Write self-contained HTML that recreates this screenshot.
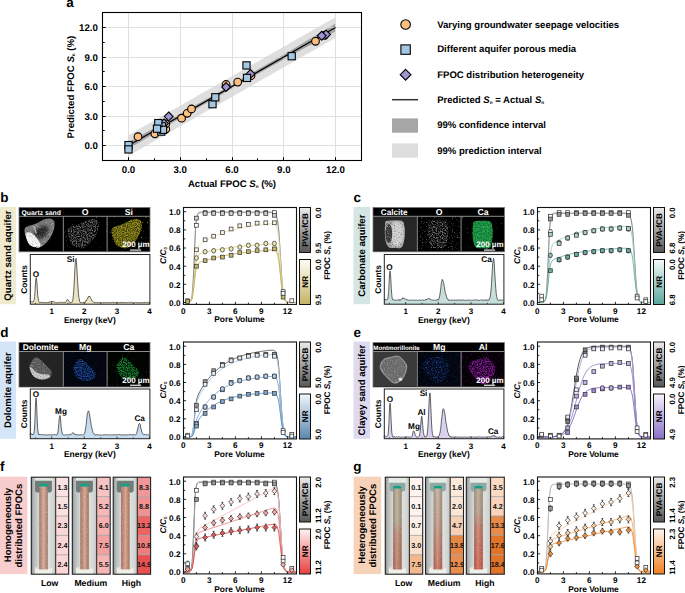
<!DOCTYPE html>
<html><head><meta charset="utf-8"><style>
html,body{margin:0;padding:0;background:#fff;width:685px;height:593px;overflow:hidden}
svg{display:block;font-family:"Liberation Sans",sans-serif;text-rendering:geometricPrecision}
</style></head><body>
<svg width="685" height="593" viewBox="0 0 685 593" font-family="Liberation Sans, sans-serif"><defs><linearGradient id="g1b" x1="0" y1="0" x2="0" y2="1"><stop offset="0" stop-color="#ececec"/><stop offset="1" stop-color="#555"/></linearGradient><linearGradient id="g2b" x1="0" y1="0" x2="0" y2="1"><stop offset="0" stop-color="#fffff6"/><stop offset="1" stop-color="#c4b264"/></linearGradient><filter id="bl" x="-50%" y="-50%" width="200%" height="200%"><feGaussianBlur stdDeviation="1.6"/></filter><filter id="bl2" x="-50%" y="-50%" width="200%" height="200%"><feGaussianBlur stdDeviation="0.6"/></filter><clipPath id="cb1"><path d="M49.8,218.6 C51.3,218.8 52.9,219.6 53.7,220.5 C54.5,221.4 54.6,222.7 54.6,224.3 C54.6,225.9 54.4,228 53.7,230.1 C53,232.3 51.8,235.1 50.5,237.2 C49.2,239.4 47.8,241.3 46,243 C44.2,244.7 41.8,246.9 39.6,247.5 C37.5,248.1 34.9,247.5 33.1,246.8 C31.3,246.2 29.9,245.5 28.6,243.6 C27.3,241.7 26.1,237.6 25.4,235.3 C24.7,233.1 24.4,231.5 24.5,230.1 C24.6,228.7 24.9,227.8 26.1,226.9 C27.3,226.1 29.8,225.8 31.8,225 C33.8,224.2 36.1,223.4 38.3,222.4 C40.4,221.4 42.8,219.8 44.7,219.2 C46.6,218.6 48.3,218.4 49.8,218.6 Z"/></clipPath><filter id="sp0" x="0" y="0" width="1" height="1" color-interpolation-filters="sRGB"><feTurbulence type="fractalNoise" baseFrequency="0.9" numOctaves="2" seed="7"/><feColorMatrix type="matrix" values="0 0 0 0 1.000 0 0 0 0 1.000 0 0 0 0 1.000 3.5 0 0 0 -2.0"/></filter><filter id="sp1" x="0" y="0" width="1" height="1" color-interpolation-filters="sRGB"><feTurbulence type="fractalNoise" baseFrequency="0.9" numOctaves="2" seed="57"/><feColorMatrix type="matrix" values="0 0 0 0 0.000 0 0 0 0 0.000 0 0 0 0 0.000 3.5 0 0 0 -2.0"/></filter><filter id="sp2" x="0" y="0" width="1" height="1" color-interpolation-filters="sRGB"><feTurbulence type="fractalNoise" baseFrequency="0.8" numOctaves="1" seed="14"/><feColorMatrix type="matrix" values="0 0 0 0 0.463 0 0 0 0 0.463 0 0 0 0 0.463 8 0 0 0 -5.5"/></filter><clipPath id="cb2"><path d="M93.6,219.1 C95.2,219.3 96.8,220.1 97.6,221 C98.5,221.9 98.6,223.2 98.6,224.8 C98.6,226.4 98.3,228.5 97.6,230.6 C96.9,232.8 95.7,235.6 94.3,237.7 C93,239.9 91.6,241.8 89.7,243.5 C87.8,245.2 85.3,247.4 83.1,248 C80.9,248.6 78.3,248 76.4,247.3 C74.5,246.7 73.1,246 71.8,244.1 C70.5,242.2 69.2,238.1 68.5,235.8 C67.8,233.6 67.4,232 67.6,230.6 C67.7,229.2 68,228.2 69.2,227.4 C70.5,226.6 73,226.2 75.1,225.5 C77.2,224.8 79.6,223.9 81.8,222.9 C84,221.9 86.4,220.3 88.4,219.7 C90.3,219.1 92.1,218.9 93.6,219.1 Z"/></clipPath><filter id="sp3" x="0" y="0" width="1" height="1" color-interpolation-filters="sRGB"><feTurbulence type="fractalNoise" baseFrequency="0.8" numOctaves="1" seed="4"/><feColorMatrix type="matrix" values="0 0 0 0 0.463 0 0 0 0 0.463 0 0 0 0 0.463 3 0 0 0 -1.15"/></filter><filter id="sp4" x="0" y="0" width="1" height="1" color-interpolation-filters="sRGB"><feTurbulence type="fractalNoise" baseFrequency="0.8" numOctaves="1" seed="15"/><feColorMatrix type="matrix" values="0 0 0 0 0.604 0 0 0 0 0.573 0 0 0 0 0.110 8 0 0 0 -5.5"/></filter><clipPath id="cb3"><path d="M136.9,219.1 C138.4,219.3 140,220.1 140.8,221 C141.6,221.9 141.7,223.2 141.7,224.8 C141.7,226.4 141.5,228.5 140.8,230.6 C140.1,232.8 138.9,235.6 137.6,237.7 C136.3,239.9 134.9,241.8 133.1,243.5 C131.3,245.2 128.8,247.4 126.7,248 C124.5,248.6 122,248 120.2,247.3 C118.4,246.7 117,246 115.7,244.1 C114.4,242.2 113.2,238.1 112.5,235.8 C111.8,233.6 111.5,232 111.6,230.6 C111.7,229.2 112,228.2 113.2,227.4 C114.4,226.6 116.9,226.2 118.9,225.5 C120.9,224.8 123.2,223.9 125.4,222.9 C127.5,221.9 129.9,220.3 131.8,219.7 C133.7,219.1 135.4,218.9 136.9,219.1 Z"/></clipPath><filter id="sp5" x="0" y="0" width="1" height="1" color-interpolation-filters="sRGB"><feTurbulence type="fractalNoise" baseFrequency="0.8" numOctaves="1" seed="5"/><feColorMatrix type="matrix" values="0 0 0 0 0.604 0 0 0 0 0.573 0 0 0 0 0.110 3 0 0 0 -1.0"/></filter><clipPath id="cb4"><path d="M386,221.3 C387.5,220.4 391.2,220.6 394,220.6 C396.8,220.6 400.8,220.3 402.5,221.2 C404.2,222.1 403.9,223.9 404.3,225.8 C404.7,227.7 404.9,230.3 404.8,232.8 C404.8,235.3 404.6,238.4 404,240.8 C403.4,243.2 403,246.2 401.5,247.4 C400,248.6 397.1,248 395,248 C392.9,248 390.3,248.2 388.8,247.2 C387.3,246.2 386.5,244.2 385.8,241.8 C385.1,239.4 384.9,235.5 384.8,232.8 C384.7,230.1 384.8,227.7 385,225.8 C385.2,223.9 384.5,222.2 386,221.3 Z"/></clipPath><filter id="sp6" x="0" y="0" width="1" height="1" color-interpolation-filters="sRGB"><feTurbulence type="fractalNoise" baseFrequency="0.9" numOctaves="2" seed="8"/><feColorMatrix type="matrix" values="0 0 0 0 1.000 0 0 0 0 1.000 0 0 0 0 1.000 3.0 0 0 0 -1.6"/></filter><filter id="sp7" x="0" y="0" width="1" height="1" color-interpolation-filters="sRGB"><feTurbulence type="fractalNoise" baseFrequency="0.9" numOctaves="2" seed="58"/><feColorMatrix type="matrix" values="0 0 0 0 0.000 0 0 0 0 0.000 0 0 0 0 0.000 3.0 0 0 0 -1.6"/></filter><filter id="sp8" x="0" y="0" width="1" height="1" color-interpolation-filters="sRGB"><feTurbulence type="fractalNoise" baseFrequency="0.8" numOctaves="1" seed="16"/><feColorMatrix type="matrix" values="0 0 0 0 0.549 0 0 0 0 0.549 0 0 0 0 0.549 3 0 0 0 -1.75"/></filter><clipPath id="cb5"><path d="M429.4,221.3 C430.9,220.4 434.6,220.6 437.4,220.6 C440.1,220.6 444.2,220.3 445.9,221.2 C447.6,222.1 447.3,223.9 447.7,225.8 C448.1,227.7 448.2,230.3 448.2,232.8 C448.1,235.3 447.9,238.4 447.4,240.8 C446.8,243.2 446.4,246.2 444.9,247.4 C443.4,248.6 440.5,248 438.4,248 C436.3,248 433.7,248.2 432.2,247.2 C430.7,246.2 429.9,244.2 429.2,241.8 C428.5,239.4 428.3,235.5 428.2,232.8 C428.1,230.1 428.2,227.7 428.4,225.8 C428.6,223.9 427.9,222.2 429.4,221.3 Z"/></clipPath><filter id="sp9" x="0" y="0" width="1" height="1" color-interpolation-filters="sRGB"><feTurbulence type="fractalNoise" baseFrequency="0.8" numOctaves="1" seed="6"/><feColorMatrix type="matrix" values="0 0 0 0 0.549 0 0 0 0 0.549 0 0 0 0 0.549 3 0 0 0 -1.3"/></filter><filter id="sp10" x="0" y="0" width="1" height="1" color-interpolation-filters="sRGB"><feTurbulence type="fractalNoise" baseFrequency="0.8" numOctaves="1" seed="19"/><feColorMatrix type="matrix" values="0 0 0 0 0.133 0 0 0 0 0.690 0 0 0 0 0.322 8 0 0 0 -5.6"/></filter><clipPath id="cb6"><path d="M474.1,221.8 C475.6,221 478.9,220.9 481.6,220.8 C484.3,220.7 488.3,220.4 490.1,221.4 C491.9,222.4 491.8,224.7 492.2,226.8 C492.6,228.9 492.7,231.3 492.6,233.8 C492.5,236.3 492.3,239.5 491.8,241.8 C491.3,244.1 491.1,246.7 489.6,247.8 C488.1,248.9 484.9,248.4 482.6,248.3 C480.4,248.2 477.6,248.5 476.1,247.4 C474.6,246.3 474,244.2 473.4,241.8 C472.8,239.4 472.7,235.5 472.6,232.8 C472.5,230.1 472.7,227.6 472.9,225.8 C473.2,224 472.7,222.6 474.1,221.8 Z"/></clipPath><filter id="sp11" x="0" y="0" width="1" height="1" color-interpolation-filters="sRGB"><feTurbulence type="fractalNoise" baseFrequency="0.8" numOctaves="1" seed="9"/><feColorMatrix type="matrix" values="0 0 0 0 0.133 0 0 0 0 0.690 0 0 0 0 0.322 3 0 0 0 -1.0"/></filter><clipPath id="cb7"><path d="M35.5,357.4 C37.1,356.8 38.4,358.1 40.2,359.4 C42,360.7 44.3,363.4 46.2,365.4 C48.1,367.4 51,369.5 51.6,371.5 C52.2,373.5 51.3,376.2 49.6,377.5 C47.9,378.8 44.2,379.7 41.5,379.5 C38.8,379.3 35.4,378.2 33.4,376.2 C31.4,374.2 29.8,369.7 29.4,367.5 C29,365.3 29.8,364.5 30.8,362.8 C31.8,361.1 33.9,358 35.5,357.4 Z"/></clipPath><filter id="sp12" x="0" y="0" width="1" height="1" color-interpolation-filters="sRGB"><feTurbulence type="fractalNoise" baseFrequency="0.9" numOctaves="2" seed="10"/><feColorMatrix type="matrix" values="0 0 0 0 1.000 0 0 0 0 1.000 0 0 0 0 1.000 3.5 0 0 0 -2.0"/></filter><filter id="sp13" x="0" y="0" width="1" height="1" color-interpolation-filters="sRGB"><feTurbulence type="fractalNoise" baseFrequency="0.9" numOctaves="2" seed="60"/><feColorMatrix type="matrix" values="0 0 0 0 0.000 0 0 0 0 0.000 0 0 0 0 0.000 3.5 0 0 0 -2.0"/></filter><filter id="sp14" x="0" y="0" width="1" height="1" color-interpolation-filters="sRGB"><feTurbulence type="fractalNoise" baseFrequency="0.8" numOctaves="1" seed="21"/><feColorMatrix type="matrix" values="0 0 0 0 0.102 0 0 0 0 0.267 0 0 0 0 0.580 3 0 0 0 -1.95"/></filter><clipPath id="cb8"><path d="M79.4,358.9 C81,358.3 82.3,359.6 84.1,360.9 C85.9,362.2 88.2,364.9 90.1,366.9 C92,368.9 94.9,371 95.5,373 C96.1,375 95.2,377.7 93.5,379 C91.8,380.3 88.1,381.2 85.4,381 C82.7,380.8 79.3,379.7 77.3,377.7 C75.3,375.7 73.7,371.2 73.3,369 C72.9,366.8 73.7,366 74.7,364.3 C75.7,362.6 77.8,359.5 79.4,358.9 Z"/></clipPath><filter id="sp15" x="0" y="0" width="1" height="1" color-interpolation-filters="sRGB"><feTurbulence type="fractalNoise" baseFrequency="0.8" numOctaves="1" seed="11"/><feColorMatrix type="matrix" values="0 0 0 0 0.102 0 0 0 0 0.267 0 0 0 0 0.580 3 0 0 0 -0.95"/></filter><filter id="sp16" x="0" y="0" width="1" height="1" color-interpolation-filters="sRGB"><feTurbulence type="fractalNoise" baseFrequency="0.8" numOctaves="1" seed="22"/><feColorMatrix type="matrix" values="0 0 0 0 0.094 0 0 0 0 0.541 0 0 0 0 0.204 3 0 0 0 -1.95"/></filter><clipPath id="cb9"><path d="M122.8,357.4 C124.4,356.8 125.7,358.1 127.5,359.4 C129.3,360.7 131.6,363.4 133.5,365.4 C135.4,367.4 138.3,369.5 138.9,371.5 C139.5,373.5 138.6,376.2 136.9,377.5 C135.2,378.8 131.5,379.7 128.8,379.5 C126.1,379.3 122.7,378.2 120.7,376.2 C118.7,374.2 117.1,369.7 116.7,367.5 C116.3,365.3 117.1,364.5 118.1,362.8 C119.1,361.1 121.2,358 122.8,357.4 Z"/></clipPath><filter id="sp17" x="0" y="0" width="1" height="1" color-interpolation-filters="sRGB"><feTurbulence type="fractalNoise" baseFrequency="0.8" numOctaves="1" seed="12"/><feColorMatrix type="matrix" values="0 0 0 0 0.094 0 0 0 0 0.541 0 0 0 0 0.204 3 0 0 0 -1.0"/></filter><clipPath id="cb10"><path d="M396.8,356 C398.4,356 398.6,355.9 400.2,357.4 C401.8,358.9 405.4,362.3 406.3,364.8 C407.2,367.3 406.4,369.8 405.6,372.2 C404.8,374.6 403.4,377.7 401.5,379.5 C399.6,381.3 396.6,383.3 394.2,382.9 C391.8,382.5 388.9,379 386.8,376.9 C384.7,374.8 382.5,372 381.4,370.1 C380.3,368.2 379.9,367.2 380.4,365.4 C380.8,363.6 382.4,360.7 384.1,359.4 C385.8,358.1 388.7,358 390.8,357.4 C392.9,356.8 395.2,356 396.8,356 Z"/></clipPath><filter id="sp18" x="0" y="0" width="1" height="1" color-interpolation-filters="sRGB"><feTurbulence type="fractalNoise" baseFrequency="0.9" numOctaves="2" seed="13"/><feColorMatrix type="matrix" values="0 0 0 0 1.000 0 0 0 0 1.000 0 0 0 0 1.000 3.0 0 0 0 -1.6"/></filter><filter id="sp19" x="0" y="0" width="1" height="1" color-interpolation-filters="sRGB"><feTurbulence type="fractalNoise" baseFrequency="0.9" numOctaves="2" seed="63"/><feColorMatrix type="matrix" values="0 0 0 0 0.000 0 0 0 0 0.000 0 0 0 0 0.000 3.0 0 0 0 -1.6"/></filter><filter id="sp20" x="0" y="0" width="1" height="1" color-interpolation-filters="sRGB"><feTurbulence type="fractalNoise" baseFrequency="0.8" numOctaves="1" seed="24"/><feColorMatrix type="matrix" values="0 0 0 0 0.102 0 0 0 0 0.267 0 0 0 0 0.580 3 0 0 0 -1.8"/></filter><clipPath id="cb11"><path d="M439.2,356 C440.8,356 441,355.9 442.6,357.4 C444.2,358.9 447.8,362.3 448.7,364.8 C449.6,367.3 448.8,369.8 448,372.2 C447.2,374.6 445.8,377.7 443.9,379.5 C442,381.3 439,383.3 436.6,382.9 C434.1,382.5 431.3,379 429.2,376.9 C427.1,374.8 424.9,372 423.8,370.1 C422.7,368.2 422.3,367.2 422.8,365.4 C423.2,363.6 424.8,360.7 426.5,359.4 C428.2,358.1 431.1,358 433.2,357.4 C435.3,356.8 437.6,356 439.2,356 Z"/></clipPath><filter id="sp21" x="0" y="0" width="1" height="1" color-interpolation-filters="sRGB"><feTurbulence type="fractalNoise" baseFrequency="0.8" numOctaves="1" seed="14"/><feColorMatrix type="matrix" values="0 0 0 0 0.102 0 0 0 0 0.267 0 0 0 0 0.580 3 0 0 0 -1.35"/></filter><filter id="sp22" x="0" y="0" width="1" height="1" color-interpolation-filters="sRGB"><feTurbulence type="fractalNoise" baseFrequency="0.8" numOctaves="1" seed="25"/><feColorMatrix type="matrix" values="0 0 0 0 0.565 0 0 0 0 0.094 0 0 0 0 0.659 3 0 0 0 -1.85"/></filter><clipPath id="cb12"><path d="M485.4,357.5 C487,357.5 487.2,357.4 488.8,358.9 C490.4,360.4 494,363.8 494.9,366.3 C495.8,368.8 495,371.2 494.2,373.7 C493.4,376.1 492,379.2 490.1,381 C488.2,382.8 485.2,384.8 482.8,384.4 C480.4,384 477.5,380.5 475.4,378.4 C473.3,376.3 471.1,373.5 470,371.6 C468.9,369.7 468.6,368.7 469,366.9 C469.4,365.1 471,362.2 472.7,360.9 C474.4,359.6 477.3,359.5 479.4,358.9 C481.5,358.3 483.8,357.5 485.4,357.5 Z"/></clipPath><filter id="sp23" x="0" y="0" width="1" height="1" color-interpolation-filters="sRGB"><feTurbulence type="fractalNoise" baseFrequency="0.8" numOctaves="1" seed="15"/><feColorMatrix type="matrix" values="0 0 0 0 0.565 0 0 0 0 0.094 0 0 0 0 0.659 3 0 0 0 -1.05"/></filter><linearGradient id="g1c" x1="0" y1="0" x2="0" y2="1"><stop offset="0" stop-color="#ececec"/><stop offset="1" stop-color="#555"/></linearGradient><linearGradient id="g2c" x1="0" y1="0" x2="0" y2="1"><stop offset="0" stop-color="#f4faf9"/><stop offset="1" stop-color="#5aa69c"/></linearGradient><linearGradient id="g1d" x1="0" y1="0" x2="0" y2="1"><stop offset="0" stop-color="#ececec"/><stop offset="1" stop-color="#555"/></linearGradient><linearGradient id="g2d" x1="0" y1="0" x2="0" y2="1"><stop offset="0" stop-color="#f2f7fc"/><stop offset="1" stop-color="#5a86b0"/></linearGradient><linearGradient id="g1e" x1="0" y1="0" x2="0" y2="1"><stop offset="0" stop-color="#ececec"/><stop offset="1" stop-color="#555"/></linearGradient><linearGradient id="g2e" x1="0" y1="0" x2="0" y2="1"><stop offset="0" stop-color="#f6f4fb"/><stop offset="1" stop-color="#8a6ec8"/></linearGradient><linearGradient id="cg31" x1="0" y1="0" x2="1" y2="0"><stop offset="0" stop-color="#8a8e8c"/><stop offset="0.1" stop-color="#b4b8b6"/><stop offset="0.3" stop-color="#d2d5d3"/><stop offset="0.5" stop-color="#e0e2e0"/><stop offset="0.75" stop-color="#dcdedc"/><stop offset="0.92" stop-color="#cfd2d0"/><stop offset="1" stop-color="#b4b8b6"/></linearGradient><linearGradient id="tu435" x1="0" y1="0" x2="1" y2="0"><stop offset="0" stop-color="#a07868"/><stop offset="0.35" stop-color="#c69a8a"/><stop offset="0.5" stop-color="#d2aa9a"/><stop offset="0.7" stop-color="#c69a8a"/><stop offset="1" stop-color="#987060"/></linearGradient><filter id="sp24" x="0" y="0" width="1" height="1" color-interpolation-filters="sRGB"><feTurbulence type="fractalNoise" baseFrequency="1.2" numOctaves="1" seed="21"/><feColorMatrix type="matrix" values="0 0 0 0 0.957 0 0 0 0 0.878 0 0 0 0 0.847 4.0 0 0 0 -2.3"/></filter><linearGradient id="cg72" x1="0" y1="0" x2="1" y2="0"><stop offset="0" stop-color="#8a8e8c"/><stop offset="0.1" stop-color="#b4b8b6"/><stop offset="0.3" stop-color="#d2d5d3"/><stop offset="0.5" stop-color="#e0e2e0"/><stop offset="0.75" stop-color="#dcdedc"/><stop offset="0.92" stop-color="#cfd2d0"/><stop offset="1" stop-color="#b4b8b6"/></linearGradient><linearGradient id="tu845" x1="0" y1="0" x2="1" y2="0"><stop offset="0" stop-color="#a07868"/><stop offset="0.35" stop-color="#c29080"/><stop offset="0.5" stop-color="#d2aa9a"/><stop offset="0.7" stop-color="#c29080"/><stop offset="1" stop-color="#987060"/></linearGradient><linearGradient id="cg113" x1="0" y1="0" x2="1" y2="0"><stop offset="0" stop-color="#8a8e8c"/><stop offset="0.1" stop-color="#b4b8b6"/><stop offset="0.3" stop-color="#d2d5d3"/><stop offset="0.5" stop-color="#e0e2e0"/><stop offset="0.75" stop-color="#dcdedc"/><stop offset="0.92" stop-color="#cfd2d0"/><stop offset="1" stop-color="#b4b8b6"/></linearGradient><linearGradient id="tu1252" x1="0" y1="0" x2="1" y2="0"><stop offset="0" stop-color="#a07868"/><stop offset="0.35" stop-color="#ca8e7a"/><stop offset="0.5" stop-color="#d2aa9a"/><stop offset="0.7" stop-color="#ca8e7a"/><stop offset="1" stop-color="#987060"/></linearGradient><linearGradient id="cg385" x1="0" y1="0" x2="1" y2="0"><stop offset="0" stop-color="#8a8e8c"/><stop offset="0.1" stop-color="#b4b8b6"/><stop offset="0.3" stop-color="#d2d5d3"/><stop offset="0.5" stop-color="#e0e2e0"/><stop offset="0.75" stop-color="#dcdedc"/><stop offset="0.92" stop-color="#cfd2d0"/><stop offset="1" stop-color="#b4b8b6"/></linearGradient><linearGradient id="tg3973" x1="0" y1="0" x2="0" y2="1"><stop offset="0" stop-color="#b4a68e"/><stop offset="0.42" stop-color="#b4a48c"/><stop offset="0.55" stop-color="#bc8a74"/><stop offset="1" stop-color="#bc7460"/></linearGradient><linearGradient id="th3973" x1="0" y1="0" x2="1" y2="0"><stop offset="0" stop-color="#000" stop-opacity="0.18"/><stop offset="0.45" stop-color="#fff" stop-opacity="0.15"/><stop offset="1" stop-color="#000" stop-opacity="0.2"/></linearGradient><filter id="sp25" x="0" y="0" width="1" height="1" color-interpolation-filters="sRGB"><feTurbulence type="fractalNoise" baseFrequency="1.2" numOctaves="1" seed="22"/><feColorMatrix type="matrix" values="0 0 0 0 0.910 0 0 0 0 0.878 0 0 0 0 0.831 4.0 0 0 0 -2.3"/></filter><linearGradient id="cg425" x1="0" y1="0" x2="1" y2="0"><stop offset="0" stop-color="#8a8e8c"/><stop offset="0.1" stop-color="#b4b8b6"/><stop offset="0.3" stop-color="#d2d5d3"/><stop offset="0.5" stop-color="#e0e2e0"/><stop offset="0.75" stop-color="#dcdedc"/><stop offset="0.92" stop-color="#cfd2d0"/><stop offset="1" stop-color="#b4b8b6"/></linearGradient><linearGradient id="tg4378" x1="0" y1="0" x2="0" y2="1"><stop offset="0" stop-color="#bcac98"/><stop offset="0.4" stop-color="#c09a86"/><stop offset="1" stop-color="#c46a58"/></linearGradient><linearGradient id="th4378" x1="0" y1="0" x2="1" y2="0"><stop offset="0" stop-color="#000" stop-opacity="0.18"/><stop offset="0.45" stop-color="#fff" stop-opacity="0.15"/><stop offset="1" stop-color="#000" stop-opacity="0.2"/></linearGradient><linearGradient id="cg466" x1="0" y1="0" x2="1" y2="0"><stop offset="0" stop-color="#8a8e8c"/><stop offset="0.1" stop-color="#b4b8b6"/><stop offset="0.3" stop-color="#d2d5d3"/><stop offset="0.5" stop-color="#e0e2e0"/><stop offset="0.75" stop-color="#dcdedc"/><stop offset="0.92" stop-color="#cfd2d0"/><stop offset="1" stop-color="#b4b8b6"/></linearGradient><linearGradient id="tg4784" x1="0" y1="0" x2="0" y2="1"><stop offset="0" stop-color="#b4a48c"/><stop offset="0.3" stop-color="#b89a84"/><stop offset="0.5" stop-color="#c47a66"/><stop offset="1" stop-color="#d05a48"/></linearGradient><linearGradient id="th4784" x1="0" y1="0" x2="1" y2="0"><stop offset="0" stop-color="#000" stop-opacity="0.18"/><stop offset="0.45" stop-color="#fff" stop-opacity="0.15"/><stop offset="1" stop-color="#000" stop-opacity="0.2"/></linearGradient><linearGradient id="g1f" x1="0" y1="0" x2="0" y2="1"><stop offset="0" stop-color="#ececec"/><stop offset="1" stop-color="#555"/></linearGradient><linearGradient id="g2f" x1="0" y1="0" x2="0" y2="1"><stop offset="0" stop-color="#fff2f2"/><stop offset="1" stop-color="#e84040"/></linearGradient><linearGradient id="g1g" x1="0" y1="0" x2="0" y2="1"><stop offset="0" stop-color="#ececec"/><stop offset="1" stop-color="#555"/></linearGradient><linearGradient id="g2g" x1="0" y1="0" x2="0" y2="1"><stop offset="0" stop-color="#fff6ee"/><stop offset="1" stop-color="#f08020"/></linearGradient></defs><polygon points="128.5,135.2 137.1,130.3 145.8,125.3 154.4,120.4 163,115.5 171.6,110.6 180.2,105.7 188.9,100.8 197.5,95.8 206.1,90.9 214.8,86 223.4,81.1 232,76.2 240.6,71.3 249.2,66.3 257.9,61.4 266.5,56.5 275.1,51.6 283.8,46.7 292.4,41.8 301,36.8 309.6,31.9 318.2,27 326.9,22.1 335.5,17.2 335.5,37.8 326.9,42.7 318.2,47.7 309.6,52.6 301,57.5 292.4,62.4 283.8,67.3 275.1,72.2 266.5,77.2 257.9,82.1 249.2,87 240.6,91.9 232,96.8 223.4,101.7 214.8,106.7 206.1,111.6 197.5,116.5 188.9,121.4 180.2,126.3 171.6,131.2 163,136.2 154.4,141.1 145.8,146 137.1,150.9 128.5,155.8" fill="#dfdfdf" stroke="none" stroke-width="1" />
<polygon points="128.5,142.1 137.1,137.5 145.8,132.8 154.4,128 163,123.3 171.6,118.5 180.2,113.7 188.9,108.9 197.5,104.1 206.1,99.2 214.8,94.4 223.4,89.5 232,84.5 240.6,79.6 249.2,74.6 257.9,69.6 266.5,64.6 275.1,59.5 283.8,54.5 292.4,49.4 301,44.3 309.6,39.1 318.2,34 326.9,28.8 335.5,23.6 335.5,31.4 326.9,36.1 318.2,40.7 309.6,45.4 301,50.1 292.4,54.8 283.8,59.5 275.1,64.3 266.5,69.1 257.9,73.9 249.2,78.7 240.6,83.6 232,88.5 223.4,93.4 214.8,98.3 206.1,103.3 197.5,108.2 188.9,113.2 180.2,118.3 171.6,123.3 163,128.4 154.4,133.5 145.8,138.6 137.1,143.7 128.5,148.9" fill="#a2a2a2" stroke="none" stroke-width="1" />
<line x1="128.5" y1="12.5" x2="128.5" y2="160.5" stroke="#d8d8d8" stroke-width="1.0" opacity="0.8"/>
<line x1="102.5" y1="145.5" x2="361.5" y2="145.5" stroke="#d8d8d8" stroke-width="1.0" opacity="0.8"/>
<line x1="180.5" y1="12.5" x2="180.5" y2="160.5" stroke="#d8d8d8" stroke-width="1.0" opacity="0.8"/>
<line x1="102.5" y1="116.5" x2="361.5" y2="116.5" stroke="#d8d8d8" stroke-width="1.0" opacity="0.8"/>
<line x1="232.5" y1="12.5" x2="232.5" y2="160.5" stroke="#d8d8d8" stroke-width="1.0" opacity="0.8"/>
<line x1="102.5" y1="86.5" x2="361.5" y2="86.5" stroke="#d8d8d8" stroke-width="1.0" opacity="0.8"/>
<line x1="283.5" y1="12.5" x2="283.5" y2="160.5" stroke="#d8d8d8" stroke-width="1.0" opacity="0.8"/>
<line x1="102.5" y1="57.5" x2="361.5" y2="57.5" stroke="#d8d8d8" stroke-width="1.0" opacity="0.8"/>
<line x1="335.5" y1="12.5" x2="335.5" y2="160.5" stroke="#d8d8d8" stroke-width="1.0" opacity="0.8"/>
<line x1="102.5" y1="27.5" x2="361.5" y2="27.5" stroke="#d8d8d8" stroke-width="1.0" opacity="0.8"/>
<line x1="128.5" y1="145.5" x2="335.5" y2="27.5" stroke="#000" stroke-width="1.25" />
<rect x="102.5" y="12.5" width="259" height="148" fill="none" stroke="#000" stroke-width="1.1" />
<line x1="128.5" y1="160.5" x2="128.5" y2="157.2" stroke="#000" stroke-width="1" />
<line x1="102.5" y1="145.5" x2="105.8" y2="145.5" stroke="#000" stroke-width="1" />
<line x1="154.5" y1="160.5" x2="154.5" y2="158.3" stroke="#000" stroke-width="1" />
<line x1="102.5" y1="130.5" x2="104.7" y2="130.5" stroke="#000" stroke-width="1" />
<line x1="180.5" y1="160.5" x2="180.5" y2="157.2" stroke="#000" stroke-width="1" />
<line x1="102.5" y1="116.5" x2="105.8" y2="116.5" stroke="#000" stroke-width="1" />
<line x1="206.5" y1="160.5" x2="206.5" y2="158.3" stroke="#000" stroke-width="1" />
<line x1="102.5" y1="101.5" x2="104.7" y2="101.5" stroke="#000" stroke-width="1" />
<line x1="232.5" y1="160.5" x2="232.5" y2="157.2" stroke="#000" stroke-width="1" />
<line x1="102.5" y1="86.5" x2="105.8" y2="86.5" stroke="#000" stroke-width="1" />
<line x1="257.5" y1="160.5" x2="257.5" y2="158.3" stroke="#000" stroke-width="1" />
<line x1="102.5" y1="71.5" x2="104.7" y2="71.5" stroke="#000" stroke-width="1" />
<line x1="283.5" y1="160.5" x2="283.5" y2="157.2" stroke="#000" stroke-width="1" />
<line x1="102.5" y1="57.5" x2="105.8" y2="57.5" stroke="#000" stroke-width="1" />
<line x1="309.5" y1="160.5" x2="309.5" y2="158.3" stroke="#000" stroke-width="1" />
<line x1="102.5" y1="42.5" x2="104.7" y2="42.5" stroke="#000" stroke-width="1" />
<line x1="335.5" y1="160.5" x2="335.5" y2="157.2" stroke="#000" stroke-width="1" />
<line x1="102.5" y1="27.5" x2="105.8" y2="27.5" stroke="#000" stroke-width="1" />
<text x="128.5" y="173.4" font-size="9.7" font-weight="bold" text-anchor="middle" fill="#000" >0.0</text>
<text x="97.9" y="149" font-size="9.7" font-weight="bold" text-anchor="end" fill="#000" >0.0</text>
<text x="180.2" y="173.4" font-size="9.7" font-weight="bold" text-anchor="middle" fill="#000" >3.0</text>
<text x="97.9" y="119.5" font-size="9.7" font-weight="bold" text-anchor="end" fill="#000" >3.0</text>
<text x="232" y="173.4" font-size="9.7" font-weight="bold" text-anchor="middle" fill="#000" >6.0</text>
<text x="97.9" y="90" font-size="9.7" font-weight="bold" text-anchor="end" fill="#000" >6.0</text>
<text x="283.8" y="173.4" font-size="9.7" font-weight="bold" text-anchor="middle" fill="#000" >9.0</text>
<text x="97.9" y="60.5" font-size="9.7" font-weight="bold" text-anchor="end" fill="#000" >9.0</text>
<text x="335.5" y="173.4" font-size="9.7" font-weight="bold" text-anchor="middle" fill="#000" >12.0</text>
<text x="97.9" y="31" font-size="9.7" font-weight="bold" text-anchor="end" fill="#000" >12.0</text>
<text x="232" y="186.9" font-size="9.6" font-weight="bold" text-anchor="middle" fill="#000" >Actual FPOC <tspan font-style="italic">S</tspan><tspan font-size="4.6" dy="0.6">n</tspan><tspan dy="-0.6"> (%)</tspan></text>
<text x="74.4" y="87.1" font-size="9.65" font-weight="bold" text-anchor="middle" fill="#000" transform="rotate(-90 74.4 87.1)" >Predicted FPOC <tspan font-style="italic">S</tspan><tspan font-size="4.6" dy="0.6">n</tspan><tspan dy="-0.6"> (%)</tspan></text>
<text x="66.3" y="7" font-size="13.5" font-weight="bold" text-anchor="start" fill="#000" >a</text>
<circle cx="138" cy="136.7" r="3.85" fill="#fdbf80" stroke="#000" stroke-width="1.1"/>
<circle cx="154.9" cy="133.8" r="3.85" fill="#fdbf80" stroke="#000" stroke-width="1.1"/>
<circle cx="165.8" cy="129.1" r="3.85" fill="#fdbf80" stroke="#000" stroke-width="1.1"/>
<circle cx="165.8" cy="123.8" r="3.85" fill="#fdbf80" stroke="#000" stroke-width="1.1"/>
<circle cx="163" cy="126.8" r="3.85" fill="#fdbf80" stroke="#000" stroke-width="1.1"/>
<circle cx="181.6" cy="118.2" r="3.85" fill="#fdbf80" stroke="#000" stroke-width="1.1"/>
<circle cx="187.2" cy="113.3" r="3.85" fill="#fdbf80" stroke="#000" stroke-width="1.1"/>
<circle cx="191.5" cy="109" r="3.85" fill="#fdbf80" stroke="#000" stroke-width="1.1"/>
<circle cx="226.1" cy="84.5" r="3.85" fill="#fdbf80" stroke="#000" stroke-width="1.1"/>
<circle cx="237.7" cy="82.1" r="3.85" fill="#fdbf80" stroke="#000" stroke-width="1.1"/>
<circle cx="251" cy="75.7" r="3.85" fill="#fdbf80" stroke="#000" stroke-width="1.1"/>
<circle cx="315.5" cy="41.3" r="3.85" fill="#fdbf80" stroke="#000" stroke-width="1.1"/>
<circle cx="324.3" cy="35.4" r="3.85" fill="#fdbf80" stroke="#000" stroke-width="1.1"/>
<polygon points="326,30.2 330.4,34.6 326,39 321.6,34.6" fill="#a094d2" stroke="#000" stroke-width="1.1" />
<polygon points="164,119 168.4,123.4 164,127.8 159.6,123.4" fill="#a094d2" stroke="#000" stroke-width="1.1" />
<polygon points="168.7,112 173.1,116.4 168.7,120.8 164.3,116.4" fill="#a094d2" stroke="#000" stroke-width="1.1" />
<polygon points="226.1,82.6 230.5,87 226.1,91.4 221.7,87" fill="#a094d2" stroke="#000" stroke-width="1.1" />
<polygon points="250.5,69.5 254.9,73.9 250.5,78.3 246.1,73.9" fill="#a094d2" stroke="#000" stroke-width="1.1" />
<polygon points="321.7,31.4 326.1,35.8 321.7,40.2 317.3,35.8" fill="#a094d2" stroke="#000" stroke-width="1.1" />
<rect x="124.9" y="141.5" width="7.2" height="7.2" fill="#a3c6e3" stroke="#000" stroke-width="1.1" />
<rect x="124.9" y="145.8" width="7.2" height="7.2" fill="#a3c6e3" stroke="#000" stroke-width="1.1" />
<rect x="157.7" y="128" width="7.2" height="7.2" fill="#a3c6e3" stroke="#000" stroke-width="1.1" />
<rect x="158.4" y="122.8" width="7.2" height="7.2" fill="#a3c6e3" stroke="#000" stroke-width="1.1" />
<rect x="159.4" y="126.2" width="7.2" height="7.2" fill="#a3c6e3" stroke="#000" stroke-width="1.1" />
<rect x="154.7" y="119.5" width="7.2" height="7.2" fill="#a3c6e3" stroke="#000" stroke-width="1.1" />
<rect x="153.4" y="125.1" width="7.2" height="7.2" fill="#a3c6e3" stroke="#000" stroke-width="1.1" />
<rect x="208.9" y="100.6" width="7.2" height="7.2" fill="#a3c6e3" stroke="#000" stroke-width="1.1" />
<rect x="211.7" y="93.7" width="7.2" height="7.2" fill="#a3c6e3" stroke="#000" stroke-width="1.1" />
<rect x="242.9" y="61.8" width="7.2" height="7.2" fill="#a3c6e3" stroke="#000" stroke-width="1.1" />
<rect x="243.4" y="74.3" width="7.2" height="7.2" fill="#a3c6e3" stroke="#000" stroke-width="1.1" />
<rect x="288.1" y="52.6" width="7.2" height="7.2" fill="#a3c6e3" stroke="#000" stroke-width="1.1" />
<circle cx="405.6" cy="24.5" r="4.8" fill="#fdbf80" stroke="#000" stroke-width="1.1"/>
<rect x="400.9" y="44.9" width="9.4" height="9.4" fill="#a3c6e3" stroke="#000" stroke-width="1.1" />
<polygon points="405.6,69.3 411,74.7 405.6,80.1 400.2,74.7" fill="#a094d2" stroke="#000" stroke-width="1.1" />
<line x1="392" y1="99.7" x2="418" y2="99.7" stroke="#333" stroke-width="1.5" />
<rect x="392" y="118.4" width="26" height="14.3" fill="#a6a6a6" stroke="none" stroke-width="1" />
<rect x="392" y="143.4" width="26" height="14.3" fill="#dedede" stroke="none" stroke-width="1" />
<text x="437.2" y="27.9" font-size="9.55" font-weight="bold" text-anchor="start" fill="#000" >Varying groundwater seepage velocities</text>
<text x="437.2" y="52.4" font-size="9.55" font-weight="bold" text-anchor="start" fill="#000" >Different aquifer porous media</text>
<text x="437.2" y="77.8" font-size="9.55" font-weight="bold" text-anchor="start" fill="#000" >FPOC distribution heterogeneity</text>
<text x="437.2" y="103.1" font-size="9.55" font-weight="bold" text-anchor="start" fill="#000" >Predicted <tspan font-style="italic">S</tspan><tspan font-size="4.6" dy="0.6">n</tspan><tspan dy="-0.6"> = Actual </tspan><tspan font-style="italic">S</tspan><tspan font-size="4.6" dy="0.6">n</tspan><tspan dy="-0.6"></tspan></text>
<text x="437.2" y="128.4" font-size="9.55" font-weight="bold" text-anchor="start" fill="#000" >99% confidence interval</text>
<text x="437.2" y="153.9" font-size="9.55" font-weight="bold" text-anchor="start" fill="#000" >99% prediction interval</text>
<polyline points="183.4,302.5 184.3,302.5 185.1,302.5 186,302.5 186.9,302.5 187.7,302.5 188.6,302.4 189.5,302.1 190.3,301.5 191.2,299.9 192.1,295.7 192.9,286.1 193.8,268.6 194.7,246.5 195.5,228.7 196.4,219 197.3,214.6 198.1,212.9 199,212.2 199.9,211.9 200.7,211.8 201.6,211.8 202.5,211.7 203.3,211.7 204.2,211.7 205.1,211.7 205.9,211.7 206.8,211.7 207.7,211.7 208.5,211.7 209.4,211.7 210.3,211.7 211.1,211.7 212,211.7 212.9,211.7 213.7,211.7 214.6,211.7 215.5,211.7 216.3,211.7 217.2,211.7 218.1,211.7 218.9,211.7 219.8,211.7 220.7,211.7 221.5,211.7 222.4,211.7 223.3,211.7 224.1,211.7 225,211.7 225.9,211.7 226.8,211.7 227.6,211.7 228.5,211.7 229.4,211.7 230.2,211.7 231.1,211.7 232,211.7 232.8,211.7 233.7,211.7 234.6,211.7 235.4,211.7 236.3,211.7 237.2,211.7 238,211.7 238.9,211.7 239.8,211.7 240.6,211.7 241.5,211.7 242.4,211.7 243.2,211.7 244.1,211.7 245,211.7 245.8,211.7 246.7,211.7 247.6,211.7 248.4,211.7 249.3,211.7 250.2,211.7 251,211.7 251.9,211.7 252.8,211.7 253.6,211.7 254.5,211.7 255.4,211.7 256.2,211.7 257.1,211.7 258,211.7 258.8,211.7 259.7,211.7 260.6,211.7 261.4,211.7 262.3,211.7 263.2,211.7 264,211.7 264.9,211.7 265.8,211.7 266.6,211.7 267.5,211.7 268.4,211.7 269.2,211.7 270.1,211.7 271,211.8 271.8,211.8 272.7,211.9 273.6,212.1 274.4,212.5 275.3,213.3 276.2,214.8 277,217.6 277.9,222.5 278.8,230.6 279.6,242.5 280.5,257.1 281.4,271.7 282.2,283.6 283.1,291.7 284,296.6 284.8,299.4 285.7,300.9 286.6,301.7 287.4,302.1 288.3,302.3 289.2,302.4 290,302.4 290.9,302.5 291.8,302.5 292.6,302.5 293.5,302.5 294.4,302.5 295.2,302.5 296.1,302.5" fill="none" stroke="#bdbdbd" stroke-width="0.9" stroke-linejoin="round"/>
<polyline points="183.4,302.5 184.3,302.5 185.1,302.5 186,302.5 186.9,302.5 187.7,302.5 188.6,302.4 189.5,302.1 190.3,301.5 191.2,299.9 192.1,295.7 192.9,286.3 193.8,268.9 194.7,247 195.5,229.5 196.4,219.8 197.3,215.5 198.1,213.8 199,213.1 199.9,212.8 200.7,212.7 201.6,212.7 202.5,212.7 203.3,212.6 204.2,212.6 205.1,212.6 205.9,212.6 206.8,212.6 207.7,212.6 208.5,212.6 209.4,212.6 210.3,212.6 211.1,212.6 212,212.6 212.9,212.6 213.7,212.6 214.6,212.6 215.5,212.6 216.3,212.6 217.2,212.6 218.1,212.6 218.9,212.6 219.8,212.6 220.7,212.6 221.5,212.6 222.4,212.6 223.3,212.6 224.1,212.6 225,212.6 225.9,212.6 226.8,212.6 227.6,212.6 228.5,212.6 229.4,212.6 230.2,212.6 231.1,212.6 232,212.6 232.8,212.6 233.7,212.6 234.6,212.6 235.4,212.6 236.3,212.6 237.2,212.6 238,212.6 238.9,212.6 239.8,212.6 240.6,212.6 241.5,212.6 242.4,212.6 243.2,212.6 244.1,212.6 245,212.6 245.8,212.6 246.7,212.6 247.6,212.6 248.4,212.6 249.3,212.6 250.2,212.6 251,212.6 251.9,212.6 252.8,212.6 253.6,212.6 254.5,212.6 255.4,212.6 256.2,212.6 257.1,212.6 258,212.6 258.8,212.6 259.7,212.6 260.6,212.6 261.4,212.6 262.3,212.6 263.2,212.6 264,212.6 264.9,212.6 265.8,212.6 266.6,212.6 267.5,212.6 268.4,212.6 269.2,212.6 270.1,212.6 271,212.7 271.8,212.7 272.7,212.8 273.6,213 274.4,213.4 275.3,214.2 276.2,215.7 277,218.4 277.9,223.3 278.8,231.4 279.6,243.1 280.5,257.6 281.4,272 282.2,283.7 283.1,291.8 284,296.7 284.8,299.4 285.7,300.9 286.6,301.7 287.4,302.1 288.3,302.3 289.2,302.4 290,302.4 290.9,302.5 291.8,302.5 292.6,302.5 293.5,302.5 294.4,302.5 295.2,302.5 296.1,302.5" fill="none" stroke="#8a8a8a" stroke-width="0.9" stroke-linejoin="round"/>
<polyline points="183.4,302.5 184.3,302.5 185.1,302.5 186,302.5 186.9,302.5 187.7,302.4 188.6,302.3 189.5,302.1 190.3,301.7 191.2,300.6 192.1,298.4 192.9,293.8 193.8,286 194.7,275.3 195.5,264.1 196.4,255.6 197.3,250.3 198.1,247.4 199,245.7 199.9,244.6 200.7,243.8 201.6,243.2 202.5,242.6 203.3,242 204.2,241.5 205.1,241 205.9,240.5 206.8,240 207.7,239.5 208.5,239 209.4,238.6 210.3,238.1 211.1,237.7 212,237.3 212.9,236.9 213.7,236.5 214.6,236.1 215.5,235.7 216.3,235.4 217.2,235 218.1,234.6 218.9,234.3 219.8,234 220.7,233.6 221.5,233.3 222.4,233 223.3,232.7 224.1,232.4 225,232.1 225.9,231.9 226.8,231.6 227.6,231.3 228.5,231.1 229.4,230.8 230.2,230.6 231.1,230.3 232,230.1 232.8,229.8 233.7,229.6 234.6,229.4 235.4,229.2 236.3,229 237.2,228.8 238,228.6 238.9,228.4 239.8,228.2 240.6,228 241.5,227.8 242.4,227.7 243.2,227.5 244.1,227.3 245,227.2 245.8,227 246.7,226.9 247.6,226.7 248.4,226.6 249.3,226.4 250.2,226.3 251,226.1 251.9,226 252.8,225.9 253.6,225.8 254.5,225.6 255.4,225.5 256.2,225.4 257.1,225.3 258,225.2 258.8,225.1 259.7,225 260.6,224.9 261.4,224.8 262.3,224.7 263.2,224.6 264,224.5 264.9,224.4 265.8,224.3 266.6,224.2 267.5,224.1 268.4,224 269.2,224 270.1,223.9 271,223.8 271.8,223.8 272.7,223.8 273.6,224 274.4,224.2 275.3,224.9 276.2,226.1 277,228.5 277.9,232.7 278.8,239.7 279.6,250.1 280.5,262.8 281.4,275.5 282.2,285.9 283.1,293 284,297.3 284.8,299.8 285.7,301.1 286.6,301.8 287.4,302.1 288.3,302.3 289.2,302.4 290,302.4 290.9,302.5 291.8,302.5 292.6,302.5 293.5,302.5 294.4,302.5 295.2,302.5 296.1,302.5" fill="none" stroke="#e6dfa8" stroke-width="0.9" stroke-linejoin="round"/>
<polyline points="183.4,302.5 184.3,302.5 185.1,302.5 186,302.5 186.9,302.5 187.7,302.4 188.6,302.3 189.5,302 190.3,301.4 191.2,300.1 192.1,297.3 192.9,292 193.8,283.7 194.7,274 195.5,265.5 196.4,259.9 197.3,256.8 198.1,255.2 199,254.4 199.9,253.8 200.7,253.5 201.6,253.2 202.5,252.9 203.3,252.7 204.2,252.5 205.1,252.3 205.9,252.1 206.8,251.9 207.7,251.7 208.5,251.5 209.4,251.3 210.3,251.1 211.1,250.9 212,250.7 212.9,250.5 213.7,250.3 214.6,250.2 215.5,250 216.3,249.8 217.2,249.7 218.1,249.5 218.9,249.4 219.8,249.2 220.7,249.1 221.5,248.9 222.4,248.8 223.3,248.6 224.1,248.5 225,248.4 225.9,248.2 226.8,248.1 227.6,248 228.5,247.8 229.4,247.7 230.2,247.6 231.1,247.5 232,247.4 232.8,247.3 233.7,247.1 234.6,247 235.4,246.9 236.3,246.8 237.2,246.7 238,246.6 238.9,246.5 239.8,246.4 240.6,246.3 241.5,246.2 242.4,246.2 243.2,246.1 244.1,246 245,245.9 245.8,245.8 246.7,245.7 247.6,245.6 248.4,245.6 249.3,245.5 250.2,245.4 251,245.3 251.9,245.3 252.8,245.2 253.6,245.1 254.5,245.1 255.4,245 256.2,244.9 257.1,244.9 258,244.8 258.8,244.7 259.7,244.7 260.6,244.6 261.4,244.6 262.3,244.5 263.2,244.4 264,244.4 264.9,244.3 265.8,244.3 266.6,244.2 267.5,244.2 268.4,244.1 269.2,244.1 270.1,244.1 271,244 271.8,244 272.7,244 273.6,244.1 274.4,244.4 275.3,244.8 276.2,245.7 277,247.5 277.9,250.7 278.8,255.9 279.6,263.6 280.5,273 281.4,282.5 282.2,290.2 283.1,295.5 284,298.7 284.8,300.5 285.7,301.4 286.6,301.9 287.4,302.2 288.3,302.4 289.2,302.4 290,302.5 290.9,302.5 291.8,302.5 292.6,302.5 293.5,302.5 294.4,302.5 295.2,302.5 296.1,302.5" fill="none" stroke="#d8cc80" stroke-width="0.9" stroke-linejoin="round"/>
<polyline points="183.4,302.5 184.3,302.5 185.1,302.5 186,302.5 186.9,302.5 187.7,302.4 188.6,302.3 189.5,302.1 190.3,301.6 191.2,300.5 192.1,298.3 192.9,294 193.8,287.3 194.7,279.4 195.5,272.5 196.4,267.8 197.3,265.2 198.1,263.8 199,263 199.9,262.4 200.7,262 201.6,261.7 202.5,261.4 203.3,261.1 204.2,260.8 205.1,260.5 205.9,260.3 206.8,260 207.7,259.8 208.5,259.5 209.4,259.3 210.3,259 211.1,258.8 212,258.6 212.9,258.3 213.7,258.1 214.6,257.9 215.5,257.7 216.3,257.5 217.2,257.3 218.1,257.1 218.9,256.9 219.8,256.7 220.7,256.5 221.5,256.3 222.4,256.1 223.3,255.9 224.1,255.8 225,255.6 225.9,255.4 226.8,255.3 227.6,255.1 228.5,254.9 229.4,254.8 230.2,254.6 231.1,254.5 232,254.3 232.8,254.2 233.7,254.1 234.6,253.9 235.4,253.8 236.3,253.7 237.2,253.5 238,253.4 238.9,253.3 239.8,253.1 240.6,253 241.5,252.9 242.4,252.8 243.2,252.7 244.1,252.6 245,252.5 245.8,252.4 246.7,252.3 247.6,252.2 248.4,252.1 249.3,252 250.2,251.9 251,251.8 251.9,251.7 252.8,251.6 253.6,251.5 254.5,251.4 255.4,251.3 256.2,251.2 257.1,251.2 258,251.1 258.8,251 259.7,250.9 260.6,250.8 261.4,250.8 262.3,250.7 263.2,250.6 264,250.6 264.9,250.5 265.8,250.4 266.6,250.4 267.5,250.3 268.4,250.2 269.2,250.2 270.1,250.1 271,250.1 271.8,250.1 272.7,250.1 273.6,250.1 274.4,250.3 275.3,250.7 276.2,251.5 277,253.1 277.9,255.9 278.8,260.6 279.6,267.5 280.5,276 281.4,284.5 282.2,291.4 283.1,296.2 284,299 284.8,300.7 285.7,301.5 286.6,302 287.4,302.2 288.3,302.4 289.2,302.4 290,302.5 290.9,302.5 291.8,302.5 292.6,302.5 293.5,302.5 294.4,302.5 295.2,302.5 296.1,302.5" fill="none" stroke="#c0ae5a" stroke-width="0.9" stroke-linejoin="round"/>
<rect x="194.5" y="223.4" width="3.8" height="3.8" fill="#ffffff" stroke="#333" stroke-width="0.72" />
<rect x="203.2" y="210.7" width="3.8" height="3.8" fill="#ffffff" stroke="#333" stroke-width="0.72" />
<rect x="211.8" y="210.7" width="3.8" height="3.8" fill="#ffffff" stroke="#333" stroke-width="0.72" />
<rect x="220.5" y="210.7" width="3.8" height="3.8" fill="#ffffff" stroke="#333" stroke-width="0.72" />
<rect x="229.2" y="210.7" width="3.8" height="3.8" fill="#ffffff" stroke="#333" stroke-width="0.72" />
<rect x="237.9" y="210.7" width="3.8" height="3.8" fill="#ffffff" stroke="#333" stroke-width="0.72" />
<rect x="246.5" y="210.7" width="3.8" height="3.8" fill="#ffffff" stroke="#333" stroke-width="0.72" />
<rect x="255.2" y="210.7" width="3.8" height="3.8" fill="#ffffff" stroke="#333" stroke-width="0.72" />
<rect x="263.9" y="210.7" width="3.8" height="3.8" fill="#ffffff" stroke="#333" stroke-width="0.72" />
<rect x="272.5" y="210.7" width="3.8" height="3.8" fill="#ffffff" stroke="#333" stroke-width="0.72" />
<rect x="194.5" y="216.2" width="3.8" height="3.8" fill="#d0d0d0" stroke="#333" stroke-width="0.72" />
<rect x="203.2" y="211.6" width="3.8" height="3.8" fill="#d0d0d0" stroke="#333" stroke-width="0.72" />
<rect x="211.8" y="211.6" width="3.8" height="3.8" fill="#d0d0d0" stroke="#333" stroke-width="0.72" />
<rect x="220.5" y="211.6" width="3.8" height="3.8" fill="#d0d0d0" stroke="#333" stroke-width="0.72" />
<rect x="229.2" y="211.6" width="3.8" height="3.8" fill="#d0d0d0" stroke="#333" stroke-width="0.72" />
<rect x="237.9" y="211.6" width="3.8" height="3.8" fill="#d0d0d0" stroke="#333" stroke-width="0.72" />
<rect x="246.5" y="211.6" width="3.8" height="3.8" fill="#d0d0d0" stroke="#333" stroke-width="0.72" />
<rect x="255.2" y="211.6" width="3.8" height="3.8" fill="#d0d0d0" stroke="#333" stroke-width="0.72" />
<rect x="263.9" y="211.6" width="3.8" height="3.8" fill="#d0d0d0" stroke="#333" stroke-width="0.72" />
<rect x="272.5" y="213.4" width="3.8" height="3.8" fill="#d0d0d0" stroke="#333" stroke-width="0.72" />
<rect x="194.5" y="247.9" width="3.8" height="3.8" fill="#f8f4e0" stroke="#333" stroke-width="0.72" />
<rect x="203.2" y="237.9" width="3.8" height="3.8" fill="#f8f4e0" stroke="#333" stroke-width="0.72" />
<rect x="211.8" y="234.3" width="3.8" height="3.8" fill="#f8f4e0" stroke="#333" stroke-width="0.72" />
<rect x="220.5" y="230.7" width="3.8" height="3.8" fill="#f8f4e0" stroke="#333" stroke-width="0.72" />
<rect x="229.2" y="227.1" width="3.8" height="3.8" fill="#f8f4e0" stroke="#333" stroke-width="0.72" />
<rect x="237.9" y="223.9" width="3.8" height="3.8" fill="#f8f4e0" stroke="#333" stroke-width="0.72" />
<rect x="246.5" y="222.5" width="3.8" height="3.8" fill="#f8f4e0" stroke="#333" stroke-width="0.72" />
<rect x="255.2" y="221.2" width="3.8" height="3.8" fill="#f8f4e0" stroke="#333" stroke-width="0.72" />
<rect x="263.9" y="220.9" width="3.8" height="3.8" fill="#f8f4e0" stroke="#333" stroke-width="0.72" />
<rect x="272.5" y="220.9" width="3.8" height="3.8" fill="#f8f4e0" stroke="#333" stroke-width="0.72" />
<line x1="196.4" y1="256.6" x2="196.4" y2="259.4" stroke="#222" stroke-width="0.8" />
<line x1="195.4" y1="256.6" x2="197.4" y2="256.6" stroke="#222" stroke-width="0.7" />
<line x1="195.4" y1="259.4" x2="197.4" y2="259.4" stroke="#222" stroke-width="0.7" />
<ellipse cx="196.4" cy="258" rx="2.0" ry="2.3" fill="#f0e8b0" stroke="#333" stroke-width="0.72"/>
<line x1="205.1" y1="250.3" x2="205.1" y2="253" stroke="#222" stroke-width="0.8" />
<line x1="204.1" y1="250.3" x2="206.1" y2="250.3" stroke="#222" stroke-width="0.7" />
<line x1="204.1" y1="253" x2="206.1" y2="253" stroke="#222" stroke-width="0.7" />
<ellipse cx="205.1" cy="251.7" rx="2.0" ry="2.3" fill="#f0e8b0" stroke="#333" stroke-width="0.72"/>
<line x1="213.7" y1="249.4" x2="213.7" y2="252.1" stroke="#222" stroke-width="0.8" />
<line x1="212.7" y1="249.4" x2="214.7" y2="249.4" stroke="#222" stroke-width="0.7" />
<line x1="212.7" y1="252.1" x2="214.7" y2="252.1" stroke="#222" stroke-width="0.7" />
<ellipse cx="213.7" cy="250.7" rx="2.0" ry="2.3" fill="#f0e8b0" stroke="#333" stroke-width="0.72"/>
<line x1="222.4" y1="248.5" x2="222.4" y2="251.2" stroke="#222" stroke-width="0.8" />
<line x1="221.4" y1="248.5" x2="223.4" y2="248.5" stroke="#222" stroke-width="0.7" />
<line x1="221.4" y1="251.2" x2="223.4" y2="251.2" stroke="#222" stroke-width="0.7" />
<ellipse cx="222.4" cy="249.8" rx="2.0" ry="2.3" fill="#f0e8b0" stroke="#333" stroke-width="0.72"/>
<line x1="231.1" y1="247.6" x2="231.1" y2="250.3" stroke="#222" stroke-width="0.8" />
<line x1="230.1" y1="247.6" x2="232.1" y2="247.6" stroke="#222" stroke-width="0.7" />
<line x1="230.1" y1="250.3" x2="232.1" y2="250.3" stroke="#222" stroke-width="0.7" />
<ellipse cx="231.1" cy="248.9" rx="2.0" ry="2.3" fill="#f0e8b0" stroke="#333" stroke-width="0.72"/>
<line x1="239.8" y1="245.8" x2="239.8" y2="248.5" stroke="#222" stroke-width="0.8" />
<line x1="238.8" y1="245.8" x2="240.8" y2="245.8" stroke="#222" stroke-width="0.7" />
<line x1="238.8" y1="248.5" x2="240.8" y2="248.5" stroke="#222" stroke-width="0.7" />
<ellipse cx="239.8" cy="247.1" rx="2.0" ry="2.3" fill="#f0e8b0" stroke="#333" stroke-width="0.72"/>
<line x1="248.4" y1="243.9" x2="248.4" y2="246.7" stroke="#222" stroke-width="0.8" />
<line x1="247.4" y1="243.9" x2="249.4" y2="243.9" stroke="#222" stroke-width="0.7" />
<line x1="247.4" y1="246.7" x2="249.4" y2="246.7" stroke="#222" stroke-width="0.7" />
<ellipse cx="248.4" cy="245.3" rx="2.0" ry="2.3" fill="#f0e8b0" stroke="#333" stroke-width="0.72"/>
<line x1="257.1" y1="243.9" x2="257.1" y2="246.7" stroke="#222" stroke-width="0.8" />
<line x1="256.1" y1="243.9" x2="258.1" y2="243.9" stroke="#222" stroke-width="0.7" />
<line x1="256.1" y1="246.7" x2="258.1" y2="246.7" stroke="#222" stroke-width="0.7" />
<ellipse cx="257.1" cy="245.3" rx="2.0" ry="2.3" fill="#f0e8b0" stroke="#333" stroke-width="0.72"/>
<line x1="265.8" y1="242.1" x2="265.8" y2="244.8" stroke="#222" stroke-width="0.8" />
<line x1="264.8" y1="242.1" x2="266.8" y2="242.1" stroke="#222" stroke-width="0.7" />
<line x1="264.8" y1="244.8" x2="266.8" y2="244.8" stroke="#222" stroke-width="0.7" />
<ellipse cx="265.8" cy="243.5" rx="2.0" ry="2.3" fill="#f0e8b0" stroke="#333" stroke-width="0.72"/>
<line x1="274.4" y1="242.1" x2="274.4" y2="244.8" stroke="#222" stroke-width="0.8" />
<line x1="273.4" y1="242.1" x2="275.4" y2="242.1" stroke="#222" stroke-width="0.7" />
<line x1="273.4" y1="244.8" x2="275.4" y2="244.8" stroke="#222" stroke-width="0.7" />
<ellipse cx="274.4" cy="243.5" rx="2.0" ry="2.3" fill="#f0e8b0" stroke="#333" stroke-width="0.72"/>
<rect x="194.5" y="264.3" width="3.8" height="3.8" fill="#c8b868" stroke="#333" stroke-width="0.72" />
<rect x="203.2" y="258.8" width="3.8" height="3.8" fill="#c8b868" stroke="#333" stroke-width="0.72" />
<rect x="211.8" y="256.1" width="3.8" height="3.8" fill="#c8b868" stroke="#333" stroke-width="0.72" />
<rect x="220.5" y="255.2" width="3.8" height="3.8" fill="#c8b868" stroke="#333" stroke-width="0.72" />
<rect x="229.2" y="253.4" width="3.8" height="3.8" fill="#c8b868" stroke="#333" stroke-width="0.72" />
<rect x="237.9" y="250.7" width="3.8" height="3.8" fill="#c8b868" stroke="#333" stroke-width="0.72" />
<rect x="246.5" y="249.8" width="3.8" height="3.8" fill="#c8b868" stroke="#333" stroke-width="0.72" />
<rect x="255.2" y="248.8" width="3.8" height="3.8" fill="#c8b868" stroke="#333" stroke-width="0.72" />
<rect x="263.9" y="247.9" width="3.8" height="3.8" fill="#c8b868" stroke="#333" stroke-width="0.72" />
<rect x="272.5" y="247" width="3.8" height="3.8" fill="#c8b868" stroke="#333" stroke-width="0.72" />
<rect x="185.8" y="298.8" width="3.8" height="3.8" fill="#ffffff" stroke="#333" stroke-width="0.72" />
<rect x="281.2" y="289.7" width="3.8" height="3.8" fill="#ffffff" stroke="#333" stroke-width="0.72" />
<rect x="281.2" y="291.5" width="3.8" height="3.8" fill="#ffffff" stroke="#333" stroke-width="0.72" />
<rect x="289.9" y="298.8" width="3.8" height="3.8" fill="#ffffff" stroke="#333" stroke-width="0.72" />
<rect x="185.8" y="299.7" width="3.8" height="3.8" fill="#c8b868" stroke="#333" stroke-width="0.72" />
<rect x="281.2" y="295.2" width="3.8" height="3.8" fill="#c8b868" stroke="#333" stroke-width="0.72" />
<rect x="183.5" y="207.5" width="113" height="96.9" fill="none" stroke="#111" stroke-width="1.1" />
<line x1="183.4" y1="304.4" x2="183.4" y2="301.8" stroke="#111" stroke-width="0.9" />
<line x1="196.4" y1="304.4" x2="196.4" y2="302.6" stroke="#111" stroke-width="0.9" />
<line x1="209.4" y1="304.4" x2="209.4" y2="301.8" stroke="#111" stroke-width="0.9" />
<line x1="222.4" y1="304.4" x2="222.4" y2="302.6" stroke="#111" stroke-width="0.9" />
<line x1="235.4" y1="304.4" x2="235.4" y2="301.8" stroke="#111" stroke-width="0.9" />
<line x1="248.4" y1="304.4" x2="248.4" y2="302.6" stroke="#111" stroke-width="0.9" />
<line x1="261.4" y1="304.4" x2="261.4" y2="301.8" stroke="#111" stroke-width="0.9" />
<line x1="274.4" y1="304.4" x2="274.4" y2="302.6" stroke="#111" stroke-width="0.9" />
<line x1="287.4" y1="304.4" x2="287.4" y2="301.8" stroke="#111" stroke-width="0.9" />
<line x1="183.5" y1="302.5" x2="186.1" y2="302.5" stroke="#111" stroke-width="0.9" />
<line x1="183.5" y1="293.4" x2="185.3" y2="293.4" stroke="#111" stroke-width="0.9" />
<line x1="183.5" y1="284.3" x2="186.1" y2="284.3" stroke="#111" stroke-width="0.9" />
<line x1="183.5" y1="275.3" x2="185.3" y2="275.3" stroke="#111" stroke-width="0.9" />
<line x1="183.5" y1="266.2" x2="186.1" y2="266.2" stroke="#111" stroke-width="0.9" />
<line x1="183.5" y1="257.1" x2="185.3" y2="257.1" stroke="#111" stroke-width="0.9" />
<line x1="183.5" y1="248" x2="186.1" y2="248" stroke="#111" stroke-width="0.9" />
<line x1="183.5" y1="238.9" x2="185.3" y2="238.9" stroke="#111" stroke-width="0.9" />
<line x1="183.5" y1="229.9" x2="186.1" y2="229.9" stroke="#111" stroke-width="0.9" />
<line x1="183.5" y1="220.8" x2="185.3" y2="220.8" stroke="#111" stroke-width="0.9" />
<line x1="183.5" y1="211.7" x2="186.1" y2="211.7" stroke="#111" stroke-width="0.9" />
<text x="183.4" y="313.9" font-size="8.2" font-weight="bold" text-anchor="middle" fill="#000" >0</text>
<text x="209.4" y="313.9" font-size="8.2" font-weight="bold" text-anchor="middle" fill="#000" >3</text>
<text x="235.4" y="313.9" font-size="8.2" font-weight="bold" text-anchor="middle" fill="#000" >6</text>
<text x="261.4" y="313.9" font-size="8.2" font-weight="bold" text-anchor="middle" fill="#000" >9</text>
<text x="287.4" y="313.9" font-size="8.2" font-weight="bold" text-anchor="middle" fill="#000" >12</text>
<text x="180.5" y="305.9" font-size="8.2" font-weight="bold" text-anchor="end" fill="#000" >0.0</text>
<text x="180.5" y="287.7" font-size="8.2" font-weight="bold" text-anchor="end" fill="#000" >0.2</text>
<text x="180.5" y="269.6" font-size="8.2" font-weight="bold" text-anchor="end" fill="#000" >0.4</text>
<text x="180.5" y="251.4" font-size="8.2" font-weight="bold" text-anchor="end" fill="#000" >0.6</text>
<text x="180.5" y="233.3" font-size="8.2" font-weight="bold" text-anchor="end" fill="#000" >0.8</text>
<text x="180.5" y="215.1" font-size="8.2" font-weight="bold" text-anchor="end" fill="#000" >1.0</text>
<text x="239.5" y="322.4" font-size="8.4" font-weight="bold" text-anchor="middle" fill="#000" >Pore Volume</text>
<text x="166.3" y="255.5" font-size="8.4" font-weight="bold" text-anchor="middle" fill="#000" transform="rotate(-90 166.3 255.5)" ><tspan font-style="italic">C/C</tspan><tspan font-size="4.5" dy="0.8">0</tspan></text>
<rect x="299.5" y="207.5" width="11" height="45" fill="url(#g1b)" stroke="#111" stroke-width="1" />
<rect x="299.5" y="259.5" width="11" height="45" fill="url(#g2b)" stroke="#111" stroke-width="1" />
<text x="308" y="229.9" font-size="8.2" font-weight="bold" text-anchor="middle" fill="#000" transform="rotate(-90 308 229.9)" >PVA-fCB</text>
<text x="308" y="281.8" font-size="8.2" font-weight="bold" text-anchor="middle" fill="#000" transform="rotate(-90 308 281.8)" >NR</text>
<text x="320.6" y="207.4" font-size="7.8" font-weight="bold" text-anchor="end" fill="#000" transform="rotate(-90 320.6 207.4)" >0.0</text>
<text x="320.6" y="253.4" font-size="7.8" font-weight="bold" text-anchor="start" fill="#000" transform="rotate(-90 320.6 253.4)" >9.5</text>
<text x="320.6" y="259.1" font-size="7.8" font-weight="bold" text-anchor="end" fill="#000" transform="rotate(-90 320.6 259.1)" >0.0</text>
<text x="320.6" y="305.3" font-size="7.8" font-weight="bold" text-anchor="start" fill="#000" transform="rotate(-90 320.6 305.3)" >9.5</text>
<text x="330.2" y="255.4" font-size="8.25" font-weight="bold" text-anchor="middle" fill="#000" transform="rotate(-90 330.2 255.4)" >FPOC <tspan font-style="italic">S</tspan><tspan font-size="5" dy="1">n</tspan><tspan dy="-1"> (%)</tspan></text>
<text x="0.2" y="202" font-size="13.5" font-weight="bold" text-anchor="start" fill="#000" >b</text>
<rect x="-0.5" y="207" width="16.6" height="97.2" fill="#f0ebcf" stroke="none" stroke-width="1" />
<text x="11.3" y="255.6" font-size="9.6" font-weight="bold" text-anchor="middle" fill="#000" transform="rotate(-90 11.3 255.6)" >Quartz sand aquifer</text>
<rect x="19" y="207.4" width="131" height="44.4" fill="#000" stroke="none" stroke-width="1" />
<rect x="19" y="216.8" width="43.8" height="34" fill="#000" stroke="none" stroke-width="1" />
<path d="M49.8,218.6 C51.3,218.8 52.9,219.6 53.7,220.5 C54.5,221.4 54.6,222.7 54.6,224.3 C54.6,225.9 54.4,228 53.7,230.1 C53,232.3 51.8,235.1 50.5,237.2 C49.2,239.4 47.8,241.3 46,243 C44.2,244.7 41.8,246.9 39.6,247.5 C37.5,248.1 34.9,247.5 33.1,246.8 C31.3,246.2 29.9,245.5 28.6,243.6 C27.3,241.7 26.1,237.6 25.4,235.3 C24.7,233.1 24.4,231.5 24.5,230.1 C24.6,228.7 24.9,227.8 26.1,226.9 C27.3,226.1 29.8,225.8 31.8,225 C33.8,224.2 36.1,223.4 38.3,222.4 C40.4,221.4 42.8,219.8 44.7,219.2 C46.6,218.6 48.3,218.4 49.8,218.6 Z" fill="#7a7a7a" filter="url(#bl2)"/>
<g clip-path="url(#cb1)"><ellipse cx="41.5" cy="232.1" rx="8" ry="5.5" fill="#2c2c2c" filter="url(#bl)" transform="rotate(-40 41.5 232.1)"/>
<path d="M25.4,234 C25.7,232.2 28.4,232.2 29.9,232.4 C31.4,232.6 33,234 34.4,235.3 C35.8,236.6 37.3,238.9 38.3,240.4 C39.3,241.9 40.5,243.1 40.6,244.3 C40.7,245.5 40.1,247.4 38.6,247.7 C37.1,248.1 33.6,247.2 31.8,246.4 C30,245.6 29.1,245.1 28,243 C26.9,240.9 25.1,235.8 25.4,234 Z" fill="#f2f2f2" filter="url(#bl2)"/>
<line x1="33.8" y1="226.4" x2="36.3" y2="233.5" stroke="#bbb" stroke-width="1.2" filter="url(#bl2)"/></g>
<g clip-path="url(#cb1)"><rect x="19" y="216.8" width="43.8" height="34" fill="#fff" filter="url(#sp0)" opacity="0.55"/><rect x="19" y="216.8" width="43.8" height="34" fill="#fff" filter="url(#sp1)" opacity="0.35"/></g>
<rect x="63.9" y="216.8" width="42.7" height="34" fill="#000" stroke="none" stroke-width="1" />
<rect x="63.9" y="216.8" width="42.7" height="34" fill="#fff" stroke="none" stroke-width="1" filter="url(#sp2)"/>
<g clip-path="url(#cb2)"><rect x="63.9" y="216.8" width="42.7" height="34" fill="#fff" filter="url(#sp3)"/></g>
<rect x="107.6" y="216.8" width="42.4" height="34" fill="#000" stroke="none" stroke-width="1" />
<rect x="107.6" y="216.8" width="42.4" height="34" fill="#fff" stroke="none" stroke-width="1" filter="url(#sp4)"/>
<path d="M136.9,219.1 C138.4,219.3 140,220.1 140.8,221 C141.6,221.9 141.7,223.2 141.7,224.8 C141.7,226.4 141.5,228.5 140.8,230.6 C140.1,232.8 138.9,235.6 137.6,237.7 C136.3,239.9 134.9,241.8 133.1,243.5 C131.3,245.2 128.8,247.4 126.7,248 C124.5,248.6 122,248 120.2,247.3 C118.4,246.7 117,246 115.7,244.1 C114.4,242.2 113.2,238.1 112.5,235.8 C111.8,233.6 111.5,232 111.6,230.6 C111.7,229.2 112,228.2 113.2,227.4 C114.4,226.6 116.9,226.2 118.9,225.5 C120.9,224.8 123.2,223.9 125.4,222.9 C127.5,221.9 129.9,220.3 131.8,219.7 C133.7,219.1 135.4,218.9 136.9,219.1 Z" fill="#9a921c" opacity="0.4"/>
<g clip-path="url(#cb3)"><rect x="107.6" y="216.8" width="42.4" height="34" fill="#fff" filter="url(#sp5)"/></g>
<line x1="19" y1="216.3" x2="150" y2="216.3" stroke="#8c8c8c" stroke-width="1.0" />
<line x1="63.3" y1="216.3" x2="63.3" y2="251.3" stroke="#8c8c8c" stroke-width="1.0" />
<line x1="107.1" y1="216.3" x2="107.1" y2="251.3" stroke="#8c8c8c" stroke-width="1.0" />
<rect x="19" y="207.4" width="131" height="44.4" fill="none" stroke="#777" stroke-width="0.8" />
<text x="41.2" y="214.6" font-size="6.85" font-weight="bold" text-anchor="middle" fill="#fff" >Quartz sand</text>
<text x="85.2" y="215.1" font-size="8.7" font-weight="bold" text-anchor="middle" fill="#fff" >O</text>
<text x="128.8" y="215.1" font-size="8.7" font-weight="bold" text-anchor="middle" fill="#fff" >Si</text>
<text x="149.6" y="247.4" font-size="8.0" font-weight="bold" text-anchor="end" fill="#fff" >200 µm</text>
<line x1="130" y1="250.1" x2="141.1" y2="250.1" stroke="#c8c8c8" stroke-width="1.4" />
<polygon points="29.9,304.2 29.9,301.1 30.3,301.3 30.6,301.8 31,302 31.4,301.8 31.8,302 32.2,301.6 32.6,302.2 33,302 33.4,301.7 33.8,300.6 34.2,299.5 34.6,296.7 35,291.4 35.3,285.8 35.7,281 36.1,277.5 36.5,278.4 36.9,282.9 37.3,288.6 37.7,294.7 38.1,298.2 38.5,300.3 38.9,301.6 39.3,302.4 39.7,302.7 40,302.6 40.4,302.4 40.8,302.1 41.2,302 41.6,302.6 42,302.2 42.4,302.7 42.8,302.2 43.2,302.6 43.6,302.7 44,302.4 44.3,302.7 44.7,302.3 45.1,302.4 45.5,302.7 45.9,302.7 46.3,302.2 46.7,302.7 47.1,302.7 47.5,302.2 47.9,302.7 48.3,302.5 48.7,302.7 49,301.8 49.4,301.9 49.8,302.1 50.2,302.4 50.6,301.9 51,301.6 51.4,301 51.8,302 52.2,301.5 52.6,301.4 53,301.7 53.4,301.6 53.7,302.1 54.1,301.7 54.5,302.3 54.9,302.4 55.3,302.7 55.7,302.5 56.1,302.7 56.5,302.6 56.9,302.7 57.3,302.7 57.7,302.7 58,302.6 58.4,302.5 58.8,302.7 59.2,302.7 59.6,302.4 60,302.2 60.4,302.2 60.8,302.3 61.2,302.2 61.6,302.2 62,302.6 62.4,302.7 62.7,302.5 63.1,302.7 63.5,302.3 63.9,302.3 64.3,302.2 64.7,302.6 65.1,302.1 65.5,302.4 65.9,302.2 66.3,301.5 66.7,300.4 67.1,299.8 67.4,299.5 67.8,300.2 68.2,300 68.6,300.8 69,301.3 69.4,301.6 69.8,302.7 70.2,302.3 70.6,302.7 71,302.7 71.4,302.2 71.7,302.6 72.1,301.6 72.5,301.5 72.9,299.6 73.3,295.8 73.7,291.8 74.1,284.7 74.5,276.6 74.9,269.1 75.3,262.3 75.7,259.3 76.1,258.4 76.4,261.5 76.8,267 77.2,274 77.6,281.2 78,286.9 78.4,293.3 78.8,297.3 79.2,298.7 79.6,301.3 80,302.3 80.4,302.6 80.8,302.2 81.1,302.1 81.5,302.7 81.9,302.7 82.3,302.7 82.7,302.7 83.1,302.7 83.5,302.4 83.9,302.7 84.3,302.7 84.7,302.3 85.1,302.6 85.4,302.2 85.8,300.7 86.2,301.1 86.6,300.3 87,299.2 87.4,298.3 87.8,297.5 88.2,297.7 88.6,296.6 89,296 89.4,297 89.8,296.5 90.1,296.7 90.5,297.9 90.9,298.7 91.3,299.1 91.7,300 92.1,301 92.5,301.2 92.9,301.7 93.3,301.9 93.7,302.2 94.1,302.6 94.5,302.7 94.8,302.2 95.2,302.7 95.6,302.6 96,302.7 96.4,302.4 96.8,302.7 97.2,302.7 97.6,302.7 98,302.7 98.4,302.2 98.8,302.7 99.1,302.7 99.5,302.7 99.9,302.2 100.3,302.5 100.7,302.6 101.1,302.4 101.5,302.7 101.9,302.7 102.3,302.5 102.7,302.7 103.1,302.7 103.5,302.7 103.8,302.7 104.2,302.5 104.6,302.7 105,302.2 105.4,302.6 105.8,302.7 106.2,302.7 106.6,302.5 107,302.7 107.4,302.5 107.8,302.7 108.2,302.7 108.5,302.7 108.9,302.7 109.3,302.7 109.7,302.7 110.1,302.6 110.5,302.4 110.9,302.2 111.3,302.7 111.7,302.7 112.1,302.7 112.5,302.3 112.8,302.2 113.2,302.3 113.6,302.7 114,302.1 114.4,302.5 114.8,302.7 115.2,302.4 115.6,302.1 116,302.7 116.4,302.5 116.8,302.7 117.2,302.7 117.5,302.4 117.9,302.7 118.3,302.3 118.7,302.7 119.1,302.7 119.5,302.7 119.9,302.5 120.3,302.3 120.7,302.7 121.1,302.1 121.5,302.7 121.9,302.3 122.2,302.7 122.6,302.7 123,302.7 123.4,302.7 123.8,302.3 124.2,302.3 124.6,302.7 125,302.7 125.4,302.5 125.8,302.7 126.2,302.3 126.6,302.7 126.9,302.7 127.3,302.7 127.7,302.5 128.1,302.6 128.5,302.2 128.9,302.2 129.3,302.2 129.7,302.7 130.1,302.4 130.5,302.5 130.9,302.5 131.2,302.4 131.6,302.2 132,302.5 132.4,302.7 132.8,302.7 133.2,302.7 133.6,302.6 134,302.7 134.4,302.7 134.8,302.7 135.2,302.4 135.6,302.4 135.9,302.7 136.3,302.6 136.7,302.7 137.1,302.7 137.5,302.1 137.9,302.7 138.3,302.7 138.7,302.6 139.1,302.7 139.5,302.7 139.9,302.7 140.3,302.7 140.6,302.7 141,302.7 141.4,302.7 141.8,302.7 142.2,302.7 142.6,302.7 143,302.7 143.4,302.2 143.8,302.7 144.2,302.3 144.6,302.1 144.9,302.7 145.3,302.7 145.7,302.5 146.1,302.7 146.5,302.7 146.9,302.4 147.3,302.2 147.7,302.2 148.1,302.5 148.5,302.7 148.9,302.1 149.3,302.5 149.3,304.2" fill="#ebe3c2" stroke="none" stroke-width="1" />
<polyline points="29.9,301.1 30.3,301.3 30.6,301.8 31,302 31.4,301.8 31.8,302 32.2,301.6 32.6,302.2 33,302 33.4,301.7 33.8,300.6 34.2,299.5 34.6,296.7 35,291.4 35.3,285.8 35.7,281 36.1,277.5 36.5,278.4 36.9,282.9 37.3,288.6 37.7,294.7 38.1,298.2 38.5,300.3 38.9,301.6 39.3,302.4 39.7,302.7 40,302.6 40.4,302.4 40.8,302.1 41.2,302 41.6,302.6 42,302.2 42.4,302.7 42.8,302.2 43.2,302.6 43.6,302.7 44,302.4 44.3,302.7 44.7,302.3 45.1,302.4 45.5,302.7 45.9,302.7 46.3,302.2 46.7,302.7 47.1,302.7 47.5,302.2 47.9,302.7 48.3,302.5 48.7,302.7 49,301.8 49.4,301.9 49.8,302.1 50.2,302.4 50.6,301.9 51,301.6 51.4,301 51.8,302 52.2,301.5 52.6,301.4 53,301.7 53.4,301.6 53.7,302.1 54.1,301.7 54.5,302.3 54.9,302.4 55.3,302.7 55.7,302.5 56.1,302.7 56.5,302.6 56.9,302.7 57.3,302.7 57.7,302.7 58,302.6 58.4,302.5 58.8,302.7 59.2,302.7 59.6,302.4 60,302.2 60.4,302.2 60.8,302.3 61.2,302.2 61.6,302.2 62,302.6 62.4,302.7 62.7,302.5 63.1,302.7 63.5,302.3 63.9,302.3 64.3,302.2 64.7,302.6 65.1,302.1 65.5,302.4 65.9,302.2 66.3,301.5 66.7,300.4 67.1,299.8 67.4,299.5 67.8,300.2 68.2,300 68.6,300.8 69,301.3 69.4,301.6 69.8,302.7 70.2,302.3 70.6,302.7 71,302.7 71.4,302.2 71.7,302.6 72.1,301.6 72.5,301.5 72.9,299.6 73.3,295.8 73.7,291.8 74.1,284.7 74.5,276.6 74.9,269.1 75.3,262.3 75.7,259.3 76.1,258.4 76.4,261.5 76.8,267 77.2,274 77.6,281.2 78,286.9 78.4,293.3 78.8,297.3 79.2,298.7 79.6,301.3 80,302.3 80.4,302.6 80.8,302.2 81.1,302.1 81.5,302.7 81.9,302.7 82.3,302.7 82.7,302.7 83.1,302.7 83.5,302.4 83.9,302.7 84.3,302.7 84.7,302.3 85.1,302.6 85.4,302.2 85.8,300.7 86.2,301.1 86.6,300.3 87,299.2 87.4,298.3 87.8,297.5 88.2,297.7 88.6,296.6 89,296 89.4,297 89.8,296.5 90.1,296.7 90.5,297.9 90.9,298.7 91.3,299.1 91.7,300 92.1,301 92.5,301.2 92.9,301.7 93.3,301.9 93.7,302.2 94.1,302.6 94.5,302.7 94.8,302.2 95.2,302.7 95.6,302.6 96,302.7 96.4,302.4 96.8,302.7 97.2,302.7 97.6,302.7 98,302.7 98.4,302.2 98.8,302.7 99.1,302.7 99.5,302.7 99.9,302.2 100.3,302.5 100.7,302.6 101.1,302.4 101.5,302.7 101.9,302.7 102.3,302.5 102.7,302.7 103.1,302.7 103.5,302.7 103.8,302.7 104.2,302.5 104.6,302.7 105,302.2 105.4,302.6 105.8,302.7 106.2,302.7 106.6,302.5 107,302.7 107.4,302.5 107.8,302.7 108.2,302.7 108.5,302.7 108.9,302.7 109.3,302.7 109.7,302.7 110.1,302.6 110.5,302.4 110.9,302.2 111.3,302.7 111.7,302.7 112.1,302.7 112.5,302.3 112.8,302.2 113.2,302.3 113.6,302.7 114,302.1 114.4,302.5 114.8,302.7 115.2,302.4 115.6,302.1 116,302.7 116.4,302.5 116.8,302.7 117.2,302.7 117.5,302.4 117.9,302.7 118.3,302.3 118.7,302.7 119.1,302.7 119.5,302.7 119.9,302.5 120.3,302.3 120.7,302.7 121.1,302.1 121.5,302.7 121.9,302.3 122.2,302.7 122.6,302.7 123,302.7 123.4,302.7 123.8,302.3 124.2,302.3 124.6,302.7 125,302.7 125.4,302.5 125.8,302.7 126.2,302.3 126.6,302.7 126.9,302.7 127.3,302.7 127.7,302.5 128.1,302.6 128.5,302.2 128.9,302.2 129.3,302.2 129.7,302.7 130.1,302.4 130.5,302.5 130.9,302.5 131.2,302.4 131.6,302.2 132,302.5 132.4,302.7 132.8,302.7 133.2,302.7 133.6,302.6 134,302.7 134.4,302.7 134.8,302.7 135.2,302.4 135.6,302.4 135.9,302.7 136.3,302.6 136.7,302.7 137.1,302.7 137.5,302.1 137.9,302.7 138.3,302.7 138.7,302.6 139.1,302.7 139.5,302.7 139.9,302.7 140.3,302.7 140.6,302.7 141,302.7 141.4,302.7 141.8,302.7 142.2,302.7 142.6,302.7 143,302.7 143.4,302.2 143.8,302.7 144.2,302.3 144.6,302.1 144.9,302.7 145.3,302.7 145.7,302.5 146.1,302.7 146.5,302.7 146.9,302.4 147.3,302.2 147.7,302.2 148.1,302.5 148.5,302.7 148.9,302.1 149.3,302.5" fill="none" stroke="#333" stroke-width="0.75" stroke-linejoin="round"/>
<rect x="30.3" y="254.5" width="119.6" height="49.7" fill="none" stroke="#222" stroke-width="1.0" />
<line x1="51.7" y1="304.2" x2="51.7" y2="302" stroke="#222" stroke-width="0.8" />
<text x="51.7" y="314.2" font-size="8.0" font-weight="bold" text-anchor="middle" fill="#000" >1</text>
<line x1="84.3" y1="304.2" x2="84.3" y2="302" stroke="#222" stroke-width="0.8" />
<text x="84.3" y="314.2" font-size="8.0" font-weight="bold" text-anchor="middle" fill="#000" >2</text>
<line x1="117" y1="304.2" x2="117" y2="302" stroke="#222" stroke-width="0.8" />
<text x="117" y="314.2" font-size="8.0" font-weight="bold" text-anchor="middle" fill="#000" >3</text>
<line x1="149.6" y1="304.2" x2="149.6" y2="302" stroke="#222" stroke-width="0.8" />
<text x="149.6" y="314.2" font-size="8.0" font-weight="bold" text-anchor="middle" fill="#000" >4</text>
<line x1="35.4" y1="304.2" x2="35.4" y2="302.8" stroke="#222" stroke-width="0.8" />
<line x1="68" y1="304.2" x2="68" y2="302.8" stroke="#222" stroke-width="0.8" />
<line x1="100.7" y1="304.2" x2="100.7" y2="302.8" stroke="#222" stroke-width="0.8" />
<line x1="133.3" y1="304.2" x2="133.3" y2="302.8" stroke="#222" stroke-width="0.8" />
<text x="89.9" y="322.6" font-size="8.5" font-weight="bold" text-anchor="middle" fill="#000" >Energy (keV)</text>
<text x="26.6" y="279.4" font-size="8.4" font-weight="bold" text-anchor="middle" fill="#000" transform="rotate(-90 26.6 279.4)" >Counts</text>
<text x="36" y="277.2" font-size="8.2" font-weight="bold" text-anchor="middle" fill="#000" >O</text>
<text x="70.6" y="262.2" font-size="8.2" font-weight="bold" text-anchor="middle" fill="#000" >Si</text>
<text x="353.4" y="202" font-size="13.5" font-weight="bold" text-anchor="start" fill="#000" >c</text>
<rect x="353.5" y="207" width="16.6" height="97.2" fill="#d3e6e3" stroke="none" stroke-width="1" />
<text x="365.3" y="255.6" font-size="9.6" font-weight="bold" text-anchor="middle" fill="#000" transform="rotate(-90 365.3 255.6)" >Carbonate aquifer</text>
<rect x="373" y="207.4" width="131.5" height="44.4" fill="#000" stroke="none" stroke-width="1" />
<rect x="373" y="216.8" width="43.8" height="34" fill="#262626" stroke="none" stroke-width="1" />
<path d="M386,221.3 C387.5,220.4 391.2,220.6 394,220.6 C396.8,220.6 400.8,220.3 402.5,221.2 C404.2,222.1 403.9,223.9 404.3,225.8 C404.7,227.7 404.9,230.3 404.8,232.8 C404.8,235.3 404.6,238.4 404,240.8 C403.4,243.2 403,246.2 401.5,247.4 C400,248.6 397.1,248 395,248 C392.9,248 390.3,248.2 388.8,247.2 C387.3,246.2 386.5,244.2 385.8,241.8 C385.1,239.4 384.9,235.5 384.8,232.8 C384.7,230.1 384.8,227.7 385,225.8 C385.2,223.9 384.5,222.2 386,221.3 Z" fill="#a0a0a0" filter="url(#bl2)"/>
<g clip-path="url(#cb4)"><ellipse cx="397" cy="233.8" rx="7" ry="13" fill="#d0d0d0" filter="url(#bl)"/><ellipse cx="388.8" cy="233.5" rx="3.4" ry="9.5" fill="#3c3c3c" filter="url(#bl2)"/></g>
<g clip-path="url(#cb4)"><rect x="373" y="216.8" width="43.8" height="34" fill="#fff" filter="url(#sp6)" opacity="0.55"/><rect x="373" y="216.8" width="43.8" height="34" fill="#fff" filter="url(#sp7)" opacity="0.45"/></g>
<rect x="417.9" y="216.8" width="42.7" height="34" fill="#000" stroke="none" stroke-width="1" />
<rect x="417.9" y="216.8" width="42.7" height="34" fill="#fff" stroke="none" stroke-width="1" filter="url(#sp8)"/>
<g clip-path="url(#cb5)"><rect x="417.9" y="216.8" width="42.7" height="34" fill="#fff" filter="url(#sp9)"/></g>
<rect x="461.6" y="216.8" width="42.9" height="34" fill="#000" stroke="none" stroke-width="1" />
<rect x="461.6" y="216.8" width="42.9" height="34" fill="#fff" stroke="none" stroke-width="1" filter="url(#sp10)"/>
<path d="M474.1,221.8 C475.6,221 478.9,220.9 481.6,220.8 C484.3,220.7 488.3,220.4 490.1,221.4 C491.9,222.4 491.8,224.7 492.2,226.8 C492.6,228.9 492.7,231.3 492.6,233.8 C492.5,236.3 492.3,239.5 491.8,241.8 C491.3,244.1 491.1,246.7 489.6,247.8 C488.1,248.9 484.9,248.4 482.6,248.3 C480.4,248.2 477.6,248.5 476.1,247.4 C474.6,246.3 474,244.2 473.4,241.8 C472.8,239.4 472.7,235.5 472.6,232.8 C472.5,230.1 472.7,227.6 472.9,225.8 C473.2,224 472.7,222.6 474.1,221.8 Z" fill="#22b052" opacity="0.6"/>
<g clip-path="url(#cb6)"><rect x="461.6" y="216.8" width="42.9" height="34" fill="#fff" filter="url(#sp11)"/></g>
<line x1="373" y1="216.3" x2="504.5" y2="216.3" stroke="#8c8c8c" stroke-width="1.0" />
<line x1="417.3" y1="216.3" x2="417.3" y2="251.3" stroke="#8c8c8c" stroke-width="1.0" />
<line x1="461.1" y1="216.3" x2="461.1" y2="251.3" stroke="#8c8c8c" stroke-width="1.0" />
<rect x="373" y="207.4" width="131.5" height="44.4" fill="none" stroke="#777" stroke-width="0.8" />
<text x="394.2" y="214.6" font-size="8.2" font-weight="bold" text-anchor="middle" fill="#fff" >Calcite</text>
<text x="439.2" y="215.1" font-size="8.7" font-weight="bold" text-anchor="middle" fill="#fff" >O</text>
<text x="483.1" y="215.1" font-size="8.7" font-weight="bold" text-anchor="middle" fill="#fff" >Ca</text>
<text x="503.6" y="247.4" font-size="8.0" font-weight="bold" text-anchor="end" fill="#fff" >200 µm</text>
<line x1="484" y1="250.1" x2="495.1" y2="250.1" stroke="#c8c8c8" stroke-width="1.4" />
<polygon points="383.9,304.2 383.9,299.4 384.3,299.7 384.6,299.8 385,299 385.4,299.3 385.8,300.1 386.2,299.8 386.6,299.9 387,299.4 387.4,299.4 387.8,298.9 388.2,296 388.6,292.6 389,285.5 389.3,278.6 389.7,273 390.1,270.9 390.5,274.7 390.9,280.9 391.3,288.4 391.7,293.9 392.1,297.9 392.5,299.1 392.9,299.9 393.3,299.8 393.7,299.7 394,300.3 394.4,300.1 394.8,300 395.2,300.3 395.6,300.3 396,300.3 396.4,300.2 396.8,300 397.2,300.3 397.6,299.9 398,300.1 398.3,299.8 398.7,300.3 399.1,299.5 399.5,300.3 399.9,300 400.3,300.3 400.7,299.5 401.1,299.6 401.5,299 401.9,298.5 402.3,298.3 402.7,298.9 403,297.8 403.4,298.2 403.8,297.9 404.2,298.6 404.6,299.1 405,298.8 405.4,298.9 405.8,299.1 406.2,299.6 406.6,299.9 407,300.1 407.4,299.6 407.7,300.2 408.1,300.3 408.5,300.3 408.9,300.3 409.3,300 409.7,300.3 410.1,300.3 410.5,300 410.9,300.3 411.3,300.3 411.7,300.3 412,300.3 412.4,300 412.8,300 413.2,300.3 413.6,300.3 414,300.2 414.4,300.3 414.8,300.3 415.2,300.3 415.6,300.3 416,299.9 416.4,300.3 416.7,300.1 417.1,300.3 417.5,300.3 417.9,300.3 418.3,300.2 418.7,300.3 419.1,300.1 419.5,299.9 419.9,300 420.3,300.3 420.7,300.2 421.1,300.3 421.4,299.9 421.8,300.3 422.2,300.1 422.6,299.7 423,300.3 423.4,300.3 423.8,300.3 424.2,300.3 424.6,300.2 425,299.7 425.4,299.7 425.7,299.6 426.1,300.1 426.5,299.3 426.9,299.8 427.3,299.1 427.7,298.7 428.1,298.8 428.5,298.6 428.9,299 429.3,298.5 429.7,298.7 430.1,299.4 430.4,299.1 430.8,299.7 431.2,300 431.6,299.8 432,300.1 432.4,299.8 432.8,300.3 433.2,300.1 433.6,300.3 434,300.1 434.4,300.3 434.8,299.9 435.1,300.3 435.5,300.3 435.9,300.3 436.3,300.1 436.7,299.9 437.1,300 437.5,299.7 437.9,299.5 438.3,300.2 438.7,299 439.1,298.8 439.4,296.8 439.8,295.1 440.2,292.9 440.6,289.5 441,286.4 441.4,282.8 441.8,281.3 442.2,279.4 442.6,279.9 443,281 443.4,282.3 443.8,283.2 444.1,285.9 444.5,287.6 444.9,290.3 445.3,292.5 445.7,293.9 446.1,295 446.5,296.5 446.9,298.2 447.3,298.4 447.7,299.4 448.1,299.7 448.5,300.3 448.8,299.6 449.2,300.3 449.6,299.9 450,300.3 450.4,299.9 450.8,300.3 451.2,300.3 451.6,300 452,300.3 452.4,300.3 452.8,300.3 453.1,299.8 453.5,300.3 453.9,299.8 454.3,299.8 454.7,300.3 455.1,300.3 455.5,300.3 455.9,300.3 456.3,300.2 456.7,300.3 457.1,300.3 457.5,300.3 457.8,299.8 458.2,300 458.6,300 459,300.3 459.4,300.3 459.8,299.7 460.2,299.9 460.6,300.3 461,300.3 461.4,300 461.8,300 462.2,299.8 462.5,300.3 462.9,300.3 463.3,299.8 463.7,300 464.1,300.3 464.5,300.3 464.9,300.2 465.3,300.3 465.7,300.3 466.1,300.3 466.5,300.3 466.8,300.3 467.2,300.3 467.6,300 468,300 468.4,300 468.8,300.3 469.2,300.3 469.6,300.3 470,300.3 470.4,299.9 470.8,300 471.2,300.3 471.5,300.3 471.9,299.9 472.3,300.3 472.7,300.2 473.1,300.1 473.5,300.1 473.9,300.3 474.3,300.1 474.7,300.3 475.1,299.7 475.5,299.9 475.9,299.8 476.2,299.9 476.6,299.8 477,300.3 477.4,300.2 477.8,300.3 478.2,300.3 478.6,300.3 479,300.3 479.4,300.3 479.8,300.3 480.2,300.3 480.6,299.9 480.9,299.8 481.3,299.8 481.7,300.3 482.1,300.3 482.5,300 482.9,299.9 483.3,300 483.7,300.3 484.1,300.3 484.5,300.3 484.9,299.8 485.2,300.3 485.6,300.3 486,299.7 486.4,299.8 486.8,300.3 487.2,300 487.6,300.3 488,300.3 488.4,299.7 488.8,300.3 489.2,299.6 489.6,299 489.9,297.8 490.3,296.1 490.7,292.9 491.1,289 491.5,283.6 491.9,276.7 492.3,270.2 492.7,263.6 493.1,260.4 493.5,258.3 493.9,259.6 494.3,263.9 494.6,270.2 495,276.9 495.4,283.2 495.8,288.5 496.2,293.2 496.6,296.5 497,297.9 497.4,299.4 497.8,300.2 498.2,300.3 498.6,300.3 498.9,299.8 499.3,300 499.7,300.3 500.1,300.3 500.5,300.1 500.9,300.2 501.3,300.3 501.7,300.3 502.1,299.7 502.5,300.2 502.9,300.3 503.3,300 503.3,304.2" fill="#c6dfdb" stroke="none" stroke-width="1" />
<polyline points="383.9,299.4 384.3,299.7 384.6,299.8 385,299 385.4,299.3 385.8,300.1 386.2,299.8 386.6,299.9 387,299.4 387.4,299.4 387.8,298.9 388.2,296 388.6,292.6 389,285.5 389.3,278.6 389.7,273 390.1,270.9 390.5,274.7 390.9,280.9 391.3,288.4 391.7,293.9 392.1,297.9 392.5,299.1 392.9,299.9 393.3,299.8 393.7,299.7 394,300.3 394.4,300.1 394.8,300 395.2,300.3 395.6,300.3 396,300.3 396.4,300.2 396.8,300 397.2,300.3 397.6,299.9 398,300.1 398.3,299.8 398.7,300.3 399.1,299.5 399.5,300.3 399.9,300 400.3,300.3 400.7,299.5 401.1,299.6 401.5,299 401.9,298.5 402.3,298.3 402.7,298.9 403,297.8 403.4,298.2 403.8,297.9 404.2,298.6 404.6,299.1 405,298.8 405.4,298.9 405.8,299.1 406.2,299.6 406.6,299.9 407,300.1 407.4,299.6 407.7,300.2 408.1,300.3 408.5,300.3 408.9,300.3 409.3,300 409.7,300.3 410.1,300.3 410.5,300 410.9,300.3 411.3,300.3 411.7,300.3 412,300.3 412.4,300 412.8,300 413.2,300.3 413.6,300.3 414,300.2 414.4,300.3 414.8,300.3 415.2,300.3 415.6,300.3 416,299.9 416.4,300.3 416.7,300.1 417.1,300.3 417.5,300.3 417.9,300.3 418.3,300.2 418.7,300.3 419.1,300.1 419.5,299.9 419.9,300 420.3,300.3 420.7,300.2 421.1,300.3 421.4,299.9 421.8,300.3 422.2,300.1 422.6,299.7 423,300.3 423.4,300.3 423.8,300.3 424.2,300.3 424.6,300.2 425,299.7 425.4,299.7 425.7,299.6 426.1,300.1 426.5,299.3 426.9,299.8 427.3,299.1 427.7,298.7 428.1,298.8 428.5,298.6 428.9,299 429.3,298.5 429.7,298.7 430.1,299.4 430.4,299.1 430.8,299.7 431.2,300 431.6,299.8 432,300.1 432.4,299.8 432.8,300.3 433.2,300.1 433.6,300.3 434,300.1 434.4,300.3 434.8,299.9 435.1,300.3 435.5,300.3 435.9,300.3 436.3,300.1 436.7,299.9 437.1,300 437.5,299.7 437.9,299.5 438.3,300.2 438.7,299 439.1,298.8 439.4,296.8 439.8,295.1 440.2,292.9 440.6,289.5 441,286.4 441.4,282.8 441.8,281.3 442.2,279.4 442.6,279.9 443,281 443.4,282.3 443.8,283.2 444.1,285.9 444.5,287.6 444.9,290.3 445.3,292.5 445.7,293.9 446.1,295 446.5,296.5 446.9,298.2 447.3,298.4 447.7,299.4 448.1,299.7 448.5,300.3 448.8,299.6 449.2,300.3 449.6,299.9 450,300.3 450.4,299.9 450.8,300.3 451.2,300.3 451.6,300 452,300.3 452.4,300.3 452.8,300.3 453.1,299.8 453.5,300.3 453.9,299.8 454.3,299.8 454.7,300.3 455.1,300.3 455.5,300.3 455.9,300.3 456.3,300.2 456.7,300.3 457.1,300.3 457.5,300.3 457.8,299.8 458.2,300 458.6,300 459,300.3 459.4,300.3 459.8,299.7 460.2,299.9 460.6,300.3 461,300.3 461.4,300 461.8,300 462.2,299.8 462.5,300.3 462.9,300.3 463.3,299.8 463.7,300 464.1,300.3 464.5,300.3 464.9,300.2 465.3,300.3 465.7,300.3 466.1,300.3 466.5,300.3 466.8,300.3 467.2,300.3 467.6,300 468,300 468.4,300 468.8,300.3 469.2,300.3 469.6,300.3 470,300.3 470.4,299.9 470.8,300 471.2,300.3 471.5,300.3 471.9,299.9 472.3,300.3 472.7,300.2 473.1,300.1 473.5,300.1 473.9,300.3 474.3,300.1 474.7,300.3 475.1,299.7 475.5,299.9 475.9,299.8 476.2,299.9 476.6,299.8 477,300.3 477.4,300.2 477.8,300.3 478.2,300.3 478.6,300.3 479,300.3 479.4,300.3 479.8,300.3 480.2,300.3 480.6,299.9 480.9,299.8 481.3,299.8 481.7,300.3 482.1,300.3 482.5,300 482.9,299.9 483.3,300 483.7,300.3 484.1,300.3 484.5,300.3 484.9,299.8 485.2,300.3 485.6,300.3 486,299.7 486.4,299.8 486.8,300.3 487.2,300 487.6,300.3 488,300.3 488.4,299.7 488.8,300.3 489.2,299.6 489.6,299 489.9,297.8 490.3,296.1 490.7,292.9 491.1,289 491.5,283.6 491.9,276.7 492.3,270.2 492.7,263.6 493.1,260.4 493.5,258.3 493.9,259.6 494.3,263.9 494.6,270.2 495,276.9 495.4,283.2 495.8,288.5 496.2,293.2 496.6,296.5 497,297.9 497.4,299.4 497.8,300.2 498.2,300.3 498.6,300.3 498.9,299.8 499.3,300 499.7,300.3 500.1,300.3 500.5,300.1 500.9,300.2 501.3,300.3 501.7,300.3 502.1,299.7 502.5,300.2 502.9,300.3 503.3,300" fill="none" stroke="#333" stroke-width="0.75" stroke-linejoin="round"/>
<rect x="384.3" y="254.5" width="119.6" height="49.7" fill="none" stroke="#222" stroke-width="1.0" />
<line x1="405.7" y1="304.2" x2="405.7" y2="302" stroke="#222" stroke-width="0.8" />
<text x="405.7" y="314.2" font-size="8.0" font-weight="bold" text-anchor="middle" fill="#000" >1</text>
<line x1="438.3" y1="304.2" x2="438.3" y2="302" stroke="#222" stroke-width="0.8" />
<text x="438.3" y="314.2" font-size="8.0" font-weight="bold" text-anchor="middle" fill="#000" >2</text>
<line x1="471" y1="304.2" x2="471" y2="302" stroke="#222" stroke-width="0.8" />
<text x="471" y="314.2" font-size="8.0" font-weight="bold" text-anchor="middle" fill="#000" >3</text>
<line x1="503.6" y1="304.2" x2="503.6" y2="302" stroke="#222" stroke-width="0.8" />
<text x="503.6" y="314.2" font-size="8.0" font-weight="bold" text-anchor="middle" fill="#000" >4</text>
<line x1="389.4" y1="304.2" x2="389.4" y2="302.8" stroke="#222" stroke-width="0.8" />
<line x1="422" y1="304.2" x2="422" y2="302.8" stroke="#222" stroke-width="0.8" />
<line x1="454.7" y1="304.2" x2="454.7" y2="302.8" stroke="#222" stroke-width="0.8" />
<line x1="487.3" y1="304.2" x2="487.3" y2="302.8" stroke="#222" stroke-width="0.8" />
<text x="443.9" y="322.6" font-size="8.5" font-weight="bold" text-anchor="middle" fill="#000" >Energy (keV)</text>
<text x="380.6" y="279.4" font-size="8.4" font-weight="bold" text-anchor="middle" fill="#000" transform="rotate(-90 380.6 279.4)" >Counts</text>
<text x="389.4" y="270.4" font-size="8.2" font-weight="bold" text-anchor="middle" fill="#000" >O</text>
<text x="486.5" y="262.2" font-size="8.2" font-weight="bold" text-anchor="middle" fill="#000" >Ca</text>
<text x="0.2" y="336.5" font-size="13.5" font-weight="bold" text-anchor="start" fill="#000" >d</text>
<rect x="-0.5" y="341.5" width="16.6" height="97.2" fill="#d3e5f6" stroke="none" stroke-width="1" />
<text x="11.3" y="390.1" font-size="9.6" font-weight="bold" text-anchor="middle" fill="#000" transform="rotate(-90 11.3 390.1)" >Dolomite aquifer</text>
<rect x="19" y="342.6" width="131" height="44.4" fill="#000" stroke="none" stroke-width="1" />
<rect x="19" y="352" width="43.8" height="34" fill="#232323" stroke="none" stroke-width="1" />
<path d="M35.5,357.4 C37.1,356.8 38.4,358.1 40.2,359.4 C42,360.7 44.3,363.4 46.2,365.4 C48.1,367.4 51,369.5 51.6,371.5 C52.2,373.5 51.3,376.2 49.6,377.5 C47.9,378.8 44.2,379.7 41.5,379.5 C38.8,379.3 35.4,378.2 33.4,376.2 C31.4,374.2 29.8,369.7 29.4,367.5 C29,365.3 29.8,364.5 30.8,362.8 C31.8,361.1 33.9,358 35.5,357.4 Z" fill="#5c5c5c" filter="url(#bl2)"/>
<g clip-path="url(#cb7)"><path d="M29.4,367.5 C29.2,366.2 31.4,367.8 32.5,368.5 C33.6,369.2 34.6,371.1 36,372 C37.4,372.9 39,373.6 41,374 C43,374.4 46.5,373.9 48,374.5 C49.5,375.1 51.1,376.6 50,377.5 C48.9,378.4 44.3,380 41.5,379.8 C38.7,379.6 35.4,378.4 33.4,376.4 C31.4,374.3 29.5,368.8 29.4,367.5 Z" fill="#c4c4c4" filter="url(#bl2)"/></g>
<g clip-path="url(#cb7)"><rect x="19" y="352" width="43.8" height="34" fill="#fff" filter="url(#sp12)" opacity="0.45"/><rect x="19" y="352" width="43.8" height="34" fill="#fff" filter="url(#sp13)" opacity="0.3"/></g>
<rect x="63.9" y="352" width="42.7" height="34" fill="#03050f" stroke="none" stroke-width="1" />
<rect x="63.9" y="352" width="42.7" height="34" fill="#fff" stroke="none" stroke-width="1" filter="url(#sp14)"/>
<g clip-path="url(#cb8)"><rect x="63.9" y="352" width="42.7" height="34" fill="#fff" filter="url(#sp15)"/></g>
<rect x="107.6" y="352" width="42.4" height="34" fill="#010401" stroke="none" stroke-width="1" />
<rect x="107.6" y="352" width="42.4" height="34" fill="#fff" stroke="none" stroke-width="1" filter="url(#sp16)"/>
<g clip-path="url(#cb9)"><rect x="107.6" y="352" width="42.4" height="34" fill="#fff" filter="url(#sp17)"/></g>
<line x1="19" y1="351.5" x2="150" y2="351.5" stroke="#8c8c8c" stroke-width="1.0" />
<line x1="63.3" y1="351.5" x2="63.3" y2="386.5" stroke="#8c8c8c" stroke-width="1.0" />
<line x1="107.1" y1="351.5" x2="107.1" y2="386.5" stroke="#8c8c8c" stroke-width="1.0" />
<rect x="19" y="342.6" width="131" height="44.4" fill="none" stroke="#777" stroke-width="0.8" />
<text x="40.6" y="349.8" font-size="8.4" font-weight="bold" text-anchor="middle" fill="#fff" >Dolomite</text>
<text x="85.2" y="350.3" font-size="8.7" font-weight="bold" text-anchor="middle" fill="#fff" >Mg</text>
<text x="128.8" y="350.3" font-size="8.7" font-weight="bold" text-anchor="middle" fill="#fff" >Ca</text>
<text x="149.6" y="382.6" font-size="8.0" font-weight="bold" text-anchor="end" fill="#fff" >200 µm</text>
<line x1="130" y1="385.3" x2="141.1" y2="385.3" stroke="#c8c8c8" stroke-width="1.4" />
<polygon points="29.9,438.7 29.9,433.8 30.3,434.3 30.6,433.4 31,433.6 31.4,433.8 31.8,433.8 32.2,434.8 32.6,434 33,434.8 33.4,434.3 33.8,433.5 34.2,431.7 34.6,426.8 35,418.9 35.3,409.3 35.7,400.5 36.1,397.8 36.5,402.3 36.9,412 37.3,422.3 37.7,428.4 38.1,432.3 38.5,433.9 38.9,434.9 39.3,434.3 39.7,434.3 40,435 40.4,434.6 40.8,434.4 41.2,434.4 41.6,434.7 42,434.7 42.4,435 42.8,434.5 43.2,434.7 43.6,434.9 44,434.5 44.3,434.6 44.7,434.4 45.1,434.7 45.5,434.9 45.9,434.9 46.3,435 46.7,435 47.1,435 47.5,435 47.9,435 48.3,434.6 48.7,435 49,435 49.4,434.8 49.8,435 50.2,434.8 50.6,435 51,434.8 51.4,434.8 51.8,434.6 52.2,435 52.6,435 53,435 53.4,434.6 53.7,435 54.1,434.5 54.5,434.7 54.9,434.6 55.3,435 55.7,434.7 56.1,435 56.5,435 56.9,435 57.3,433.9 57.7,433.1 58,431.5 58.4,428.2 58.8,423.6 59.2,418.8 59.6,416.1 60,415.5 60.4,417.3 60.8,422.5 61.2,427.4 61.6,430.2 62,432.4 62.4,434.3 62.7,434.5 63.1,435 63.5,435 63.9,435 64.3,435 64.7,435 65.1,435 65.5,434.8 65.9,435 66.3,435 66.7,434.7 67.1,435 67.4,434.7 67.8,435 68.2,434.9 68.6,434.6 69,434.9 69.4,434.7 69.8,435 70.2,435 70.6,434.3 71,434.3 71.4,434.2 71.7,433.9 72.1,433.5 72.5,432.8 72.9,432.6 73.3,432.8 73.7,433.6 74.1,433.5 74.5,434.3 74.9,433.9 75.3,434.7 75.7,435 76.1,434.4 76.4,434.8 76.8,435 77.2,435 77.6,435 78,434.7 78.4,434.4 78.8,434.9 79.2,435 79.6,435 80,435 80.4,434.7 80.8,435 81.1,435 81.5,434.6 81.9,434.5 82.3,435 82.7,435 83.1,435 83.5,435 83.9,434.5 84.3,433.7 84.7,433.4 85.1,431.3 85.4,429 85.8,427.1 86.2,424.6 86.6,420.4 87,416.8 87.4,413.6 87.8,412.4 88.2,410.9 88.6,411.1 89,412.2 89.4,413.7 89.8,415.8 90.1,418.5 90.5,421.1 90.9,422.9 91.3,425.9 91.7,427.8 92.1,429.3 92.5,430.2 92.9,432.5 93.3,432.8 93.7,433.2 94.1,434.2 94.5,434.2 94.8,434.7 95.2,435 95.6,435 96,435 96.4,434.7 96.8,434.4 97.2,435 97.6,434.9 98,435 98.4,434.9 98.8,434.6 99.1,434.9 99.5,435 99.9,435 100.3,435 100.7,435 101.1,435 101.5,435 101.9,435 102.3,434.8 102.7,435 103.1,434.7 103.5,435 103.8,435 104.2,434.8 104.6,434.5 105,435 105.4,435 105.8,435 106.2,434.9 106.6,434.5 107,434.8 107.4,434.8 107.8,435 108.2,434.7 108.5,435 108.9,434.9 109.3,434.9 109.7,434.9 110.1,435 110.5,434.9 110.9,435 111.3,435 111.7,434.8 112.1,435 112.5,434.8 112.8,435 113.2,434.9 113.6,434.7 114,435 114.4,434.9 114.8,435 115.2,434.5 115.6,435 116,435 116.4,435 116.8,434.6 117.2,435 117.5,434.8 117.9,435 118.3,434.5 118.7,435 119.1,434.6 119.5,434.6 119.9,435 120.3,435 120.7,435 121.1,434.7 121.5,435 121.9,434.5 122.2,435 122.6,435 123,435 123.4,434.8 123.8,435 124.2,435 124.6,434.6 125,435 125.4,435 125.8,435 126.2,435 126.6,435 126.9,435 127.3,434.7 127.7,435 128.1,435 128.5,435 128.9,434.6 129.3,434.5 129.7,434.5 130.1,435 130.5,434.5 130.9,435 131.2,434.8 131.6,435 132,435 132.4,435 132.8,434.4 133.2,435 133.6,434.8 134,435 134.4,434.6 134.8,434.9 135.2,435 135.6,434.8 135.9,434.6 136.3,434.3 136.7,433.4 137.1,431.2 137.5,430 137.9,428.1 138.3,426.7 138.7,424.6 139.1,423.7 139.5,423.4 139.9,423.8 140.3,424.7 140.6,427.1 141,429 141.4,429.8 141.8,432.1 142.2,432.5 142.6,433.5 143,434.1 143.4,434.7 143.8,435 144.2,434.5 144.6,434.5 144.9,434.4 145.3,435 145.7,434.5 146.1,434.7 146.5,435 146.9,434.7 147.3,435 147.7,434.8 148.1,434.4 148.5,434.7 148.9,435 149.3,435 149.3,438.7" fill="#c6dcf0" stroke="none" stroke-width="1" />
<polyline points="29.9,433.8 30.3,434.3 30.6,433.4 31,433.6 31.4,433.8 31.8,433.8 32.2,434.8 32.6,434 33,434.8 33.4,434.3 33.8,433.5 34.2,431.7 34.6,426.8 35,418.9 35.3,409.3 35.7,400.5 36.1,397.8 36.5,402.3 36.9,412 37.3,422.3 37.7,428.4 38.1,432.3 38.5,433.9 38.9,434.9 39.3,434.3 39.7,434.3 40,435 40.4,434.6 40.8,434.4 41.2,434.4 41.6,434.7 42,434.7 42.4,435 42.8,434.5 43.2,434.7 43.6,434.9 44,434.5 44.3,434.6 44.7,434.4 45.1,434.7 45.5,434.9 45.9,434.9 46.3,435 46.7,435 47.1,435 47.5,435 47.9,435 48.3,434.6 48.7,435 49,435 49.4,434.8 49.8,435 50.2,434.8 50.6,435 51,434.8 51.4,434.8 51.8,434.6 52.2,435 52.6,435 53,435 53.4,434.6 53.7,435 54.1,434.5 54.5,434.7 54.9,434.6 55.3,435 55.7,434.7 56.1,435 56.5,435 56.9,435 57.3,433.9 57.7,433.1 58,431.5 58.4,428.2 58.8,423.6 59.2,418.8 59.6,416.1 60,415.5 60.4,417.3 60.8,422.5 61.2,427.4 61.6,430.2 62,432.4 62.4,434.3 62.7,434.5 63.1,435 63.5,435 63.9,435 64.3,435 64.7,435 65.1,435 65.5,434.8 65.9,435 66.3,435 66.7,434.7 67.1,435 67.4,434.7 67.8,435 68.2,434.9 68.6,434.6 69,434.9 69.4,434.7 69.8,435 70.2,435 70.6,434.3 71,434.3 71.4,434.2 71.7,433.9 72.1,433.5 72.5,432.8 72.9,432.6 73.3,432.8 73.7,433.6 74.1,433.5 74.5,434.3 74.9,433.9 75.3,434.7 75.7,435 76.1,434.4 76.4,434.8 76.8,435 77.2,435 77.6,435 78,434.7 78.4,434.4 78.8,434.9 79.2,435 79.6,435 80,435 80.4,434.7 80.8,435 81.1,435 81.5,434.6 81.9,434.5 82.3,435 82.7,435 83.1,435 83.5,435 83.9,434.5 84.3,433.7 84.7,433.4 85.1,431.3 85.4,429 85.8,427.1 86.2,424.6 86.6,420.4 87,416.8 87.4,413.6 87.8,412.4 88.2,410.9 88.6,411.1 89,412.2 89.4,413.7 89.8,415.8 90.1,418.5 90.5,421.1 90.9,422.9 91.3,425.9 91.7,427.8 92.1,429.3 92.5,430.2 92.9,432.5 93.3,432.8 93.7,433.2 94.1,434.2 94.5,434.2 94.8,434.7 95.2,435 95.6,435 96,435 96.4,434.7 96.8,434.4 97.2,435 97.6,434.9 98,435 98.4,434.9 98.8,434.6 99.1,434.9 99.5,435 99.9,435 100.3,435 100.7,435 101.1,435 101.5,435 101.9,435 102.3,434.8 102.7,435 103.1,434.7 103.5,435 103.8,435 104.2,434.8 104.6,434.5 105,435 105.4,435 105.8,435 106.2,434.9 106.6,434.5 107,434.8 107.4,434.8 107.8,435 108.2,434.7 108.5,435 108.9,434.9 109.3,434.9 109.7,434.9 110.1,435 110.5,434.9 110.9,435 111.3,435 111.7,434.8 112.1,435 112.5,434.8 112.8,435 113.2,434.9 113.6,434.7 114,435 114.4,434.9 114.8,435 115.2,434.5 115.6,435 116,435 116.4,435 116.8,434.6 117.2,435 117.5,434.8 117.9,435 118.3,434.5 118.7,435 119.1,434.6 119.5,434.6 119.9,435 120.3,435 120.7,435 121.1,434.7 121.5,435 121.9,434.5 122.2,435 122.6,435 123,435 123.4,434.8 123.8,435 124.2,435 124.6,434.6 125,435 125.4,435 125.8,435 126.2,435 126.6,435 126.9,435 127.3,434.7 127.7,435 128.1,435 128.5,435 128.9,434.6 129.3,434.5 129.7,434.5 130.1,435 130.5,434.5 130.9,435 131.2,434.8 131.6,435 132,435 132.4,435 132.8,434.4 133.2,435 133.6,434.8 134,435 134.4,434.6 134.8,434.9 135.2,435 135.6,434.8 135.9,434.6 136.3,434.3 136.7,433.4 137.1,431.2 137.5,430 137.9,428.1 138.3,426.7 138.7,424.6 139.1,423.7 139.5,423.4 139.9,423.8 140.3,424.7 140.6,427.1 141,429 141.4,429.8 141.8,432.1 142.2,432.5 142.6,433.5 143,434.1 143.4,434.7 143.8,435 144.2,434.5 144.6,434.5 144.9,434.4 145.3,435 145.7,434.5 146.1,434.7 146.5,435 146.9,434.7 147.3,435 147.7,434.8 148.1,434.4 148.5,434.7 148.9,435 149.3,435" fill="none" stroke="#333" stroke-width="0.75" stroke-linejoin="round"/>
<rect x="30.3" y="389" width="119.6" height="49.7" fill="none" stroke="#222" stroke-width="1.0" />
<line x1="51.7" y1="438.7" x2="51.7" y2="436.5" stroke="#222" stroke-width="0.8" />
<text x="51.7" y="448.7" font-size="8.0" font-weight="bold" text-anchor="middle" fill="#000" >1</text>
<line x1="84.3" y1="438.7" x2="84.3" y2="436.5" stroke="#222" stroke-width="0.8" />
<text x="84.3" y="448.7" font-size="8.0" font-weight="bold" text-anchor="middle" fill="#000" >2</text>
<line x1="117" y1="438.7" x2="117" y2="436.5" stroke="#222" stroke-width="0.8" />
<text x="117" y="448.7" font-size="8.0" font-weight="bold" text-anchor="middle" fill="#000" >3</text>
<line x1="149.6" y1="438.7" x2="149.6" y2="436.5" stroke="#222" stroke-width="0.8" />
<text x="149.6" y="448.7" font-size="8.0" font-weight="bold" text-anchor="middle" fill="#000" >4</text>
<line x1="35.4" y1="438.7" x2="35.4" y2="437.3" stroke="#222" stroke-width="0.8" />
<line x1="68" y1="438.7" x2="68" y2="437.3" stroke="#222" stroke-width="0.8" />
<line x1="100.7" y1="438.7" x2="100.7" y2="437.3" stroke="#222" stroke-width="0.8" />
<line x1="133.3" y1="438.7" x2="133.3" y2="437.3" stroke="#222" stroke-width="0.8" />
<text x="89.9" y="457.1" font-size="8.5" font-weight="bold" text-anchor="middle" fill="#000" >Energy (keV)</text>
<text x="26.6" y="413.9" font-size="8.4" font-weight="bold" text-anchor="middle" fill="#000" transform="rotate(-90 26.6 413.9)" >Counts</text>
<text x="36" y="397.2" font-size="8.2" font-weight="bold" text-anchor="middle" fill="#000" >O</text>
<text x="61" y="413.5" font-size="8.2" font-weight="bold" text-anchor="middle" fill="#000" >Mg</text>
<text x="139.7" y="421.1" font-size="8.2" font-weight="bold" text-anchor="middle" fill="#000" >Ca</text>
<text x="353.4" y="336.5" font-size="13.5" font-weight="bold" text-anchor="start" fill="#000" >e</text>
<rect x="353.5" y="341.5" width="16.6" height="97.2" fill="#dfd9f0" stroke="none" stroke-width="1" />
<text x="365.3" y="390.1" font-size="9.6" font-weight="bold" text-anchor="middle" fill="#000" transform="rotate(-90 365.3 390.1)" >Clayey sand aquifer</text>
<rect x="373" y="342.6" width="131.5" height="44.4" fill="#000" stroke="none" stroke-width="1" />
<rect x="373" y="352" width="43.8" height="34" fill="#3a3a3a" stroke="none" stroke-width="1" />
<path d="M396.8,356 C398.4,356 398.6,355.9 400.2,357.4 C401.8,358.9 405.4,362.3 406.3,364.8 C407.2,367.3 406.4,369.8 405.6,372.2 C404.8,374.6 403.4,377.7 401.5,379.5 C399.6,381.3 396.6,383.3 394.2,382.9 C391.8,382.5 388.9,379 386.8,376.9 C384.7,374.8 382.5,372 381.4,370.1 C380.3,368.2 379.9,367.2 380.4,365.4 C380.8,363.6 382.4,360.7 384.1,359.4 C385.8,358.1 388.7,358 390.8,357.4 C392.9,356.8 395.2,356 396.8,356 Z" fill="#6e6e6e" filter="url(#bl2)"/>
<path d="M396.8,356 C398.4,356 398.6,355.9 400.2,357.4 C401.8,358.9 405.4,362.3 406.3,364.8 C407.2,367.3 406.4,369.8 405.6,372.2 C404.8,374.6 403.4,377.7 401.5,379.5 C399.6,381.3 396.6,383.3 394.2,382.9 C391.8,382.5 388.9,379 386.8,376.9 C384.7,374.8 382.5,372 381.4,370.1 C380.3,368.2 379.9,367.2 380.4,365.4 C380.8,363.6 382.4,360.7 384.1,359.4 C385.8,358.1 388.7,358 390.8,357.4 C392.9,356.8 395.2,356 396.8,356 Z" fill="none" stroke="#959595" stroke-width="1.2" filter="url(#bl2)"/>
<circle cx="400.5" cy="379.3" r="1.8" fill="#e0e0e0" filter="url(#bl2)"/>
<g clip-path="url(#cb10)"><rect x="373" y="352" width="43.8" height="34" fill="#fff" filter="url(#sp18)" opacity="0.3"/><rect x="373" y="352" width="43.8" height="34" fill="#fff" filter="url(#sp19)" opacity="0.25"/></g>
<rect x="417.9" y="352" width="42.7" height="34" fill="#03050f" stroke="none" stroke-width="1" />
<rect x="417.9" y="352" width="42.7" height="34" fill="#fff" stroke="none" stroke-width="1" filter="url(#sp20)"/>
<g clip-path="url(#cb11)"><rect x="417.9" y="352" width="42.7" height="34" fill="#fff" filter="url(#sp21)"/></g>
<rect x="461.6" y="352" width="42.9" height="34" fill="#060106" stroke="none" stroke-width="1" />
<rect x="461.6" y="352" width="42.9" height="34" fill="#fff" stroke="none" stroke-width="1" filter="url(#sp22)"/>
<g clip-path="url(#cb12)"><rect x="461.6" y="352" width="42.9" height="34" fill="#fff" filter="url(#sp23)"/></g>
<line x1="373" y1="351.5" x2="504.5" y2="351.5" stroke="#8c8c8c" stroke-width="1.0" />
<line x1="417.3" y1="351.5" x2="417.3" y2="386.5" stroke="#8c8c8c" stroke-width="1.0" />
<line x1="461.1" y1="351.5" x2="461.1" y2="386.5" stroke="#8c8c8c" stroke-width="1.0" />
<rect x="373" y="342.6" width="131.5" height="44.4" fill="none" stroke="#777" stroke-width="0.8" />
<text x="396.5" y="349.8" font-size="6.2" font-weight="bold" text-anchor="middle" fill="#fff" >Montmorillonite</text>
<text x="439.2" y="350.3" font-size="8.7" font-weight="bold" text-anchor="middle" fill="#fff" >Mg</text>
<text x="483.1" y="350.3" font-size="8.7" font-weight="bold" text-anchor="middle" fill="#fff" >Al</text>
<text x="503.6" y="382.6" font-size="8.0" font-weight="bold" text-anchor="end" fill="#fff" >200 µm</text>
<line x1="484" y1="385.3" x2="495.1" y2="385.3" stroke="#c8c8c8" stroke-width="1.4" />
<polygon points="383.9,438.7 383.9,436.5 384.3,435.8 384.6,435.7 385,436.2 385.4,436.3 385.8,436.7 386.2,436.6 386.6,436.7 387,436.5 387.4,435.9 387.8,435.3 388.2,433.3 388.6,429 389,421.1 389.3,412.3 389.7,404.7 390.1,403.2 390.5,406.8 390.9,415.6 391.3,423.9 391.7,431.2 392.1,434.5 392.5,435.8 392.9,437.1 393.3,437.2 393.7,437.2 394,436.5 394.4,436.8 394.8,436.8 395.2,437.2 395.6,437.2 396,436.7 396.4,437.1 396.8,436.8 397.2,437.2 397.6,437.2 398,436.7 398.3,436.6 398.7,436.8 399.1,436.8 399.5,436.9 399.9,437.2 400.3,437.2 400.7,437.2 401.1,436.8 401.5,437.2 401.9,437.2 402.3,437.2 402.7,436.8 403,437 403.4,437.2 403.8,437.2 404.2,437.2 404.6,437.2 405,437.2 405.4,436.8 405.8,437.2 406.2,437.2 406.6,437.1 407,437.2 407.4,436.7 407.7,437.2 408.1,437.2 408.5,436.9 408.9,437.2 409.3,437.2 409.7,437.2 410.1,437.1 410.5,436.9 410.9,437.2 411.3,437.2 411.7,436.7 412,436.1 412.4,435.5 412.8,433.2 413.2,431.4 413.6,430.8 414,431 414.4,431.7 414.8,433.2 415.2,434.6 415.6,435.6 416,436 416.4,436.7 416.7,437.2 417.1,436.8 417.5,437.2 417.9,437.2 418.3,436.9 418.7,436.7 419.1,436.5 419.5,436 419.9,433.2 420.3,430.5 420.7,424.8 421.1,420.9 421.4,416.9 421.8,416.2 422.2,419.1 422.6,424.2 423,428.3 423.4,432.3 423.8,434.5 424.2,435.8 424.6,437 425,437.2 425.4,436.9 425.7,436.8 426.1,437.2 426.5,436.5 426.9,436 427.3,433.7 427.7,430 428.1,423.4 428.5,415.9 428.9,406.1 429.3,397.9 429.7,393.1 430.1,392.9 430.4,397.8 430.8,406.5 431.2,415.7 431.6,424.1 432,430.2 432.4,433.6 432.8,435.4 433.2,437 433.6,436.8 434,436.8 434.4,436.7 434.8,436.7 435.1,437.2 435.5,437.2 435.9,436.7 436.3,437.2 436.7,437.2 437.1,437 437.5,437.2 437.9,437.2 438.3,437.2 438.7,436.1 439.1,435.7 439.4,435 439.8,433.4 440.2,431.7 440.6,429.4 441,425.7 441.4,421.2 441.8,417.7 442.2,414.2 442.6,410.3 443,409.1 443.4,408.7 443.8,409.2 444.1,410.8 444.5,411.9 444.9,413.9 445.3,416.7 445.7,420.4 446.1,423.1 446.5,424.8 446.9,427.7 447.3,429.4 447.7,432 448.1,432.9 448.5,433.6 448.8,435.7 449.2,435.9 449.6,435.7 450,436.2 450.4,437.2 450.8,436.5 451.2,437.2 451.6,437.2 452,437.2 452.4,437 452.8,437.2 453.1,437 453.5,437.2 453.9,437.2 454.3,436.8 454.7,437.2 455.1,437.2 455.5,436.6 455.9,437.2 456.3,437.2 456.7,437.1 457.1,437.2 457.5,437 457.8,436.9 458.2,437.2 458.6,436.8 459,437.2 459.4,437.2 459.8,437.2 460.2,437.2 460.6,437.2 461,437.2 461.4,437.2 461.8,437.2 462.2,436.8 462.5,437.2 462.9,437.2 463.3,437.2 463.7,437.2 464.1,436.9 464.5,436.8 464.9,436.8 465.3,437.2 465.7,437.2 466.1,437.2 466.5,437.2 466.8,437 467.2,437.2 467.6,437.2 468,437.2 468.4,437.2 468.8,437.2 469.2,436.9 469.6,436.9 470,437 470.4,436.9 470.8,437.2 471.2,437.2 471.5,437 471.9,437.2 472.3,436.8 472.7,437.2 473.1,436.9 473.5,437 473.9,437.1 474.3,437.2 474.7,437.2 475.1,437.2 475.5,437.2 475.9,436.7 476.2,437.2 476.6,437.2 477,437.2 477.4,437.1 477.8,437.2 478.2,436.9 478.6,436.8 479,436.8 479.4,436.7 479.8,437 480.2,436.8 480.6,437.2 480.9,437.2 481.3,437.2 481.7,436.9 482.1,437 482.5,437.2 482.9,437.2 483.3,437.2 483.7,436.8 484.1,437 484.5,437.2 484.9,437.2 485.2,437.2 485.6,436.7 486,437.2 486.4,437.1 486.8,437.2 487.2,437.2 487.6,436.7 488,436.7 488.4,436.7 488.8,436.9 489.2,437.2 489.6,437.2 489.9,436.7 490.3,437.2 490.7,437.2 491.1,436.5 491.5,436.2 491.9,436.4 492.3,435.9 492.7,435.9 493.1,436.2 493.5,435.4 493.9,435.8 494.3,435.4 494.6,435.6 495,437 495.4,436.8 495.8,436.7 496.2,437.1 496.6,437.1 497,437.2 497.4,437.2 497.8,437 498.2,437.2 498.6,437.1 498.9,437.1 499.3,437.2 499.7,436.9 500.1,437.2 500.5,436.8 500.9,437.2 501.3,437.2 501.7,437.2 502.1,437.2 502.5,436.6 502.9,436.6 503.3,437.2 503.3,438.7" fill="#dad1ef" stroke="none" stroke-width="1" />
<polyline points="383.9,436.5 384.3,435.8 384.6,435.7 385,436.2 385.4,436.3 385.8,436.7 386.2,436.6 386.6,436.7 387,436.5 387.4,435.9 387.8,435.3 388.2,433.3 388.6,429 389,421.1 389.3,412.3 389.7,404.7 390.1,403.2 390.5,406.8 390.9,415.6 391.3,423.9 391.7,431.2 392.1,434.5 392.5,435.8 392.9,437.1 393.3,437.2 393.7,437.2 394,436.5 394.4,436.8 394.8,436.8 395.2,437.2 395.6,437.2 396,436.7 396.4,437.1 396.8,436.8 397.2,437.2 397.6,437.2 398,436.7 398.3,436.6 398.7,436.8 399.1,436.8 399.5,436.9 399.9,437.2 400.3,437.2 400.7,437.2 401.1,436.8 401.5,437.2 401.9,437.2 402.3,437.2 402.7,436.8 403,437 403.4,437.2 403.8,437.2 404.2,437.2 404.6,437.2 405,437.2 405.4,436.8 405.8,437.2 406.2,437.2 406.6,437.1 407,437.2 407.4,436.7 407.7,437.2 408.1,437.2 408.5,436.9 408.9,437.2 409.3,437.2 409.7,437.2 410.1,437.1 410.5,436.9 410.9,437.2 411.3,437.2 411.7,436.7 412,436.1 412.4,435.5 412.8,433.2 413.2,431.4 413.6,430.8 414,431 414.4,431.7 414.8,433.2 415.2,434.6 415.6,435.6 416,436 416.4,436.7 416.7,437.2 417.1,436.8 417.5,437.2 417.9,437.2 418.3,436.9 418.7,436.7 419.1,436.5 419.5,436 419.9,433.2 420.3,430.5 420.7,424.8 421.1,420.9 421.4,416.9 421.8,416.2 422.2,419.1 422.6,424.2 423,428.3 423.4,432.3 423.8,434.5 424.2,435.8 424.6,437 425,437.2 425.4,436.9 425.7,436.8 426.1,437.2 426.5,436.5 426.9,436 427.3,433.7 427.7,430 428.1,423.4 428.5,415.9 428.9,406.1 429.3,397.9 429.7,393.1 430.1,392.9 430.4,397.8 430.8,406.5 431.2,415.7 431.6,424.1 432,430.2 432.4,433.6 432.8,435.4 433.2,437 433.6,436.8 434,436.8 434.4,436.7 434.8,436.7 435.1,437.2 435.5,437.2 435.9,436.7 436.3,437.2 436.7,437.2 437.1,437 437.5,437.2 437.9,437.2 438.3,437.2 438.7,436.1 439.1,435.7 439.4,435 439.8,433.4 440.2,431.7 440.6,429.4 441,425.7 441.4,421.2 441.8,417.7 442.2,414.2 442.6,410.3 443,409.1 443.4,408.7 443.8,409.2 444.1,410.8 444.5,411.9 444.9,413.9 445.3,416.7 445.7,420.4 446.1,423.1 446.5,424.8 446.9,427.7 447.3,429.4 447.7,432 448.1,432.9 448.5,433.6 448.8,435.7 449.2,435.9 449.6,435.7 450,436.2 450.4,437.2 450.8,436.5 451.2,437.2 451.6,437.2 452,437.2 452.4,437 452.8,437.2 453.1,437 453.5,437.2 453.9,437.2 454.3,436.8 454.7,437.2 455.1,437.2 455.5,436.6 455.9,437.2 456.3,437.2 456.7,437.1 457.1,437.2 457.5,437 457.8,436.9 458.2,437.2 458.6,436.8 459,437.2 459.4,437.2 459.8,437.2 460.2,437.2 460.6,437.2 461,437.2 461.4,437.2 461.8,437.2 462.2,436.8 462.5,437.2 462.9,437.2 463.3,437.2 463.7,437.2 464.1,436.9 464.5,436.8 464.9,436.8 465.3,437.2 465.7,437.2 466.1,437.2 466.5,437.2 466.8,437 467.2,437.2 467.6,437.2 468,437.2 468.4,437.2 468.8,437.2 469.2,436.9 469.6,436.9 470,437 470.4,436.9 470.8,437.2 471.2,437.2 471.5,437 471.9,437.2 472.3,436.8 472.7,437.2 473.1,436.9 473.5,437 473.9,437.1 474.3,437.2 474.7,437.2 475.1,437.2 475.5,437.2 475.9,436.7 476.2,437.2 476.6,437.2 477,437.2 477.4,437.1 477.8,437.2 478.2,436.9 478.6,436.8 479,436.8 479.4,436.7 479.8,437 480.2,436.8 480.6,437.2 480.9,437.2 481.3,437.2 481.7,436.9 482.1,437 482.5,437.2 482.9,437.2 483.3,437.2 483.7,436.8 484.1,437 484.5,437.2 484.9,437.2 485.2,437.2 485.6,436.7 486,437.2 486.4,437.1 486.8,437.2 487.2,437.2 487.6,436.7 488,436.7 488.4,436.7 488.8,436.9 489.2,437.2 489.6,437.2 489.9,436.7 490.3,437.2 490.7,437.2 491.1,436.5 491.5,436.2 491.9,436.4 492.3,435.9 492.7,435.9 493.1,436.2 493.5,435.4 493.9,435.8 494.3,435.4 494.6,435.6 495,437 495.4,436.8 495.8,436.7 496.2,437.1 496.6,437.1 497,437.2 497.4,437.2 497.8,437 498.2,437.2 498.6,437.1 498.9,437.1 499.3,437.2 499.7,436.9 500.1,437.2 500.5,436.8 500.9,437.2 501.3,437.2 501.7,437.2 502.1,437.2 502.5,436.6 502.9,436.6 503.3,437.2" fill="none" stroke="#333" stroke-width="0.75" stroke-linejoin="round"/>
<rect x="384.3" y="389" width="119.6" height="49.7" fill="none" stroke="#222" stroke-width="1.0" />
<line x1="405.7" y1="438.7" x2="405.7" y2="436.5" stroke="#222" stroke-width="0.8" />
<text x="405.7" y="448.7" font-size="8.0" font-weight="bold" text-anchor="middle" fill="#000" >1</text>
<line x1="438.3" y1="438.7" x2="438.3" y2="436.5" stroke="#222" stroke-width="0.8" />
<text x="438.3" y="448.7" font-size="8.0" font-weight="bold" text-anchor="middle" fill="#000" >2</text>
<line x1="471" y1="438.7" x2="471" y2="436.5" stroke="#222" stroke-width="0.8" />
<text x="471" y="448.7" font-size="8.0" font-weight="bold" text-anchor="middle" fill="#000" >3</text>
<line x1="503.6" y1="438.7" x2="503.6" y2="436.5" stroke="#222" stroke-width="0.8" />
<text x="503.6" y="448.7" font-size="8.0" font-weight="bold" text-anchor="middle" fill="#000" >4</text>
<line x1="389.4" y1="438.7" x2="389.4" y2="437.3" stroke="#222" stroke-width="0.8" />
<line x1="422" y1="438.7" x2="422" y2="437.3" stroke="#222" stroke-width="0.8" />
<line x1="454.7" y1="438.7" x2="454.7" y2="437.3" stroke="#222" stroke-width="0.8" />
<line x1="487.3" y1="438.7" x2="487.3" y2="437.3" stroke="#222" stroke-width="0.8" />
<text x="443.9" y="457.1" font-size="8.5" font-weight="bold" text-anchor="middle" fill="#000" >Energy (keV)</text>
<text x="380.6" y="413.9" font-size="8.4" font-weight="bold" text-anchor="middle" fill="#000" transform="rotate(-90 380.6 413.9)" >Counts</text>
<text x="390" y="402" font-size="8.2" font-weight="bold" text-anchor="middle" fill="#000" >O</text>
<text x="414" y="428.9" font-size="8.2" font-weight="bold" text-anchor="middle" fill="#000" >Mg</text>
<text x="421.5" y="414.7" font-size="8.2" font-weight="bold" text-anchor="middle" fill="#000" >Al</text>
<text x="423.5" y="396.3" font-size="8.2" font-weight="bold" text-anchor="middle" fill="#000" >Si</text>
<text x="493.2" y="433.6" font-size="8.2" font-weight="bold" text-anchor="middle" fill="#000" >Ca</text>
<polyline points="537.4,302.5 538.3,302.5 539.1,302.5 540,302.5 540.9,302.5 541.7,302.5 542.6,302.4 543.5,302.1 544.3,301.5 545.2,299.9 546.1,295.7 546.9,286.3 547.8,268.9 548.7,247 549.5,229.5 550.4,219.8 551.3,215.5 552.1,213.8 553,213.1 553.9,212.8 554.7,212.7 555.6,212.7 556.5,212.7 557.3,212.6 558.2,212.6 559.1,212.6 559.9,212.6 560.8,212.6 561.7,212.6 562.5,212.6 563.4,212.6 564.3,212.6 565.1,212.6 566,212.6 566.9,212.6 567.7,212.6 568.6,212.6 569.5,212.6 570.3,212.6 571.2,212.6 572.1,212.6 572.9,212.6 573.8,212.6 574.7,212.6 575.5,212.6 576.4,212.6 577.3,212.6 578.1,212.6 579,212.6 579.9,212.6 580.8,212.6 581.6,212.6 582.5,212.6 583.4,212.6 584.2,212.6 585.1,212.6 586,212.6 586.8,212.6 587.7,212.6 588.6,212.6 589.4,212.6 590.3,212.6 591.2,212.6 592,212.6 592.9,212.6 593.8,212.6 594.6,212.6 595.5,212.6 596.4,212.6 597.2,212.6 598.1,212.6 599,212.6 599.8,212.6 600.7,212.6 601.6,212.6 602.4,212.6 603.3,212.6 604.2,212.6 605,212.6 605.9,212.6 606.8,212.6 607.6,212.6 608.5,212.6 609.4,212.6 610.2,212.6 611.1,212.6 612,212.6 612.8,212.6 613.7,212.6 614.6,212.6 615.4,212.6 616.3,212.6 617.2,212.6 618,212.6 618.9,212.6 619.8,212.6 620.6,212.6 621.5,212.6 622.4,212.6 623.2,212.6 624.1,212.6 625,212.7 625.8,212.7 626.7,212.8 627.6,213 628.4,213.4 629.3,214.2 630.2,215.7 631,218.4 631.9,223.3 632.8,231.4 633.6,243.1 634.5,257.6 635.4,272 636.2,283.7 637.1,291.8 638,296.7 638.8,299.4 639.7,300.9 640.6,301.7 641.4,302.1 642.3,302.3 643.2,302.4 644,302.4 644.9,302.5 645.8,302.5 646.6,302.5 647.5,302.5 648.4,302.5 649.2,302.5 650.1,302.5" fill="none" stroke="#c8c8c8" stroke-width="0.9" stroke-linejoin="round"/>
<polyline points="537.4,302.5 538.3,302.5 539.1,302.5 540,302.5 540.9,302.5 541.7,302.5 542.6,302.4 543.5,302.1 544.3,301.5 545.2,299.9 546.1,295.8 546.9,286.4 547.8,269.2 548.7,247.6 549.5,230.2 550.4,220.6 551.3,216.4 552.1,214.7 553,214 553.9,213.8 554.7,213.6 555.6,213.6 556.5,213.6 557.3,213.5 558.2,213.5 559.1,213.5 559.9,213.5 560.8,213.5 561.7,213.5 562.5,213.5 563.4,213.5 564.3,213.5 565.1,213.5 566,213.5 566.9,213.5 567.7,213.5 568.6,213.5 569.5,213.5 570.3,213.5 571.2,213.5 572.1,213.5 572.9,213.5 573.8,213.5 574.7,213.5 575.5,213.5 576.4,213.5 577.3,213.5 578.1,213.5 579,213.5 579.9,213.5 580.8,213.5 581.6,213.5 582.5,213.5 583.4,213.5 584.2,213.5 585.1,213.5 586,213.5 586.8,213.5 587.7,213.5 588.6,213.5 589.4,213.5 590.3,213.5 591.2,213.5 592,213.5 592.9,213.5 593.8,213.5 594.6,213.5 595.5,213.5 596.4,213.5 597.2,213.5 598.1,213.5 599,213.5 599.8,213.5 600.7,213.5 601.6,213.5 602.4,213.5 603.3,213.5 604.2,213.5 605,213.5 605.9,213.5 606.8,213.5 607.6,213.5 608.5,213.5 609.4,213.5 610.2,213.5 611.1,213.5 612,213.5 612.8,213.5 613.7,213.5 614.6,213.5 615.4,213.5 616.3,213.5 617.2,213.5 618,213.5 618.9,213.5 619.8,213.5 620.6,213.5 621.5,213.5 622.4,213.5 623.2,213.5 624.1,213.5 625,213.6 625.8,213.6 626.7,213.7 627.6,213.9 628.4,214.3 629.3,215.1 630.2,216.6 631,219.3 631.9,224.1 632.8,232.1 633.6,243.7 634.5,258 635.4,272.3 636.2,283.9 637.1,291.9 638,296.7 638.8,299.4 639.7,300.9 640.6,301.7 641.4,302.1 642.3,302.3 643.2,302.4 644,302.4 644.9,302.5 645.8,302.5 646.6,302.5 647.5,302.5 648.4,302.5 649.2,302.5 650.1,302.5" fill="none" stroke="#888" stroke-width="0.9" stroke-linejoin="round"/>
<polyline points="537.4,302.5 538.3,302.5 539.1,302.5 540,302.5 540.9,302.5 541.7,302.4 542.6,302.3 543.5,302.1 544.3,301.6 545.2,300.6 546.1,298.2 546.9,293.6 547.8,285.4 548.7,274.4 549.5,262.8 550.4,254.1 551.3,248.8 552.1,245.9 553,244.2 553.9,243.2 554.7,242.4 555.6,241.8 556.5,241.3 557.3,240.8 558.2,240.3 559.1,239.9 559.9,239.4 560.8,239 561.7,238.6 562.5,238.2 563.4,237.8 564.3,237.4 565.1,237.1 566,236.7 566.9,236.4 567.7,236 568.6,235.7 569.5,235.4 570.3,235.1 571.2,234.8 572.1,234.5 572.9,234.2 573.8,233.9 574.7,233.7 575.5,233.4 576.4,233.1 577.3,232.9 578.1,232.7 579,232.4 579.9,232.2 580.8,232 581.6,231.8 582.5,231.6 583.4,231.4 584.2,231.2 585.1,231 586,230.8 586.8,230.6 587.7,230.4 588.6,230.3 589.4,230.1 590.3,229.9 591.2,229.8 592,229.6 592.9,229.5 593.8,229.3 594.6,229.2 595.5,229.1 596.4,228.9 597.2,228.8 598.1,228.7 599,228.6 599.8,228.5 600.7,228.3 601.6,228.2 602.4,228.1 603.3,228 604.2,227.9 605,227.8 605.9,227.7 606.8,227.6 607.6,227.5 608.5,227.4 609.4,227.4 610.2,227.3 611.1,227.2 612,227.1 612.8,227 613.7,227 614.6,226.9 615.4,226.8 616.3,226.8 617.2,226.7 618,226.6 618.9,226.6 619.8,226.5 620.6,226.4 621.5,226.4 622.4,226.3 623.2,226.3 624.1,226.3 625,226.2 625.8,226.2 626.7,226.3 627.6,226.4 628.4,226.7 629.3,227.3 630.2,228.5 631,230.8 631.9,235 632.8,241.8 633.6,251.8 634.5,264.1 635.4,276.4 636.2,286.5 637.1,293.3 638,297.5 638.8,299.8 639.7,301.1 640.6,301.8 641.4,302.1 642.3,302.3 643.2,302.4 644,302.4 644.9,302.5 645.8,302.5 646.6,302.5 647.5,302.5 648.4,302.5 649.2,302.5 650.1,302.5" fill="none" stroke="#9cccc4" stroke-width="0.9" stroke-linejoin="round"/>
<polyline points="537.4,302.5 538.3,302.5 539.1,302.5 540,302.5 540.9,302.5 541.7,302.4 542.6,302.3 543.5,302.1 544.3,301.6 545.2,300.4 546.1,298 546.9,293.4 547.8,286.3 548.7,277.8 549.5,270.3 550.4,265.3 551.3,262.4 552.1,260.9 553,260 553.9,259.4 554.7,258.9 555.6,258.5 556.5,258.2 557.3,257.9 558.2,257.6 559.1,257.3 559.9,257 560.8,256.7 561.7,256.4 562.5,256.2 563.4,255.9 564.3,255.7 565.1,255.4 566,255.2 566.9,255 567.7,254.8 568.6,254.5 569.5,254.3 570.3,254.1 571.2,253.9 572.1,253.7 572.9,253.5 573.8,253.4 574.7,253.2 575.5,253 576.4,252.9 577.3,252.7 578.1,252.5 579,252.4 579.9,252.2 580.8,252.1 581.6,251.9 582.5,251.8 583.4,251.7 584.2,251.6 585.1,251.4 586,251.3 586.8,251.2 587.7,251.1 588.6,251 589.4,250.9 590.3,250.7 591.2,250.6 592,250.5 592.9,250.4 593.8,250.4 594.6,250.3 595.5,250.2 596.4,250.1 597.2,250 598.1,249.9 599,249.8 599.8,249.8 600.7,249.7 601.6,249.6 602.4,249.5 603.3,249.5 604.2,249.4 605,249.3 605.9,249.3 606.8,249.2 607.6,249.2 608.5,249.1 609.4,249.1 610.2,249 611.1,248.9 612,248.9 612.8,248.8 613.7,248.8 614.6,248.7 615.4,248.7 616.3,248.7 617.2,248.6 618,248.6 618.9,248.5 619.8,248.5 620.6,248.5 621.5,248.4 622.4,248.4 623.2,248.3 624.1,248.3 625,248.3 625.8,248.3 626.7,248.3 627.6,248.4 628.4,248.7 629.3,249.1 630.2,250 631,251.6 631.9,254.5 632.8,259.4 633.6,266.5 634.5,275.2 635.4,284 636.2,291.1 637.1,296 638,299 638.8,300.6 639.7,301.5 640.6,302 641.4,302.2 642.3,302.4 643.2,302.4 644,302.5 644.9,302.5 645.8,302.5 646.6,302.5 647.5,302.5 648.4,302.5 649.2,302.5 650.1,302.5" fill="none" stroke="#6aaea4" stroke-width="0.9" stroke-linejoin="round"/>
<rect x="548.5" y="214.3" width="3.8" height="3.8" fill="#ffffff" stroke="#333" stroke-width="0.72" />
<rect x="557.2" y="210.7" width="3.8" height="3.8" fill="#ffffff" stroke="#333" stroke-width="0.72" />
<rect x="565.8" y="210.7" width="3.8" height="3.8" fill="#ffffff" stroke="#333" stroke-width="0.72" />
<rect x="574.5" y="210.7" width="3.8" height="3.8" fill="#ffffff" stroke="#333" stroke-width="0.72" />
<rect x="583.2" y="210.7" width="3.8" height="3.8" fill="#ffffff" stroke="#333" stroke-width="0.72" />
<rect x="591.9" y="210.7" width="3.8" height="3.8" fill="#ffffff" stroke="#333" stroke-width="0.72" />
<rect x="600.5" y="210.7" width="3.8" height="3.8" fill="#ffffff" stroke="#333" stroke-width="0.72" />
<rect x="609.2" y="210.7" width="3.8" height="3.8" fill="#ffffff" stroke="#333" stroke-width="0.72" />
<rect x="617.9" y="210.7" width="3.8" height="3.8" fill="#ffffff" stroke="#333" stroke-width="0.72" />
<rect x="626.5" y="210.7" width="3.8" height="3.8" fill="#ffffff" stroke="#333" stroke-width="0.72" />
<rect x="548.5" y="217.1" width="3.8" height="3.8" fill="#9a9a9a" stroke="#333" stroke-width="0.72" />
<rect x="557.2" y="212.5" width="3.8" height="3.8" fill="#9a9a9a" stroke="#333" stroke-width="0.72" />
<rect x="565.8" y="212.5" width="3.8" height="3.8" fill="#9a9a9a" stroke="#333" stroke-width="0.72" />
<rect x="574.5" y="211.6" width="3.8" height="3.8" fill="#9a9a9a" stroke="#333" stroke-width="0.72" />
<rect x="583.2" y="211.6" width="3.8" height="3.8" fill="#9a9a9a" stroke="#333" stroke-width="0.72" />
<rect x="591.9" y="211.6" width="3.8" height="3.8" fill="#9a9a9a" stroke="#333" stroke-width="0.72" />
<rect x="600.5" y="211.6" width="3.8" height="3.8" fill="#9a9a9a" stroke="#333" stroke-width="0.72" />
<rect x="609.2" y="211.6" width="3.8" height="3.8" fill="#9a9a9a" stroke="#333" stroke-width="0.72" />
<rect x="617.9" y="211.6" width="3.8" height="3.8" fill="#9a9a9a" stroke="#333" stroke-width="0.72" />
<rect x="626.5" y="213.4" width="3.8" height="3.8" fill="#9a9a9a" stroke="#333" stroke-width="0.72" />
<line x1="550.4" y1="229.9" x2="550.4" y2="233.5" stroke="#222" stroke-width="0.8" />
<line x1="549.4" y1="229.9" x2="551.4" y2="229.9" stroke="#222" stroke-width="0.7" />
<line x1="549.4" y1="233.5" x2="551.4" y2="233.5" stroke="#222" stroke-width="0.7" />
<ellipse cx="550.4" cy="231.7" rx="2.0" ry="2.3" fill="#e6f2f0" stroke="#333" stroke-width="0.72"/>
<line x1="559.1" y1="240.8" x2="559.1" y2="244.4" stroke="#222" stroke-width="0.8" />
<line x1="558.1" y1="240.8" x2="560.1" y2="240.8" stroke="#222" stroke-width="0.7" />
<line x1="558.1" y1="244.4" x2="560.1" y2="244.4" stroke="#222" stroke-width="0.7" />
<ellipse cx="559.1" cy="242.6" rx="2.0" ry="2.3" fill="#e6f2f0" stroke="#333" stroke-width="0.72"/>
<line x1="567.7" y1="236.2" x2="567.7" y2="239.8" stroke="#222" stroke-width="0.8" />
<line x1="566.7" y1="236.2" x2="568.7" y2="236.2" stroke="#222" stroke-width="0.7" />
<line x1="566.7" y1="239.8" x2="568.7" y2="239.8" stroke="#222" stroke-width="0.7" />
<ellipse cx="567.7" cy="238" rx="2.0" ry="2.3" fill="#e6f2f0" stroke="#333" stroke-width="0.72"/>
<line x1="576.4" y1="232.6" x2="576.4" y2="236.2" stroke="#222" stroke-width="0.8" />
<line x1="575.4" y1="232.6" x2="577.4" y2="232.6" stroke="#222" stroke-width="0.7" />
<line x1="575.4" y1="236.2" x2="577.4" y2="236.2" stroke="#222" stroke-width="0.7" />
<ellipse cx="576.4" cy="234.4" rx="2.0" ry="2.3" fill="#e6f2f0" stroke="#333" stroke-width="0.72"/>
<line x1="585.1" y1="230.8" x2="585.1" y2="234.4" stroke="#222" stroke-width="0.8" />
<line x1="584.1" y1="230.8" x2="586.1" y2="230.8" stroke="#222" stroke-width="0.7" />
<line x1="584.1" y1="234.4" x2="586.1" y2="234.4" stroke="#222" stroke-width="0.7" />
<ellipse cx="585.1" cy="232.6" rx="2.0" ry="2.3" fill="#e6f2f0" stroke="#333" stroke-width="0.72"/>
<line x1="593.8" y1="229" x2="593.8" y2="232.6" stroke="#222" stroke-width="0.8" />
<line x1="592.8" y1="229" x2="594.8" y2="229" stroke="#222" stroke-width="0.7" />
<line x1="592.8" y1="232.6" x2="594.8" y2="232.6" stroke="#222" stroke-width="0.7" />
<ellipse cx="593.8" cy="230.8" rx="2.0" ry="2.3" fill="#e6f2f0" stroke="#333" stroke-width="0.72"/>
<line x1="602.4" y1="227.1" x2="602.4" y2="230.8" stroke="#222" stroke-width="0.8" />
<line x1="601.4" y1="227.1" x2="603.4" y2="227.1" stroke="#222" stroke-width="0.7" />
<line x1="601.4" y1="230.8" x2="603.4" y2="230.8" stroke="#222" stroke-width="0.7" />
<ellipse cx="602.4" cy="229" rx="2.0" ry="2.3" fill="#e6f2f0" stroke="#333" stroke-width="0.72"/>
<line x1="611.1" y1="227.1" x2="611.1" y2="230.8" stroke="#222" stroke-width="0.8" />
<line x1="610.1" y1="227.1" x2="612.1" y2="227.1" stroke="#222" stroke-width="0.7" />
<line x1="610.1" y1="230.8" x2="612.1" y2="230.8" stroke="#222" stroke-width="0.7" />
<ellipse cx="611.1" cy="229" rx="2.0" ry="2.3" fill="#e6f2f0" stroke="#333" stroke-width="0.72"/>
<line x1="619.8" y1="226.2" x2="619.8" y2="229.9" stroke="#222" stroke-width="0.8" />
<line x1="618.8" y1="226.2" x2="620.8" y2="226.2" stroke="#222" stroke-width="0.7" />
<line x1="618.8" y1="229.9" x2="620.8" y2="229.9" stroke="#222" stroke-width="0.7" />
<ellipse cx="619.8" cy="228" rx="2.0" ry="2.3" fill="#e6f2f0" stroke="#333" stroke-width="0.72"/>
<line x1="628.4" y1="227.1" x2="628.4" y2="230.8" stroke="#222" stroke-width="0.8" />
<line x1="627.4" y1="227.1" x2="629.4" y2="227.1" stroke="#222" stroke-width="0.7" />
<line x1="627.4" y1="230.8" x2="629.4" y2="230.8" stroke="#222" stroke-width="0.7" />
<ellipse cx="628.4" cy="229" rx="2.0" ry="2.3" fill="#e6f2f0" stroke="#333" stroke-width="0.72"/>
<rect x="548.5" y="232.5" width="3.8" height="3.8" fill="#a8d0ca" stroke="#333" stroke-width="0.72" />
<rect x="557.2" y="241.6" width="3.8" height="3.8" fill="#a8d0ca" stroke="#333" stroke-width="0.72" />
<rect x="565.8" y="236.1" width="3.8" height="3.8" fill="#a8d0ca" stroke="#333" stroke-width="0.72" />
<rect x="574.5" y="233.4" width="3.8" height="3.8" fill="#a8d0ca" stroke="#333" stroke-width="0.72" />
<rect x="583.2" y="230.7" width="3.8" height="3.8" fill="#a8d0ca" stroke="#333" stroke-width="0.72" />
<rect x="591.9" y="228.9" width="3.8" height="3.8" fill="#a8d0ca" stroke="#333" stroke-width="0.72" />
<rect x="600.5" y="227.1" width="3.8" height="3.8" fill="#a8d0ca" stroke="#333" stroke-width="0.72" />
<rect x="609.2" y="227.1" width="3.8" height="3.8" fill="#a8d0ca" stroke="#333" stroke-width="0.72" />
<rect x="617.9" y="226.1" width="3.8" height="3.8" fill="#a8d0ca" stroke="#333" stroke-width="0.72" />
<rect x="626.5" y="226.6" width="3.8" height="3.8" fill="#a8d0ca" stroke="#333" stroke-width="0.72" />
<line x1="550.4" y1="253.5" x2="550.4" y2="257.1" stroke="#222" stroke-width="0.8" />
<line x1="549.4" y1="253.5" x2="551.4" y2="253.5" stroke="#222" stroke-width="0.7" />
<line x1="549.4" y1="257.1" x2="551.4" y2="257.1" stroke="#222" stroke-width="0.7" />
<ellipse cx="550.4" cy="255.3" rx="2.0" ry="2.3" fill="#8cc0b8" stroke="#333" stroke-width="0.72"/>
<line x1="559.1" y1="258" x2="559.1" y2="261.6" stroke="#222" stroke-width="0.8" />
<line x1="558.1" y1="258" x2="560.1" y2="258" stroke="#222" stroke-width="0.7" />
<line x1="558.1" y1="261.6" x2="560.1" y2="261.6" stroke="#222" stroke-width="0.7" />
<ellipse cx="559.1" cy="259.8" rx="2.0" ry="2.3" fill="#8cc0b8" stroke="#333" stroke-width="0.72"/>
<line x1="567.7" y1="255.3" x2="567.7" y2="258.9" stroke="#222" stroke-width="0.8" />
<line x1="566.7" y1="255.3" x2="568.7" y2="255.3" stroke="#222" stroke-width="0.7" />
<line x1="566.7" y1="258.9" x2="568.7" y2="258.9" stroke="#222" stroke-width="0.7" />
<ellipse cx="567.7" cy="257.1" rx="2.0" ry="2.3" fill="#8cc0b8" stroke="#333" stroke-width="0.72"/>
<line x1="576.4" y1="252.6" x2="576.4" y2="256.2" stroke="#222" stroke-width="0.8" />
<line x1="575.4" y1="252.6" x2="577.4" y2="252.6" stroke="#222" stroke-width="0.7" />
<line x1="575.4" y1="256.2" x2="577.4" y2="256.2" stroke="#222" stroke-width="0.7" />
<ellipse cx="576.4" cy="254.4" rx="2.0" ry="2.3" fill="#8cc0b8" stroke="#333" stroke-width="0.72"/>
<line x1="585.1" y1="250.7" x2="585.1" y2="254.4" stroke="#222" stroke-width="0.8" />
<line x1="584.1" y1="250.7" x2="586.1" y2="250.7" stroke="#222" stroke-width="0.7" />
<line x1="584.1" y1="254.4" x2="586.1" y2="254.4" stroke="#222" stroke-width="0.7" />
<ellipse cx="585.1" cy="252.6" rx="2.0" ry="2.3" fill="#8cc0b8" stroke="#333" stroke-width="0.72"/>
<line x1="593.8" y1="249.8" x2="593.8" y2="253.5" stroke="#222" stroke-width="0.8" />
<line x1="592.8" y1="249.8" x2="594.8" y2="249.8" stroke="#222" stroke-width="0.7" />
<line x1="592.8" y1="253.5" x2="594.8" y2="253.5" stroke="#222" stroke-width="0.7" />
<ellipse cx="593.8" cy="251.7" rx="2.0" ry="2.3" fill="#8cc0b8" stroke="#333" stroke-width="0.72"/>
<line x1="602.4" y1="248.9" x2="602.4" y2="252.6" stroke="#222" stroke-width="0.8" />
<line x1="601.4" y1="248.9" x2="603.4" y2="248.9" stroke="#222" stroke-width="0.7" />
<line x1="601.4" y1="252.6" x2="603.4" y2="252.6" stroke="#222" stroke-width="0.7" />
<ellipse cx="602.4" cy="250.7" rx="2.0" ry="2.3" fill="#8cc0b8" stroke="#333" stroke-width="0.72"/>
<line x1="611.1" y1="248.9" x2="611.1" y2="252.6" stroke="#222" stroke-width="0.8" />
<line x1="610.1" y1="248.9" x2="612.1" y2="248.9" stroke="#222" stroke-width="0.7" />
<line x1="610.1" y1="252.6" x2="612.1" y2="252.6" stroke="#222" stroke-width="0.7" />
<ellipse cx="611.1" cy="250.7" rx="2.0" ry="2.3" fill="#8cc0b8" stroke="#333" stroke-width="0.72"/>
<line x1="619.8" y1="248" x2="619.8" y2="251.7" stroke="#222" stroke-width="0.8" />
<line x1="618.8" y1="248" x2="620.8" y2="248" stroke="#222" stroke-width="0.7" />
<line x1="618.8" y1="251.7" x2="620.8" y2="251.7" stroke="#222" stroke-width="0.7" />
<ellipse cx="619.8" cy="249.8" rx="2.0" ry="2.3" fill="#8cc0b8" stroke="#333" stroke-width="0.72"/>
<line x1="628.4" y1="248.9" x2="628.4" y2="252.6" stroke="#222" stroke-width="0.8" />
<line x1="627.4" y1="248.9" x2="629.4" y2="248.9" stroke="#222" stroke-width="0.7" />
<line x1="627.4" y1="252.6" x2="629.4" y2="252.6" stroke="#222" stroke-width="0.7" />
<ellipse cx="628.4" cy="250.7" rx="2.0" ry="2.3" fill="#8cc0b8" stroke="#333" stroke-width="0.72"/>
<rect x="548.5" y="268.8" width="3.8" height="3.8" fill="#6aaea4" stroke="#333" stroke-width="0.72" />
<rect x="557.2" y="257.9" width="3.8" height="3.8" fill="#6aaea4" stroke="#333" stroke-width="0.72" />
<rect x="565.8" y="255.2" width="3.8" height="3.8" fill="#6aaea4" stroke="#333" stroke-width="0.72" />
<rect x="574.5" y="252.5" width="3.8" height="3.8" fill="#6aaea4" stroke="#333" stroke-width="0.72" />
<rect x="583.2" y="250.7" width="3.8" height="3.8" fill="#6aaea4" stroke="#333" stroke-width="0.72" />
<rect x="591.9" y="249.8" width="3.8" height="3.8" fill="#6aaea4" stroke="#333" stroke-width="0.72" />
<rect x="600.5" y="248.8" width="3.8" height="3.8" fill="#6aaea4" stroke="#333" stroke-width="0.72" />
<rect x="609.2" y="248.8" width="3.8" height="3.8" fill="#6aaea4" stroke="#333" stroke-width="0.72" />
<rect x="617.9" y="247.9" width="3.8" height="3.8" fill="#6aaea4" stroke="#333" stroke-width="0.72" />
<rect x="626.5" y="248.8" width="3.8" height="3.8" fill="#6aaea4" stroke="#333" stroke-width="0.72" />
<rect x="539.8" y="294.2" width="3.8" height="3.8" fill="#ffffff" stroke="#333" stroke-width="0.72" />
<rect x="539.8" y="297.9" width="3.8" height="3.8" fill="#ffffff" stroke="#333" stroke-width="0.72" />
<rect x="635.2" y="294.2" width="3.8" height="3.8" fill="#ffffff" stroke="#333" stroke-width="0.72" />
<rect x="635.2" y="296.1" width="3.8" height="3.8" fill="#ffffff" stroke="#333" stroke-width="0.72" />
<rect x="643.9" y="297.9" width="3.8" height="3.8" fill="#ffffff" stroke="#333" stroke-width="0.72" />
<rect x="643.9" y="299.7" width="3.8" height="3.8" fill="#ffffff" stroke="#333" stroke-width="0.72" />
<rect x="537.5" y="207.5" width="113" height="96.9" fill="none" stroke="#111" stroke-width="1.1" />
<line x1="537.4" y1="304.4" x2="537.4" y2="301.8" stroke="#111" stroke-width="0.9" />
<line x1="550.4" y1="304.4" x2="550.4" y2="302.6" stroke="#111" stroke-width="0.9" />
<line x1="563.4" y1="304.4" x2="563.4" y2="301.8" stroke="#111" stroke-width="0.9" />
<line x1="576.4" y1="304.4" x2="576.4" y2="302.6" stroke="#111" stroke-width="0.9" />
<line x1="589.4" y1="304.4" x2="589.4" y2="301.8" stroke="#111" stroke-width="0.9" />
<line x1="602.4" y1="304.4" x2="602.4" y2="302.6" stroke="#111" stroke-width="0.9" />
<line x1="615.4" y1="304.4" x2="615.4" y2="301.8" stroke="#111" stroke-width="0.9" />
<line x1="628.4" y1="304.4" x2="628.4" y2="302.6" stroke="#111" stroke-width="0.9" />
<line x1="641.4" y1="304.4" x2="641.4" y2="301.8" stroke="#111" stroke-width="0.9" />
<line x1="537.5" y1="302.5" x2="540.1" y2="302.5" stroke="#111" stroke-width="0.9" />
<line x1="537.5" y1="293.4" x2="539.3" y2="293.4" stroke="#111" stroke-width="0.9" />
<line x1="537.5" y1="284.3" x2="540.1" y2="284.3" stroke="#111" stroke-width="0.9" />
<line x1="537.5" y1="275.3" x2="539.3" y2="275.3" stroke="#111" stroke-width="0.9" />
<line x1="537.5" y1="266.2" x2="540.1" y2="266.2" stroke="#111" stroke-width="0.9" />
<line x1="537.5" y1="257.1" x2="539.3" y2="257.1" stroke="#111" stroke-width="0.9" />
<line x1="537.5" y1="248" x2="540.1" y2="248" stroke="#111" stroke-width="0.9" />
<line x1="537.5" y1="238.9" x2="539.3" y2="238.9" stroke="#111" stroke-width="0.9" />
<line x1="537.5" y1="229.9" x2="540.1" y2="229.9" stroke="#111" stroke-width="0.9" />
<line x1="537.5" y1="220.8" x2="539.3" y2="220.8" stroke="#111" stroke-width="0.9" />
<line x1="537.5" y1="211.7" x2="540.1" y2="211.7" stroke="#111" stroke-width="0.9" />
<text x="537.4" y="313.9" font-size="8.2" font-weight="bold" text-anchor="middle" fill="#000" >0</text>
<text x="563.4" y="313.9" font-size="8.2" font-weight="bold" text-anchor="middle" fill="#000" >3</text>
<text x="589.4" y="313.9" font-size="8.2" font-weight="bold" text-anchor="middle" fill="#000" >6</text>
<text x="615.4" y="313.9" font-size="8.2" font-weight="bold" text-anchor="middle" fill="#000" >9</text>
<text x="641.4" y="313.9" font-size="8.2" font-weight="bold" text-anchor="middle" fill="#000" >12</text>
<text x="534.5" y="305.9" font-size="8.2" font-weight="bold" text-anchor="end" fill="#000" >0.0</text>
<text x="534.5" y="287.7" font-size="8.2" font-weight="bold" text-anchor="end" fill="#000" >0.2</text>
<text x="534.5" y="269.6" font-size="8.2" font-weight="bold" text-anchor="end" fill="#000" >0.4</text>
<text x="534.5" y="251.4" font-size="8.2" font-weight="bold" text-anchor="end" fill="#000" >0.6</text>
<text x="534.5" y="233.3" font-size="8.2" font-weight="bold" text-anchor="end" fill="#000" >0.8</text>
<text x="534.5" y="215.1" font-size="8.2" font-weight="bold" text-anchor="end" fill="#000" >1.0</text>
<text x="593.5" y="322.4" font-size="8.4" font-weight="bold" text-anchor="middle" fill="#000" >Pore Volume</text>
<text x="520.3" y="255.5" font-size="8.4" font-weight="bold" text-anchor="middle" fill="#000" transform="rotate(-90 520.3 255.5)" ><tspan font-style="italic">C/C</tspan><tspan font-size="4.5" dy="0.8">0</tspan></text>
<rect x="653.5" y="207.5" width="11" height="45" fill="url(#g1c)" stroke="#111" stroke-width="1" />
<rect x="653.5" y="259.5" width="11" height="45" fill="url(#g2c)" stroke="#111" stroke-width="1" />
<text x="662" y="229.9" font-size="8.2" font-weight="bold" text-anchor="middle" fill="#000" transform="rotate(-90 662 229.9)" >PVA-fCB</text>
<text x="662" y="281.8" font-size="8.2" font-weight="bold" text-anchor="middle" fill="#000" transform="rotate(-90 662 281.8)" >NR</text>
<text x="674.6" y="207.4" font-size="7.8" font-weight="bold" text-anchor="end" fill="#000" transform="rotate(-90 674.6 207.4)" >0.0</text>
<text x="674.6" y="253.4" font-size="7.8" font-weight="bold" text-anchor="start" fill="#000" transform="rotate(-90 674.6 253.4)" >6.8</text>
<text x="674.6" y="259.1" font-size="7.8" font-weight="bold" text-anchor="end" fill="#000" transform="rotate(-90 674.6 259.1)" >0.0</text>
<text x="674.6" y="305.3" font-size="7.8" font-weight="bold" text-anchor="start" fill="#000" transform="rotate(-90 674.6 305.3)" >6.8</text>
<text x="684.2" y="255.4" font-size="8.25" font-weight="bold" text-anchor="middle" fill="#000" transform="rotate(-90 684.2 255.4)" >FPOC <tspan font-style="italic">S</tspan><tspan font-size="5" dy="1">n</tspan><tspan dy="-1"> (%)</tspan></text>
<polyline points="183.4,437 184.3,437 185.1,437 186,437 186.9,437 187.7,437 188.6,436.9 189.5,436.9 190.3,436.6 191.2,436 192.1,434.4 192.9,430.7 193.8,424 194.7,414.9 195.5,406.5 196.4,400.9 197.3,397.4 198.1,395.1 199,393.2 199.9,391.5 200.7,390 201.6,388.5 202.5,387.2 203.3,385.8 204.2,384.5 205.1,383.3 205.9,382.1 206.8,380.9 207.7,379.8 208.5,378.7 209.4,377.6 210.3,376.6 211.1,375.6 212,374.7 212.9,373.7 213.7,372.8 214.6,372 215.5,371.2 216.3,370.4 217.2,369.6 218.1,368.8 218.9,368.1 219.8,367.4 220.7,366.8 221.5,366.1 222.4,365.5 223.3,364.9 224.1,364.3 225,363.7 225.9,363.2 226.8,362.6 227.6,362.1 228.5,361.6 229.4,361.2 230.2,360.7 231.1,360.2 232,359.8 232.8,359.4 233.7,359 234.6,358.6 235.4,358.2 236.3,357.9 237.2,357.5 238,357.2 238.9,356.9 239.8,356.5 240.6,356.2 241.5,356 242.4,355.7 243.2,355.4 244.1,355.1 245,354.9 245.8,354.6 246.7,354.4 247.6,354.2 248.4,353.9 249.3,353.7 250.2,353.5 251,353.3 251.9,353.1 252.8,352.9 253.6,352.7 254.5,352.6 255.4,352.4 256.2,352.2 257.1,352.1 258,351.9 258.8,351.8 259.7,351.6 260.6,351.5 261.4,351.4 262.3,351.2 263.2,351.1 264,351 264.9,350.9 265.8,350.8 266.6,350.6 267.5,350.5 268.4,350.4 269.2,350.4 270.1,350.3 271,350.2 271.8,350.2 272.7,350.2 273.6,350.3 274.4,350.6 275.3,351.3 276.2,352.7 277,355.3 277.9,360 278.8,367.7 279.6,379.1 280.5,393.2 281.4,407.2 282.2,418.7 283.1,426.5 284,431.3 284.8,434 285.7,435.4 286.6,436.2 287.4,436.6 288.3,436.8 289.2,436.9 290,436.9 290.9,437 291.8,437 292.6,437 293.5,437 294.4,437 295.2,437 296.1,437" fill="none" stroke="#555" stroke-width="0.9" stroke-linejoin="round"/>
<polyline points="183.4,437 184.3,437 185.1,437 186,437 186.9,437 187.7,437 188.6,437 189.5,436.9 190.3,436.7 191.2,436.1 192.1,434.7 192.9,431.4 193.8,425.3 194.7,417.2 195.5,409.4 196.4,404.1 197.3,400.7 198.1,398.3 199,396.4 199.9,394.7 200.7,393.2 201.6,391.7 202.5,390.2 203.3,388.9 204.2,387.5 205.1,386.3 205.9,385 206.8,383.9 207.7,382.7 208.5,381.6 209.4,380.6 210.3,379.6 211.1,378.6 212,377.6 212.9,376.7 213.7,375.8 214.6,375 215.5,374.2 216.3,373.4 217.2,372.6 218.1,371.9 218.9,371.2 219.8,370.5 220.7,369.9 221.5,369.2 222.4,368.6 223.3,368 224.1,367.5 225,366.9 225.9,366.4 226.8,365.9 227.6,365.4 228.5,365 229.4,364.5 230.2,364.1 231.1,363.7 232,363.3 232.8,362.9 233.7,362.5 234.6,362.1 235.4,361.8 236.3,361.4 237.2,361.1 238,360.8 238.9,360.5 239.8,360.2 240.6,359.9 241.5,359.7 242.4,359.4 243.2,359.2 244.1,358.9 245,358.7 245.8,358.5 246.7,358.3 247.6,358 248.4,357.8 249.3,357.7 250.2,357.5 251,357.3 251.9,357.1 252.8,357 253.6,356.8 254.5,356.6 255.4,356.5 256.2,356.3 257.1,356.2 258,356.1 258.8,355.9 259.7,355.8 260.6,355.7 261.4,355.6 262.3,355.5 263.2,355.4 264,355.3 264.9,355.2 265.8,355.1 266.6,355 267.5,354.9 268.4,354.8 269.2,354.7 270.1,354.7 271,354.6 271.8,354.6 272.7,354.6 273.6,354.8 274.4,355.1 275.3,355.7 276.2,357 277,359.5 277.9,363.9 278.8,371.3 279.6,382.1 280.5,395.5 281.4,408.8 282.2,419.6 283.1,427.1 284,431.6 284.8,434.1 285.7,435.5 286.6,436.2 287.4,436.6 288.3,436.8 289.2,436.9 290,436.9 290.9,437 291.8,437 292.6,437 293.5,437 294.4,437 295.2,437 296.1,437" fill="none" stroke="#a8c8e8" stroke-width="0.9" stroke-linejoin="round"/>
<polyline points="183.4,437 184.3,437 185.1,437 186,437 186.9,437 187.7,437 188.6,437 189.5,436.9 190.3,436.9 191.2,436.6 192.1,436 192.9,434.5 193.8,431.9 194.7,427.9 195.5,423.6 196.4,420.3 197.3,417.8 198.1,415.9 199,414.2 199.9,412.7 200.7,411.2 201.6,409.8 202.5,408.5 203.3,407.2 204.2,406 205.1,404.8 205.9,403.7 206.8,402.6 207.7,401.6 208.5,400.6 209.4,399.6 210.3,398.6 211.1,397.7 212,396.9 212.9,396 213.7,395.2 214.6,394.5 215.5,393.7 216.3,393 217.2,392.3 218.1,391.7 218.9,391 219.8,390.4 220.7,389.8 221.5,389.3 222.4,388.7 223.3,388.2 224.1,387.7 225,387.2 225.9,386.7 226.8,386.3 227.6,385.9 228.5,385.4 229.4,385 230.2,384.6 231.1,384.3 232,383.9 232.8,383.6 233.7,383.2 234.6,382.9 235.4,382.6 236.3,382.3 237.2,382 238,381.8 238.9,381.5 239.8,381.3 240.6,381 241.5,380.8 242.4,380.5 243.2,380.3 244.1,380.1 245,379.9 245.8,379.7 246.7,379.5 247.6,379.4 248.4,379.2 249.3,379 250.2,378.9 251,378.7 251.9,378.6 252.8,378.4 253.6,378.3 254.5,378.2 255.4,378 256.2,377.9 257.1,377.8 258,377.7 258.8,377.6 259.7,377.5 260.6,377.4 261.4,377.3 262.3,377.2 263.2,377.1 264,377 264.9,376.9 265.8,376.8 266.6,376.8 267.5,376.7 268.4,376.6 269.2,376.6 270.1,376.5 271,376.5 271.8,376.4 272.7,376.4 273.6,376.5 274.4,376.8 275.3,377.2 276.2,378.2 277,380 277.9,383.3 278.8,388.7 279.6,396.6 280.5,406.4 281.4,416.2 282.2,424.2 283.1,429.7 284,433 284.8,434.9 285.7,435.9 286.6,436.4 287.4,436.7 288.3,436.8 289.2,436.9 290,437 290.9,437 291.8,437 292.6,437 293.5,437 294.4,437 295.2,437 296.1,437" fill="none" stroke="#7aa8d4" stroke-width="0.9" stroke-linejoin="round"/>
<polyline points="183.4,437 184.3,437 185.1,437 186,437 186.9,437 187.7,437 188.6,437 189.5,437 190.3,436.9 191.2,436.7 192.1,436.2 192.9,435 193.8,432.9 194.7,429.8 195.5,426.4 196.4,423.8 197.3,421.9 198.1,420.5 199,419.2 199.9,418.1 200.7,417 201.6,416 202.5,415 203.3,414 204.2,413.1 205.1,412.3 205.9,411.5 206.8,410.7 207.7,409.9 208.5,409.2 209.4,408.5 210.3,407.8 211.1,407.2 212,406.5 212.9,406 213.7,405.4 214.6,404.8 215.5,404.3 216.3,403.8 217.2,403.3 218.1,402.9 218.9,402.4 219.8,402 220.7,401.6 221.5,401.2 222.4,400.8 223.3,400.5 224.1,400.1 225,399.8 225.9,399.5 226.8,399.2 227.6,398.9 228.5,398.6 229.4,398.4 230.2,398.1 231.1,397.8 232,397.6 232.8,397.4 233.7,397.2 234.6,397 235.4,396.8 236.3,396.6 237.2,396.4 238,396.2 238.9,396 239.8,395.9 240.6,395.7 241.5,395.6 242.4,395.4 243.2,395.3 244.1,395.2 245,395 245.8,394.9 246.7,394.8 247.6,394.7 248.4,394.6 249.3,394.5 250.2,394.4 251,394.3 251.9,394.2 252.8,394.1 253.6,394 254.5,393.9 255.4,393.9 256.2,393.8 257.1,393.7 258,393.6 258.8,393.6 259.7,393.5 260.6,393.5 261.4,393.4 262.3,393.3 263.2,393.3 264,393.2 264.9,393.2 265.8,393.1 266.6,393.1 267.5,393.1 268.4,393 269.2,393 270.1,393 271,392.9 271.8,392.9 272.7,392.9 273.6,393 274.4,393.2 275.3,393.5 276.2,394.2 277,395.6 277.9,397.9 278.8,401.9 279.6,407.7 280.5,414.8 281.4,421.9 282.2,427.7 283.1,431.7 284,434.1 284.8,435.5 285.7,436.2 286.6,436.6 287.4,436.8 288.3,436.9 289.2,436.9 290,437 290.9,437 291.8,437 292.6,437 293.5,437 294.4,437 295.2,437 296.1,437" fill="none" stroke="#5a8cc0" stroke-width="0.9" stroke-linejoin="round"/>
<rect x="194.5" y="403.3" width="3.8" height="3.8" fill="#9a9a9a" stroke="#333" stroke-width="0.72" />
<rect x="203.2" y="379.7" width="3.8" height="3.8" fill="#9a9a9a" stroke="#333" stroke-width="0.72" />
<rect x="211.8" y="368.8" width="3.8" height="3.8" fill="#9a9a9a" stroke="#333" stroke-width="0.72" />
<rect x="220.5" y="362.5" width="3.8" height="3.8" fill="#9a9a9a" stroke="#333" stroke-width="0.72" />
<rect x="229.2" y="357.9" width="3.8" height="3.8" fill="#9a9a9a" stroke="#333" stroke-width="0.72" />
<rect x="237.9" y="356.1" width="3.8" height="3.8" fill="#9a9a9a" stroke="#333" stroke-width="0.72" />
<rect x="246.5" y="353.4" width="3.8" height="3.8" fill="#9a9a9a" stroke="#333" stroke-width="0.72" />
<rect x="255.2" y="352.5" width="3.8" height="3.8" fill="#9a9a9a" stroke="#333" stroke-width="0.72" />
<rect x="263.9" y="352.5" width="3.8" height="3.8" fill="#9a9a9a" stroke="#333" stroke-width="0.72" />
<rect x="272.5" y="352.5" width="3.8" height="3.8" fill="#9a9a9a" stroke="#333" stroke-width="0.72" />
<rect x="194.5" y="407.9" width="3.8" height="3.8" fill="#e0eefa" stroke="#333" stroke-width="0.72" />
<rect x="203.2" y="382.4" width="3.8" height="3.8" fill="#e0eefa" stroke="#333" stroke-width="0.72" />
<rect x="211.8" y="371.5" width="3.8" height="3.8" fill="#e0eefa" stroke="#333" stroke-width="0.72" />
<rect x="220.5" y="363.4" width="3.8" height="3.8" fill="#e0eefa" stroke="#333" stroke-width="0.72" />
<rect x="229.2" y="358.8" width="3.8" height="3.8" fill="#e0eefa" stroke="#333" stroke-width="0.72" />
<rect x="237.9" y="356.1" width="3.8" height="3.8" fill="#e0eefa" stroke="#333" stroke-width="0.72" />
<rect x="246.5" y="354.3" width="3.8" height="3.8" fill="#e0eefa" stroke="#333" stroke-width="0.72" />
<rect x="255.2" y="353.4" width="3.8" height="3.8" fill="#e0eefa" stroke="#333" stroke-width="0.72" />
<rect x="263.9" y="353.4" width="3.8" height="3.8" fill="#e0eefa" stroke="#333" stroke-width="0.72" />
<rect x="272.5" y="354.3" width="3.8" height="3.8" fill="#e0eefa" stroke="#333" stroke-width="0.72" />
<rect x="194.5" y="421.5" width="3.8" height="3.8" fill="#b0d0ee" stroke="#333" stroke-width="0.72" />
<rect x="203.2" y="405.1" width="3.8" height="3.8" fill="#b0d0ee" stroke="#333" stroke-width="0.72" />
<rect x="211.8" y="395.1" width="3.8" height="3.8" fill="#b0d0ee" stroke="#333" stroke-width="0.72" />
<rect x="220.5" y="387.9" width="3.8" height="3.8" fill="#b0d0ee" stroke="#333" stroke-width="0.72" />
<rect x="229.2" y="380.6" width="3.8" height="3.8" fill="#b0d0ee" stroke="#333" stroke-width="0.72" />
<rect x="237.9" y="378.8" width="3.8" height="3.8" fill="#b0d0ee" stroke="#333" stroke-width="0.72" />
<rect x="246.5" y="376.1" width="3.8" height="3.8" fill="#b0d0ee" stroke="#333" stroke-width="0.72" />
<rect x="255.2" y="375.2" width="3.8" height="3.8" fill="#b0d0ee" stroke="#333" stroke-width="0.72" />
<rect x="263.9" y="374.3" width="3.8" height="3.8" fill="#b0d0ee" stroke="#333" stroke-width="0.72" />
<rect x="272.5" y="374.3" width="3.8" height="3.8" fill="#b0d0ee" stroke="#333" stroke-width="0.72" />
<line x1="196.4" y1="422.5" x2="196.4" y2="426.1" stroke="#222" stroke-width="0.8" />
<line x1="195.4" y1="422.5" x2="197.4" y2="422.5" stroke="#222" stroke-width="0.7" />
<line x1="195.4" y1="426.1" x2="197.4" y2="426.1" stroke="#222" stroke-width="0.7" />
<ellipse cx="196.4" cy="424.3" rx="2.0" ry="2.3" fill="#b0d0ee" stroke="#333" stroke-width="0.72"/>
<line x1="205.1" y1="405.2" x2="205.1" y2="408.9" stroke="#222" stroke-width="0.8" />
<line x1="204.1" y1="405.2" x2="206.1" y2="405.2" stroke="#222" stroke-width="0.7" />
<line x1="204.1" y1="408.9" x2="206.1" y2="408.9" stroke="#222" stroke-width="0.7" />
<ellipse cx="205.1" cy="407" rx="2.0" ry="2.3" fill="#b0d0ee" stroke="#333" stroke-width="0.72"/>
<line x1="213.7" y1="395.2" x2="213.7" y2="398.9" stroke="#222" stroke-width="0.8" />
<line x1="212.7" y1="395.2" x2="214.7" y2="395.2" stroke="#222" stroke-width="0.7" />
<line x1="212.7" y1="398.9" x2="214.7" y2="398.9" stroke="#222" stroke-width="0.7" />
<ellipse cx="213.7" cy="397" rx="2.0" ry="2.3" fill="#b0d0ee" stroke="#333" stroke-width="0.72"/>
<line x1="222.4" y1="387.1" x2="222.4" y2="390.7" stroke="#222" stroke-width="0.8" />
<line x1="221.4" y1="387.1" x2="223.4" y2="387.1" stroke="#222" stroke-width="0.7" />
<line x1="221.4" y1="390.7" x2="223.4" y2="390.7" stroke="#222" stroke-width="0.7" />
<ellipse cx="222.4" cy="388.9" rx="2.0" ry="2.3" fill="#b0d0ee" stroke="#333" stroke-width="0.72"/>
<line x1="231.1" y1="381.6" x2="231.1" y2="385.2" stroke="#222" stroke-width="0.8" />
<line x1="230.1" y1="381.6" x2="232.1" y2="381.6" stroke="#222" stroke-width="0.7" />
<line x1="230.1" y1="385.2" x2="232.1" y2="385.2" stroke="#222" stroke-width="0.7" />
<ellipse cx="231.1" cy="383.4" rx="2.0" ry="2.3" fill="#b0d0ee" stroke="#333" stroke-width="0.72"/>
<line x1="239.8" y1="378.9" x2="239.8" y2="382.5" stroke="#222" stroke-width="0.8" />
<line x1="238.8" y1="378.9" x2="240.8" y2="378.9" stroke="#222" stroke-width="0.7" />
<line x1="238.8" y1="382.5" x2="240.8" y2="382.5" stroke="#222" stroke-width="0.7" />
<ellipse cx="239.8" cy="380.7" rx="2.0" ry="2.3" fill="#b0d0ee" stroke="#333" stroke-width="0.72"/>
<line x1="248.4" y1="376.2" x2="248.4" y2="379.8" stroke="#222" stroke-width="0.8" />
<line x1="247.4" y1="376.2" x2="249.4" y2="376.2" stroke="#222" stroke-width="0.7" />
<line x1="247.4" y1="379.8" x2="249.4" y2="379.8" stroke="#222" stroke-width="0.7" />
<ellipse cx="248.4" cy="378" rx="2.0" ry="2.3" fill="#b0d0ee" stroke="#333" stroke-width="0.72"/>
<line x1="257.1" y1="375.3" x2="257.1" y2="378.9" stroke="#222" stroke-width="0.8" />
<line x1="256.1" y1="375.3" x2="258.1" y2="375.3" stroke="#222" stroke-width="0.7" />
<line x1="256.1" y1="378.9" x2="258.1" y2="378.9" stroke="#222" stroke-width="0.7" />
<ellipse cx="257.1" cy="377.1" rx="2.0" ry="2.3" fill="#b0d0ee" stroke="#333" stroke-width="0.72"/>
<line x1="265.8" y1="374.3" x2="265.8" y2="378" stroke="#222" stroke-width="0.8" />
<line x1="264.8" y1="374.3" x2="266.8" y2="374.3" stroke="#222" stroke-width="0.7" />
<line x1="264.8" y1="378" x2="266.8" y2="378" stroke="#222" stroke-width="0.7" />
<ellipse cx="265.8" cy="376.2" rx="2.0" ry="2.3" fill="#b0d0ee" stroke="#333" stroke-width="0.72"/>
<line x1="274.4" y1="374.3" x2="274.4" y2="378" stroke="#222" stroke-width="0.8" />
<line x1="273.4" y1="374.3" x2="275.4" y2="374.3" stroke="#222" stroke-width="0.7" />
<line x1="273.4" y1="378" x2="275.4" y2="378" stroke="#222" stroke-width="0.7" />
<ellipse cx="274.4" cy="376.2" rx="2.0" ry="2.3" fill="#b0d0ee" stroke="#333" stroke-width="0.72"/>
<rect x="194.5" y="424.2" width="3.8" height="3.8" fill="#7aa4cc" stroke="#333" stroke-width="0.72" />
<rect x="203.2" y="411.5" width="3.8" height="3.8" fill="#7aa4cc" stroke="#333" stroke-width="0.72" />
<rect x="211.8" y="405.1" width="3.8" height="3.8" fill="#7aa4cc" stroke="#333" stroke-width="0.72" />
<rect x="220.5" y="399.7" width="3.8" height="3.8" fill="#7aa4cc" stroke="#333" stroke-width="0.72" />
<rect x="229.2" y="397" width="3.8" height="3.8" fill="#7aa4cc" stroke="#333" stroke-width="0.72" />
<rect x="237.9" y="394.2" width="3.8" height="3.8" fill="#7aa4cc" stroke="#333" stroke-width="0.72" />
<rect x="246.5" y="392.4" width="3.8" height="3.8" fill="#7aa4cc" stroke="#333" stroke-width="0.72" />
<rect x="255.2" y="391.5" width="3.8" height="3.8" fill="#7aa4cc" stroke="#333" stroke-width="0.72" />
<rect x="263.9" y="390.6" width="3.8" height="3.8" fill="#7aa4cc" stroke="#333" stroke-width="0.72" />
<rect x="272.5" y="391.5" width="3.8" height="3.8" fill="#7aa4cc" stroke="#333" stroke-width="0.72" />
<rect x="185.8" y="433.3" width="3.8" height="3.8" fill="#ffffff" stroke="#333" stroke-width="0.72" />
<rect x="185.8" y="434.2" width="3.8" height="3.8" fill="#ffffff" stroke="#333" stroke-width="0.72" />
<rect x="281.2" y="428.7" width="3.8" height="3.8" fill="#ffffff" stroke="#333" stroke-width="0.72" />
<rect x="281.2" y="430.6" width="3.8" height="3.8" fill="#ffffff" stroke="#333" stroke-width="0.72" />
<rect x="289.9" y="432.4" width="3.8" height="3.8" fill="#ffffff" stroke="#333" stroke-width="0.72" />
<rect x="289.9" y="434.2" width="3.8" height="3.8" fill="#ffffff" stroke="#333" stroke-width="0.72" />
<rect x="183.5" y="342" width="113" height="96.9" fill="none" stroke="#111" stroke-width="1.1" />
<line x1="183.4" y1="438.9" x2="183.4" y2="436.3" stroke="#111" stroke-width="0.9" />
<line x1="196.4" y1="438.9" x2="196.4" y2="437.1" stroke="#111" stroke-width="0.9" />
<line x1="209.4" y1="438.9" x2="209.4" y2="436.3" stroke="#111" stroke-width="0.9" />
<line x1="222.4" y1="438.9" x2="222.4" y2="437.1" stroke="#111" stroke-width="0.9" />
<line x1="235.4" y1="438.9" x2="235.4" y2="436.3" stroke="#111" stroke-width="0.9" />
<line x1="248.4" y1="438.9" x2="248.4" y2="437.1" stroke="#111" stroke-width="0.9" />
<line x1="261.4" y1="438.9" x2="261.4" y2="436.3" stroke="#111" stroke-width="0.9" />
<line x1="274.4" y1="438.9" x2="274.4" y2="437.1" stroke="#111" stroke-width="0.9" />
<line x1="287.4" y1="438.9" x2="287.4" y2="436.3" stroke="#111" stroke-width="0.9" />
<line x1="183.5" y1="437" x2="186.1" y2="437" stroke="#111" stroke-width="0.9" />
<line x1="183.5" y1="427.9" x2="185.3" y2="427.9" stroke="#111" stroke-width="0.9" />
<line x1="183.5" y1="418.8" x2="186.1" y2="418.8" stroke="#111" stroke-width="0.9" />
<line x1="183.5" y1="409.8" x2="185.3" y2="409.8" stroke="#111" stroke-width="0.9" />
<line x1="183.5" y1="400.7" x2="186.1" y2="400.7" stroke="#111" stroke-width="0.9" />
<line x1="183.5" y1="391.6" x2="185.3" y2="391.6" stroke="#111" stroke-width="0.9" />
<line x1="183.5" y1="382.5" x2="186.1" y2="382.5" stroke="#111" stroke-width="0.9" />
<line x1="183.5" y1="373.4" x2="185.3" y2="373.4" stroke="#111" stroke-width="0.9" />
<line x1="183.5" y1="364.4" x2="186.1" y2="364.4" stroke="#111" stroke-width="0.9" />
<line x1="183.5" y1="355.3" x2="185.3" y2="355.3" stroke="#111" stroke-width="0.9" />
<line x1="183.5" y1="346.2" x2="186.1" y2="346.2" stroke="#111" stroke-width="0.9" />
<text x="183.4" y="448.4" font-size="8.2" font-weight="bold" text-anchor="middle" fill="#000" >0</text>
<text x="209.4" y="448.4" font-size="8.2" font-weight="bold" text-anchor="middle" fill="#000" >3</text>
<text x="235.4" y="448.4" font-size="8.2" font-weight="bold" text-anchor="middle" fill="#000" >6</text>
<text x="261.4" y="448.4" font-size="8.2" font-weight="bold" text-anchor="middle" fill="#000" >9</text>
<text x="287.4" y="448.4" font-size="8.2" font-weight="bold" text-anchor="middle" fill="#000" >12</text>
<text x="180.5" y="440.4" font-size="8.2" font-weight="bold" text-anchor="end" fill="#000" >0.0</text>
<text x="180.5" y="422.2" font-size="8.2" font-weight="bold" text-anchor="end" fill="#000" >0.2</text>
<text x="180.5" y="404.1" font-size="8.2" font-weight="bold" text-anchor="end" fill="#000" >0.4</text>
<text x="180.5" y="385.9" font-size="8.2" font-weight="bold" text-anchor="end" fill="#000" >0.6</text>
<text x="180.5" y="367.8" font-size="8.2" font-weight="bold" text-anchor="end" fill="#000" >0.8</text>
<text x="180.5" y="349.6" font-size="8.2" font-weight="bold" text-anchor="end" fill="#000" >1.0</text>
<text x="239.5" y="456.9" font-size="8.4" font-weight="bold" text-anchor="middle" fill="#000" >Pore Volume</text>
<text x="166.3" y="390" font-size="8.4" font-weight="bold" text-anchor="middle" fill="#000" transform="rotate(-90 166.3 390)" ><tspan font-style="italic">C/C</tspan><tspan font-size="4.5" dy="0.8">0</tspan></text>
<rect x="299.5" y="342" width="11" height="45" fill="url(#g1d)" stroke="#111" stroke-width="1" />
<rect x="299.5" y="394" width="11" height="45" fill="url(#g2d)" stroke="#111" stroke-width="1" />
<text x="308" y="364.4" font-size="8.2" font-weight="bold" text-anchor="middle" fill="#000" transform="rotate(-90 308 364.4)" >PVA-fCB</text>
<text x="308" y="416.3" font-size="8.2" font-weight="bold" text-anchor="middle" fill="#000" transform="rotate(-90 308 416.3)" >NR</text>
<text x="320.6" y="341.9" font-size="7.8" font-weight="bold" text-anchor="end" fill="#000" transform="rotate(-90 320.6 341.9)" >0.0</text>
<text x="320.6" y="387.9" font-size="7.8" font-weight="bold" text-anchor="start" fill="#000" transform="rotate(-90 320.6 387.9)" >5.0</text>
<text x="320.6" y="393.6" font-size="7.8" font-weight="bold" text-anchor="end" fill="#000" transform="rotate(-90 320.6 393.6)" >0.0</text>
<text x="320.6" y="439.8" font-size="7.8" font-weight="bold" text-anchor="start" fill="#000" transform="rotate(-90 320.6 439.8)" >5.0</text>
<text x="330.2" y="389.9" font-size="8.25" font-weight="bold" text-anchor="middle" fill="#000" transform="rotate(-90 330.2 389.9)" >FPOC <tspan font-style="italic">S</tspan><tspan font-size="5" dy="1">n</tspan><tspan dy="-1"> (%)</tspan></text>
<polyline points="537.4,437 538.3,437 539.1,437 540,437 540.9,437 541.7,437 542.6,437 543.5,437 544.3,437 545.2,437 546.1,437 546.9,437 547.8,436.9 548.7,436.9 549.5,436.9 550.4,436.9 551.3,436.9 552.1,436.8 553,436.8 553.9,436.7 554.7,436.6 555.6,436.5 556.5,436.4 557.3,436.2 558.2,436 559.1,435.7 559.9,435.4 560.8,434.9 561.7,434.3 562.5,433.6 563.4,432.7 564.3,431.5 565.1,430.1 566,428.3 566.9,426.2 567.7,423.6 568.6,420.4 569.5,416.8 570.3,412.6 571.2,407.9 572.1,402.7 572.9,397.2 573.8,391.6 574.7,386 575.5,380.5 576.4,375.3 577.3,370.6 578.1,366.4 579,362.8 579.9,359.6 580.8,357 581.6,354.9 582.5,353.1 583.4,351.7 584.2,350.5 585.1,349.6 586,348.9 586.8,348.3 587.7,347.8 588.6,347.5 589.4,347.2 590.3,347 591.2,346.8 592,346.7 592.9,346.6 593.8,346.5 594.6,346.4 595.5,346.4 596.4,346.3 597.2,346.3 598.1,346.3 599,346.3 599.8,346.3 600.7,346.2 601.6,346.2 602.4,346.2 603.3,346.2 604.2,346.2 605,346.2 605.9,346.2 606.8,346.2 607.6,346.2 608.5,346.2 609.4,346.2 610.2,346.2 611.1,346.2 612,346.2 612.8,346.2 613.7,346.2 614.6,346.2 615.4,346.2 616.3,346.2 617.2,346.2 618,346.2 618.9,346.2 619.8,346.2 620.6,346.2 621.5,346.2 622.4,346.2 623.2,346.2 624.1,346.2 625,346.3 625.8,346.3 626.7,346.4 627.6,346.6 628.4,347 629.3,347.8 630.2,349.3 631,352.1 631.9,357 632.8,365.1 633.6,377 634.5,391.6 635.4,406.2 636.2,418.1 637.1,426.2 638,431.1 638.8,433.9 639.7,435.4 640.6,436.2 641.4,436.6 642.3,436.8 643.2,436.9 644,436.9 644.9,437 645.8,437 646.6,437 647.5,437 648.4,437 649.2,437 650.1,437" fill="none" stroke="#444" stroke-width="0.9" stroke-linejoin="round"/>
<polyline points="537.4,437 538.3,437 539.1,437 540,437 540.9,437 541.7,437 542.6,437 543.5,437 544.3,437 545.2,437 546.1,436.9 546.9,436.9 547.8,436.9 548.7,436.9 549.5,436.9 550.4,436.8 551.3,436.8 552.1,436.7 553,436.7 553.9,436.6 554.7,436.5 555.6,436.3 556.5,436.2 557.3,436 558.2,435.7 559.1,435.4 559.9,435 560.8,434.5 561.7,433.9 562.5,433.2 563.4,432.3 564.3,431.2 565.1,429.8 566,428.2 566.9,426.3 567.7,424 568.6,421.3 569.5,418.2 570.3,414.7 571.2,410.8 572.1,406.5 572.9,401.9 573.8,397 574.7,392.1 575.5,387.1 576.4,382.2 577.3,377.6 578.1,373.3 579,369.4 579.9,365.9 580.8,362.8 581.6,360.1 582.5,357.8 583.4,355.9 584.2,354.3 585.1,352.9 586,351.8 586.8,350.9 587.7,350.2 588.6,349.6 589.4,349.1 590.3,348.7 591.2,348.4 592,348.2 592.9,347.9 593.8,347.8 594.6,347.6 595.5,347.5 596.4,347.5 597.2,347.4 598.1,347.3 599,347.3 599.8,347.3 600.7,347.2 601.6,347.2 602.4,347.2 603.3,347.2 604.2,347.2 605,347.1 605.9,347.1 606.8,347.1 607.6,347.1 608.5,347.1 609.4,347.1 610.2,347.1 611.1,347.1 612,347.1 612.8,347.1 613.7,347.1 614.6,347.1 615.4,347.1 616.3,347.1 617.2,347.1 618,347.1 618.9,347.1 619.8,347.1 620.6,347.1 621.5,347.1 622.4,347.1 623.2,347.1 624.1,347.1 625,347.2 625.8,347.2 626.7,347.3 627.6,347.5 628.4,347.9 629.3,348.7 630.2,350.2 631,352.9 631.9,357.8 632.8,365.9 633.6,377.6 634.5,392.1 635.4,406.5 636.2,418.2 637.1,426.3 638,431.2 638.8,433.9 639.7,435.4 640.6,436.2 641.4,436.6 642.3,436.8 643.2,436.9 644,436.9 644.9,437 645.8,437 646.6,437 647.5,437 648.4,437 649.2,437 650.1,437" fill="none" stroke="#b0a0dc" stroke-width="0.9" stroke-linejoin="round"/>
<polyline points="537.4,437 538.3,437 539.1,437 540,437 540.9,437 541.7,436.9 542.6,436.9 543.5,436.9 544.3,436.9 545.2,436.9 546.1,436.9 546.9,436.8 547.8,436.8 548.7,436.8 549.5,436.7 550.4,436.7 551.3,436.6 552.1,436.6 553,436.5 553.9,436.4 554.7,436.2 555.6,436.1 556.5,435.9 557.3,435.7 558.2,435.4 559.1,435.1 559.9,434.7 560.8,434.3 561.7,433.8 562.5,433.2 563.4,432.5 564.3,431.7 565.1,430.7 566,429.5 566.9,428.2 567.7,426.7 568.6,425 569.5,423.1 570.3,420.9 571.2,418.5 572.1,415.9 572.9,413 573.8,410 574.7,406.8 575.5,403.6 576.4,400.2 577.3,396.9 578.1,393.6 579,390.4 579.9,387.4 580.8,384.6 581.6,381.9 582.5,379.5 583.4,377.4 584.2,375.4 585.1,373.7 586,372.2 586.8,370.9 587.7,369.8 588.6,368.8 589.4,368 590.3,367.3 591.2,366.7 592,366.1 592.9,365.7 593.8,365.3 594.6,365 595.5,364.8 596.4,364.6 597.2,364.4 598.1,364.2 599,364.1 599.8,364 600.7,363.9 601.6,363.8 602.4,363.8 603.3,363.7 604.2,363.7 605,363.6 605.9,363.6 606.8,363.6 607.6,363.6 608.5,363.5 609.4,363.5 610.2,363.5 611.1,363.5 612,363.5 612.8,363.5 613.7,363.5 614.6,363.5 615.4,363.5 616.3,363.5 617.2,363.5 618,363.5 618.9,363.5 619.8,363.5 620.6,363.5 621.5,363.5 622.4,363.5 623.2,363.5 624.1,363.5 625,363.5 625.8,363.5 626.7,363.6 627.6,363.8 628.4,364.1 629.3,364.8 630.2,366 631,368.2 631.9,372.2 632.8,378.8 633.6,388.4 634.5,400.2 635.4,412 636.2,421.7 637.1,428.2 638,432.2 638.8,434.5 639.7,435.7 640.6,436.3 641.4,436.6 642.3,436.8 643.2,436.9 644,437 644.9,437 645.8,437 646.6,437 647.5,437 648.4,437 649.2,437 650.1,437" fill="none" stroke="#9a84d0" stroke-width="0.9" stroke-linejoin="round"/>
<polyline points="537.4,437 538.3,437 539.1,437 540,437 540.9,437 541.7,437 542.6,437 543.5,437 544.3,437 545.2,437 546.1,436.9 546.9,436.9 547.8,436.9 548.7,436.9 549.5,436.9 550.4,436.9 551.3,436.8 552.1,436.8 553,436.7 553.9,436.7 554.7,436.6 555.6,436.5 556.5,436.4 557.3,436.3 558.2,436.1 559.1,435.9 559.9,435.7 560.8,435.4 561.7,435.1 562.5,434.7 563.4,434.2 564.3,433.6 565.1,432.9 566,432.1 566.9,431.1 567.7,430 568.6,428.7 569.5,427.2 570.3,425.5 571.2,423.7 572.1,421.7 572.9,419.5 573.8,417.1 574.7,414.7 575.5,412.3 576.4,409.8 577.3,407.4 578.1,405 579,402.9 579.9,400.8 580.8,399 581.6,397.3 582.5,395.8 583.4,394.5 584.2,393.4 585.1,392.5 586,391.6 586.8,390.9 587.7,390.4 588.6,389.9 589.4,389.5 590.3,389.1 591.2,388.8 592,388.6 592.9,388.4 593.8,388.2 594.6,388.1 595.5,388 596.4,387.9 597.2,387.8 598.1,387.8 599,387.7 599.8,387.7 600.7,387.7 601.6,387.6 602.4,387.6 603.3,387.6 604.2,387.6 605,387.6 605.9,387.6 606.8,387.6 607.6,387.5 608.5,387.5 609.4,387.5 610.2,387.5 611.1,387.5 612,387.5 612.8,387.5 613.7,387.5 614.6,387.5 615.4,387.5 616.3,387.5 617.2,387.5 618,387.5 618.9,387.5 619.8,387.5 620.6,387.5 621.5,387.5 622.4,387.5 623.2,387.5 624.1,387.5 625,387.5 625.8,387.6 626.7,387.6 627.6,387.8 628.4,388 629.3,388.4 630.2,389.2 631,390.7 631.9,393.4 632.8,397.8 633.6,404.3 634.5,412.3 635.4,420.2 636.2,426.7 637.1,431.1 638,433.8 638.8,435.3 639.7,436.1 640.6,436.5 641.4,436.8 642.3,436.9 643.2,436.9 644,437 644.9,437 645.8,437 646.6,437 647.5,437 648.4,437 649.2,437 650.1,437" fill="none" stroke="#7e66c0" stroke-width="0.9" stroke-linejoin="round"/>
<rect x="539.8" y="433.3" width="3.8" height="3.8" fill="#7c7c7c" stroke="#333" stroke-width="0.72" />
<rect x="548.5" y="433.3" width="3.8" height="3.8" fill="#7c7c7c" stroke="#333" stroke-width="0.72" />
<rect x="557.2" y="433.3" width="3.8" height="3.8" fill="#7c7c7c" stroke="#333" stroke-width="0.72" />
<rect x="565.8" y="416.9" width="3.8" height="3.8" fill="#7c7c7c" stroke="#333" stroke-width="0.72" />
<rect x="565.8" y="419.7" width="3.8" height="3.8" fill="#7c7c7c" stroke="#333" stroke-width="0.72" />
<rect x="574.5" y="377.9" width="3.8" height="3.8" fill="#7c7c7c" stroke="#333" stroke-width="0.72" />
<rect x="574.5" y="376.1" width="3.8" height="3.8" fill="#7c7c7c" stroke="#333" stroke-width="0.72" />
<rect x="583.2" y="351.6" width="3.8" height="3.8" fill="#7c7c7c" stroke="#333" stroke-width="0.72" />
<rect x="583.2" y="347.9" width="3.8" height="3.8" fill="#7c7c7c" stroke="#333" stroke-width="0.72" />
<rect x="591.9" y="346.1" width="3.8" height="3.8" fill="#7c7c7c" stroke="#333" stroke-width="0.72" />
<rect x="600.5" y="345.2" width="3.8" height="3.8" fill="#7c7c7c" stroke="#333" stroke-width="0.72" />
<rect x="609.2" y="345.2" width="3.8" height="3.8" fill="#7c7c7c" stroke="#333" stroke-width="0.72" />
<rect x="617.9" y="345.2" width="3.8" height="3.8" fill="#7c7c7c" stroke="#333" stroke-width="0.72" />
<rect x="626.5" y="345.2" width="3.8" height="3.8" fill="#7c7c7c" stroke="#333" stroke-width="0.72" />
<rect x="565.8" y="415.1" width="3.8" height="3.8" fill="#ece6f8" stroke="#333" stroke-width="0.72" />
<rect x="574.5" y="387.9" width="3.8" height="3.8" fill="#ece6f8" stroke="#333" stroke-width="0.72" />
<rect x="583.2" y="353.4" width="3.8" height="3.8" fill="#ece6f8" stroke="#333" stroke-width="0.72" />
<rect x="591.9" y="347" width="3.8" height="3.8" fill="#ece6f8" stroke="#333" stroke-width="0.72" />
<rect x="600.5" y="347" width="3.8" height="3.8" fill="#ece6f8" stroke="#333" stroke-width="0.72" />
<rect x="609.2" y="346.1" width="3.8" height="3.8" fill="#ece6f8" stroke="#333" stroke-width="0.72" />
<rect x="617.9" y="346.1" width="3.8" height="3.8" fill="#ece6f8" stroke="#333" stroke-width="0.72" />
<rect x="626.5" y="347" width="3.8" height="3.8" fill="#ece6f8" stroke="#333" stroke-width="0.72" />
<rect x="565.8" y="426" width="3.8" height="3.8" fill="#c0b0e8" stroke="#333" stroke-width="0.72" />
<rect x="574.5" y="394.2" width="3.8" height="3.8" fill="#c0b0e8" stroke="#333" stroke-width="0.72" />
<rect x="583.2" y="380.6" width="3.8" height="3.8" fill="#c0b0e8" stroke="#333" stroke-width="0.72" />
<rect x="591.9" y="369.7" width="3.8" height="3.8" fill="#c0b0e8" stroke="#333" stroke-width="0.72" />
<rect x="600.5" y="364.3" width="3.8" height="3.8" fill="#c0b0e8" stroke="#333" stroke-width="0.72" />
<rect x="609.2" y="361.6" width="3.8" height="3.8" fill="#c0b0e8" stroke="#333" stroke-width="0.72" />
<rect x="617.9" y="360.6" width="3.8" height="3.8" fill="#c0b0e8" stroke="#333" stroke-width="0.72" />
<rect x="626.5" y="361.6" width="3.8" height="3.8" fill="#c0b0e8" stroke="#333" stroke-width="0.72" />
<rect x="565.8" y="430.6" width="3.8" height="3.8" fill="#a08ad8" stroke="#333" stroke-width="0.72" />
<rect x="574.5" y="405.1" width="3.8" height="3.8" fill="#a08ad8" stroke="#333" stroke-width="0.72" />
<rect x="583.2" y="392.4" width="3.8" height="3.8" fill="#a08ad8" stroke="#333" stroke-width="0.72" />
<rect x="591.9" y="388.8" width="3.8" height="3.8" fill="#a08ad8" stroke="#333" stroke-width="0.72" />
<rect x="600.5" y="387" width="3.8" height="3.8" fill="#a08ad8" stroke="#333" stroke-width="0.72" />
<rect x="609.2" y="386.1" width="3.8" height="3.8" fill="#a08ad8" stroke="#333" stroke-width="0.72" />
<rect x="617.9" y="385.2" width="3.8" height="3.8" fill="#a08ad8" stroke="#333" stroke-width="0.72" />
<rect x="626.5" y="385.2" width="3.8" height="3.8" fill="#a08ad8" stroke="#333" stroke-width="0.72" />
<line x1="602.4" y1="386.2" x2="602.4" y2="389.8" stroke="#222" stroke-width="0.8" />
<line x1="601.4" y1="386.2" x2="603.4" y2="386.2" stroke="#222" stroke-width="0.7" />
<line x1="601.4" y1="389.8" x2="603.4" y2="389.8" stroke="#222" stroke-width="0.7" />
<ellipse cx="602.4" cy="388" rx="2.0" ry="2.3" fill="#c0b0e8" stroke="#333" stroke-width="0.72"/>
<line x1="611.1" y1="386.2" x2="611.1" y2="389.8" stroke="#222" stroke-width="0.8" />
<line x1="610.1" y1="386.2" x2="612.1" y2="386.2" stroke="#222" stroke-width="0.7" />
<line x1="610.1" y1="389.8" x2="612.1" y2="389.8" stroke="#222" stroke-width="0.7" />
<ellipse cx="611.1" cy="388" rx="2.0" ry="2.3" fill="#c0b0e8" stroke="#333" stroke-width="0.72"/>
<rect x="539.8" y="432.4" width="3.8" height="3.8" fill="#ffffff" stroke="#333" stroke-width="0.72" />
<rect x="548.5" y="434.2" width="3.8" height="3.8" fill="#ffffff" stroke="#333" stroke-width="0.72" />
<rect x="557.2" y="434.2" width="3.8" height="3.8" fill="#ffffff" stroke="#333" stroke-width="0.72" />
<rect x="635.2" y="426" width="3.8" height="3.8" fill="#ffffff" stroke="#333" stroke-width="0.72" />
<rect x="635.2" y="429.7" width="3.8" height="3.8" fill="#ffffff" stroke="#333" stroke-width="0.72" />
<rect x="643.9" y="432.4" width="3.8" height="3.8" fill="#ffffff" stroke="#333" stroke-width="0.72" />
<rect x="643.9" y="433.3" width="3.8" height="3.8" fill="#ffffff" stroke="#333" stroke-width="0.72" />
<rect x="537.5" y="342" width="113" height="96.9" fill="none" stroke="#111" stroke-width="1.1" />
<line x1="537.4" y1="438.9" x2="537.4" y2="436.3" stroke="#111" stroke-width="0.9" />
<line x1="550.4" y1="438.9" x2="550.4" y2="437.1" stroke="#111" stroke-width="0.9" />
<line x1="563.4" y1="438.9" x2="563.4" y2="436.3" stroke="#111" stroke-width="0.9" />
<line x1="576.4" y1="438.9" x2="576.4" y2="437.1" stroke="#111" stroke-width="0.9" />
<line x1="589.4" y1="438.9" x2="589.4" y2="436.3" stroke="#111" stroke-width="0.9" />
<line x1="602.4" y1="438.9" x2="602.4" y2="437.1" stroke="#111" stroke-width="0.9" />
<line x1="615.4" y1="438.9" x2="615.4" y2="436.3" stroke="#111" stroke-width="0.9" />
<line x1="628.4" y1="438.9" x2="628.4" y2="437.1" stroke="#111" stroke-width="0.9" />
<line x1="641.4" y1="438.9" x2="641.4" y2="436.3" stroke="#111" stroke-width="0.9" />
<line x1="537.5" y1="437" x2="540.1" y2="437" stroke="#111" stroke-width="0.9" />
<line x1="537.5" y1="427.9" x2="539.3" y2="427.9" stroke="#111" stroke-width="0.9" />
<line x1="537.5" y1="418.8" x2="540.1" y2="418.8" stroke="#111" stroke-width="0.9" />
<line x1="537.5" y1="409.8" x2="539.3" y2="409.8" stroke="#111" stroke-width="0.9" />
<line x1="537.5" y1="400.7" x2="540.1" y2="400.7" stroke="#111" stroke-width="0.9" />
<line x1="537.5" y1="391.6" x2="539.3" y2="391.6" stroke="#111" stroke-width="0.9" />
<line x1="537.5" y1="382.5" x2="540.1" y2="382.5" stroke="#111" stroke-width="0.9" />
<line x1="537.5" y1="373.4" x2="539.3" y2="373.4" stroke="#111" stroke-width="0.9" />
<line x1="537.5" y1="364.4" x2="540.1" y2="364.4" stroke="#111" stroke-width="0.9" />
<line x1="537.5" y1="355.3" x2="539.3" y2="355.3" stroke="#111" stroke-width="0.9" />
<line x1="537.5" y1="346.2" x2="540.1" y2="346.2" stroke="#111" stroke-width="0.9" />
<text x="537.4" y="448.4" font-size="8.2" font-weight="bold" text-anchor="middle" fill="#000" >0</text>
<text x="563.4" y="448.4" font-size="8.2" font-weight="bold" text-anchor="middle" fill="#000" >3</text>
<text x="589.4" y="448.4" font-size="8.2" font-weight="bold" text-anchor="middle" fill="#000" >6</text>
<text x="615.4" y="448.4" font-size="8.2" font-weight="bold" text-anchor="middle" fill="#000" >9</text>
<text x="641.4" y="448.4" font-size="8.2" font-weight="bold" text-anchor="middle" fill="#000" >12</text>
<text x="534.5" y="440.4" font-size="8.2" font-weight="bold" text-anchor="end" fill="#000" >0.0</text>
<text x="534.5" y="422.2" font-size="8.2" font-weight="bold" text-anchor="end" fill="#000" >0.2</text>
<text x="534.5" y="404.1" font-size="8.2" font-weight="bold" text-anchor="end" fill="#000" >0.4</text>
<text x="534.5" y="385.9" font-size="8.2" font-weight="bold" text-anchor="end" fill="#000" >0.6</text>
<text x="534.5" y="367.8" font-size="8.2" font-weight="bold" text-anchor="end" fill="#000" >0.8</text>
<text x="534.5" y="349.6" font-size="8.2" font-weight="bold" text-anchor="end" fill="#000" >1.0</text>
<text x="593.5" y="456.9" font-size="8.4" font-weight="bold" text-anchor="middle" fill="#000" >Pore Volume</text>
<text x="520.3" y="390" font-size="8.4" font-weight="bold" text-anchor="middle" fill="#000" transform="rotate(-90 520.3 390)" ><tspan font-style="italic">C/C</tspan><tspan font-size="4.5" dy="0.8">0</tspan></text>
<rect x="653.5" y="342" width="11" height="45" fill="url(#g1e)" stroke="#111" stroke-width="1" />
<rect x="653.5" y="394" width="11" height="45" fill="url(#g2e)" stroke="#111" stroke-width="1" />
<text x="662" y="364.4" font-size="8.2" font-weight="bold" text-anchor="middle" fill="#000" transform="rotate(-90 662 364.4)" >PVA-fCB</text>
<text x="662" y="416.3" font-size="8.2" font-weight="bold" text-anchor="middle" fill="#000" transform="rotate(-90 662 416.3)" >NR</text>
<text x="674.6" y="341.9" font-size="7.8" font-weight="bold" text-anchor="end" fill="#000" transform="rotate(-90 674.6 341.9)" >0.0</text>
<text x="674.6" y="387.9" font-size="7.8" font-weight="bold" text-anchor="start" fill="#000" transform="rotate(-90 674.6 387.9)" >4.9</text>
<text x="674.6" y="393.6" font-size="7.8" font-weight="bold" text-anchor="end" fill="#000" transform="rotate(-90 674.6 393.6)" >0.0</text>
<text x="674.6" y="439.8" font-size="7.8" font-weight="bold" text-anchor="start" fill="#000" transform="rotate(-90 674.6 439.8)" >4.9</text>
<text x="684.2" y="389.9" font-size="8.25" font-weight="bold" text-anchor="middle" fill="#000" transform="rotate(-90 684.2 389.9)" >FPOC <tspan font-style="italic">S</tspan><tspan font-size="5" dy="1">n</tspan><tspan dy="-1"> (%)</tspan></text>
<text x="0" y="470.8" font-size="13.5" font-weight="bold" text-anchor="start" fill="#000" >f</text>
<rect x="-0.5" y="476.7" width="27.9" height="97.4" fill="#f8cdcd" stroke="none" stroke-width="1" />
<text x="11" y="525" font-size="9.55" font-weight="bold" text-anchor="middle" fill="#000" transform="rotate(-90 11 525)" >Homogeneously</text>
<text x="22.1" y="525.6" font-size="9.55" font-weight="bold" text-anchor="middle" fill="#000" transform="rotate(-90 22.1 525.6)" >distributed FPOCs</text>
<rect x="31.3" y="477.2" width="24.4" height="97" fill="url(#cg31)" stroke="none" stroke-width="1" />
<rect x="34.9" y="567.7" width="17.2" height="6.5" fill="#efefe9" stroke="none" stroke-width="1" />
<ellipse cx="43.5" cy="567.7" rx="8.6" ry="1.6" fill="#dcdcd4"/>
<rect x="34.9" y="478" width="17.2" height="3.2" fill="#e2e6df" stroke="none" stroke-width="1" />
<path d="M35,480.8 h16.9 v8.6 q0,3.2 -3.2,3.2 h-10.5 q-3.2,0 -3.2,-3.2 z" fill="#6e7d7a"/>
<path d="M39.3,484.5 q4.2,-1.6 8.4,0 v2.2 h-8.4 z" fill="#12a486"/>
<rect x="39.2" y="486.7" width="8.6" height="82.7" fill="url(#tu435)" stroke="none" stroke-width="1" />
<rect x="39.2" y="486.7" width="8.6" height="82.7" fill="#fff" filter="url(#sp24)" opacity="0.45"/>
<rect x="55.7" y="477.2" width="13" height="19.4" fill="#fbe2e2" stroke="none" stroke-width="1" />
<text x="62.4" y="489.5" font-size="7.2" font-weight="bold" text-anchor="middle" fill="#111" >1.3</text>
<rect x="55.7" y="496.6" width="13" height="19.4" fill="#fbe0e0" stroke="none" stroke-width="1" />
<line x1="55.7" y1="496.6" x2="68.7" y2="496.6" stroke="#a0a0a0" stroke-width="0.8" />
<text x="62.4" y="508.9" font-size="7.2" font-weight="bold" text-anchor="middle" fill="#111" >1.5</text>
<rect x="55.7" y="516" width="13" height="19.4" fill="#fad7d7" stroke="none" stroke-width="1" />
<line x1="55.7" y1="516" x2="68.7" y2="516" stroke="#a0a0a0" stroke-width="0.8" />
<text x="62.4" y="528.3" font-size="7.2" font-weight="bold" text-anchor="middle" fill="#111" >2.3</text>
<rect x="55.7" y="535.4" width="13" height="19.4" fill="#fad6d6" stroke="none" stroke-width="1" />
<line x1="55.7" y1="535.4" x2="68.7" y2="535.4" stroke="#a0a0a0" stroke-width="0.8" />
<text x="62.4" y="547.7" font-size="7.2" font-weight="bold" text-anchor="middle" fill="#111" >2.4</text>
<rect x="55.7" y="554.8" width="13" height="19.4" fill="#fad6d6" stroke="none" stroke-width="1" />
<line x1="55.7" y1="554.8" x2="68.7" y2="554.8" stroke="#a0a0a0" stroke-width="0.8" />
<text x="62.4" y="567.1" font-size="7.2" font-weight="bold" text-anchor="middle" fill="#111" >2.4</text>
<line x1="55.7" y1="477.2" x2="55.7" y2="574.2" stroke="#222" stroke-width="1.0" />
<rect x="31.3" y="477.2" width="37.4" height="97" fill="none" stroke="#222" stroke-width="1.1" />
<text x="49.6" y="586.4" font-size="8.7" font-weight="bold" text-anchor="middle" fill="#000" >Low</text>
<rect x="72.3" y="477.2" width="24.4" height="97" fill="url(#cg72)" stroke="none" stroke-width="1" />
<rect x="75.9" y="567.7" width="17.2" height="6.5" fill="#efefe9" stroke="none" stroke-width="1" />
<ellipse cx="84.5" cy="567.7" rx="8.6" ry="1.6" fill="#dcdcd4"/>
<rect x="75.9" y="478" width="17.2" height="3.2" fill="#e2e6df" stroke="none" stroke-width="1" />
<path d="M76,480.8 h16.9 v8.6 q0,3.2 -3.2,3.2 h-10.5 q-3.2,0 -3.2,-3.2 z" fill="#6e7d7a"/>
<path d="M80.3,484.5 q4.2,-1.6 8.4,0 v2.2 h-8.4 z" fill="#12a486"/>
<rect x="80.2" y="486.7" width="8.6" height="82.7" fill="url(#tu845)" stroke="none" stroke-width="1" />
<rect x="80.2" y="486.7" width="8.6" height="82.7" fill="#fff" filter="url(#sp24)" opacity="0.45"/>
<rect x="96.7" y="477.2" width="13.5" height="19.4" fill="#f7c4c4" stroke="none" stroke-width="1" />
<text x="103.7" y="489.5" font-size="7.2" font-weight="bold" text-anchor="middle" fill="#111" >4.1</text>
<rect x="96.7" y="496.6" width="13.5" height="19.4" fill="#f6b9b9" stroke="none" stroke-width="1" />
<line x1="96.7" y1="496.6" x2="110.2" y2="496.6" stroke="#a0a0a0" stroke-width="0.8" />
<text x="103.7" y="508.9" font-size="7.2" font-weight="bold" text-anchor="middle" fill="#111" >5.2</text>
<rect x="96.7" y="516" width="13.5" height="19.4" fill="#f5b0b0" stroke="none" stroke-width="1" />
<line x1="96.7" y1="516" x2="110.2" y2="516" stroke="#a0a0a0" stroke-width="0.8" />
<text x="103.7" y="528.3" font-size="7.2" font-weight="bold" text-anchor="middle" fill="#111" >6.0</text>
<rect x="96.7" y="535.4" width="13.5" height="19.4" fill="#f2a0a0" stroke="none" stroke-width="1" />
<line x1="96.7" y1="535.4" x2="110.2" y2="535.4" stroke="#a0a0a0" stroke-width="0.8" />
<text x="103.7" y="547.7" font-size="7.2" font-weight="bold" text-anchor="middle" fill="#111" >7.5</text>
<rect x="96.7" y="554.8" width="13.5" height="19.4" fill="#f5b5b5" stroke="none" stroke-width="1" />
<line x1="96.7" y1="554.8" x2="110.2" y2="554.8" stroke="#a0a0a0" stroke-width="0.8" />
<text x="103.7" y="567.1" font-size="7.2" font-weight="bold" text-anchor="middle" fill="#111" >5.5</text>
<line x1="96.7" y1="477.2" x2="96.7" y2="574.2" stroke="#222" stroke-width="1.0" />
<rect x="72.3" y="477.2" width="37.9" height="97" fill="none" stroke="#222" stroke-width="1.1" />
<text x="90.8" y="586.4" font-size="8.7" font-weight="bold" text-anchor="middle" fill="#000" >Medium</text>
<rect x="113.2" y="477.2" width="24.1" height="97" fill="url(#cg113)" stroke="none" stroke-width="1" />
<rect x="116.7" y="567.7" width="17.2" height="6.5" fill="#efefe9" stroke="none" stroke-width="1" />
<ellipse cx="125.2" cy="567.7" rx="8.6" ry="1.6" fill="#dcdcd4"/>
<rect x="116.7" y="478" width="17.2" height="3.2" fill="#e2e6df" stroke="none" stroke-width="1" />
<path d="M116.8,480.8 h16.9 v8.6 q0,3.2 -3.2,3.2 h-10.5 q-3.2,0 -3.2,-3.2 z" fill="#6e7d7a"/>
<path d="M121,484.5 q4.2,-1.6 8.4,0 v2.2 h-8.4 z" fill="#12a486"/>
<rect x="121" y="486.7" width="8.6" height="82.7" fill="url(#tu1252)" stroke="none" stroke-width="1" />
<rect x="121" y="486.7" width="8.6" height="82.7" fill="#fff" filter="url(#sp24)" opacity="0.45"/>
<rect x="137.3" y="477.2" width="13.3" height="19.4" fill="#f19797" stroke="none" stroke-width="1" />
<text x="144.1" y="489.5" font-size="7.2" font-weight="bold" text-anchor="middle" fill="#111" >8.3</text>
<rect x="137.3" y="496.6" width="13.3" height="19.4" fill="#f19292" stroke="none" stroke-width="1" />
<line x1="137.3" y1="496.6" x2="150.6" y2="496.6" stroke="#a0a0a0" stroke-width="0.8" />
<text x="144.1" y="508.9" font-size="7.2" font-weight="bold" text-anchor="middle" fill="#111" >8.8</text>
<rect x="137.3" y="516" width="13.3" height="19.4" fill="#eb6363" stroke="none" stroke-width="1" />
<line x1="137.3" y1="516" x2="150.6" y2="516" stroke="#a0a0a0" stroke-width="0.8" />
<text x="144.1" y="528.3" font-size="7.2" font-weight="bold" text-anchor="middle" fill="#111" >13.2</text>
<rect x="137.3" y="535.4" width="13.3" height="19.4" fill="#ee7d7d" stroke="none" stroke-width="1" />
<line x1="137.3" y1="535.4" x2="150.6" y2="535.4" stroke="#a0a0a0" stroke-width="0.8" />
<text x="144.1" y="547.7" font-size="7.2" font-weight="bold" text-anchor="middle" fill="#111" >10.8</text>
<rect x="137.3" y="554.8" width="13.3" height="19.4" fill="#e85151" stroke="none" stroke-width="1" />
<line x1="137.3" y1="554.8" x2="150.6" y2="554.8" stroke="#a0a0a0" stroke-width="0.8" />
<text x="144.1" y="567.1" font-size="7.2" font-weight="bold" text-anchor="middle" fill="#111" >14.9</text>
<line x1="137.3" y1="477.2" x2="137.3" y2="574.2" stroke="#222" stroke-width="1.0" />
<rect x="113.2" y="477.2" width="37.4" height="97" fill="none" stroke="#222" stroke-width="1.1" />
<text x="131.5" y="586.4" font-size="8.7" font-weight="bold" text-anchor="middle" fill="#000" >High</text>
<text x="353.2" y="470.8" font-size="13.5" font-weight="bold" text-anchor="start" fill="#000" >g</text>
<rect x="353.7" y="476.7" width="27.5" height="97.4" fill="#f6d2b8" stroke="none" stroke-width="1" />
<text x="364.7" y="525" font-size="9.55" font-weight="bold" text-anchor="middle" fill="#000" transform="rotate(-90 364.7 525)" >Heterogeneously</text>
<text x="375.8" y="525.6" font-size="9.55" font-weight="bold" text-anchor="middle" fill="#000" transform="rotate(-90 375.8 525.6)" >distributed FPOCs</text>
<rect x="385.3" y="477.2" width="24.1" height="97" fill="url(#cg385)" stroke="none" stroke-width="1" />
<rect x="388.8" y="567.7" width="17.2" height="6.5" fill="#efefe9" stroke="none" stroke-width="1" />
<ellipse cx="397.4" cy="567.7" rx="8.6" ry="1.6" fill="#dcdcd4"/>
<rect x="388.8" y="478" width="17.2" height="5" fill="#e6eae3" stroke="none" stroke-width="1" />
<path d="M389.5,482.8 h15.8 v6.0 q0,2.7 -2.7,2.7 h-10.4 q-2.7,0 -2.7,-2.7 z" fill="#8ea9a5"/>
<path d="M393.2,486.6 q4.1,-1.6 8.2,0 v2.1 h-8.2 z" fill="#12a080"/>
<rect x="393.1" y="488.7" width="8.6" height="80.7" fill="url(#tg3973)" stroke="none" stroke-width="1" />
<rect x="393.1" y="488.7" width="8.6" height="80.7" fill="url(#th3973)" stroke="none" stroke-width="1" />
<rect x="393.1" y="488.7" width="8.6" height="80.7" fill="#fff" filter="url(#sp25)" opacity="0.4"/>
<rect x="409.4" y="477.2" width="13.3" height="19.4" fill="#fff5ee" stroke="none" stroke-width="1" />
<text x="416.2" y="489.5" font-size="7.2" font-weight="bold" text-anchor="middle" fill="#111" >0.1</text>
<rect x="409.4" y="496.6" width="13.3" height="19.4" fill="#fff5ee" stroke="none" stroke-width="1" />
<line x1="409.4" y1="496.6" x2="422.7" y2="496.6" stroke="#a0a0a0" stroke-width="0.8" />
<text x="416.2" y="508.9" font-size="7.2" font-weight="bold" text-anchor="middle" fill="#111" >0.1</text>
<rect x="409.4" y="516" width="13.3" height="19.4" fill="#fef0e6" stroke="none" stroke-width="1" />
<line x1="409.4" y1="516" x2="422.7" y2="516" stroke="#a0a0a0" stroke-width="0.8" />
<text x="416.2" y="528.3" font-size="7.2" font-weight="bold" text-anchor="middle" fill="#111" >0.7</text>
<rect x="409.4" y="535.4" width="13.3" height="19.4" fill="#fadeca" stroke="none" stroke-width="1" />
<line x1="409.4" y1="535.4" x2="422.7" y2="535.4" stroke="#a0a0a0" stroke-width="0.8" />
<text x="416.2" y="547.7" font-size="7.2" font-weight="bold" text-anchor="middle" fill="#111" >3.0</text>
<rect x="409.4" y="554.8" width="13.3" height="19.4" fill="#f1b992" stroke="none" stroke-width="1" />
<line x1="409.4" y1="554.8" x2="422.7" y2="554.8" stroke="#a0a0a0" stroke-width="0.8" />
<text x="416.2" y="567.1" font-size="7.2" font-weight="bold" text-anchor="middle" fill="#111" >7.5</text>
<line x1="409.4" y1="477.2" x2="409.4" y2="574.2" stroke="#222" stroke-width="1.0" />
<rect x="385.3" y="477.2" width="37.4" height="97" fill="none" stroke="#222" stroke-width="1.1" />
<text x="403.6" y="586.4" font-size="8.7" font-weight="bold" text-anchor="middle" fill="#000" >Low</text>
<rect x="425.5" y="477.2" width="24.7" height="97" fill="url(#cg425)" stroke="none" stroke-width="1" />
<rect x="429.2" y="567.7" width="17.2" height="6.5" fill="#efefe9" stroke="none" stroke-width="1" />
<ellipse cx="437.9" cy="567.7" rx="8.6" ry="1.6" fill="#dcdcd4"/>
<rect x="429.2" y="478" width="17.2" height="5" fill="#e6eae3" stroke="none" stroke-width="1" />
<path d="M430,482.8 h15.8 v6.0 q0,2.7 -2.7,2.7 h-10.4 q-2.7,0 -2.7,-2.7 z" fill="#8ea9a5"/>
<path d="M433.8,486.6 q4.1,-1.6 8.2,0 v2.1 h-8.2 z" fill="#12a080"/>
<rect x="433.6" y="488.7" width="8.6" height="80.7" fill="url(#tg4378)" stroke="none" stroke-width="1" />
<rect x="433.6" y="488.7" width="8.6" height="80.7" fill="url(#th4378)" stroke="none" stroke-width="1" />
<rect x="433.6" y="488.7" width="8.6" height="80.7" fill="#fff" filter="url(#sp25)" opacity="0.4"/>
<rect x="450.2" y="477.2" width="13.3" height="19.4" fill="#fce9db" stroke="none" stroke-width="1" />
<text x="457.1" y="489.5" font-size="7.2" font-weight="bold" text-anchor="middle" fill="#111" >1.6</text>
<rect x="450.2" y="496.6" width="13.3" height="19.4" fill="#fbe6d6" stroke="none" stroke-width="1" />
<line x1="450.2" y1="496.6" x2="463.5" y2="496.6" stroke="#a0a0a0" stroke-width="0.8" />
<text x="457.1" y="508.9" font-size="7.2" font-weight="bold" text-anchor="middle" fill="#111" >2.0</text>
<rect x="450.2" y="516" width="13.3" height="19.4" fill="#f6d0b5" stroke="none" stroke-width="1" />
<line x1="450.2" y1="516" x2="463.5" y2="516" stroke="#a0a0a0" stroke-width="0.8" />
<text x="457.1" y="528.3" font-size="7.2" font-weight="bold" text-anchor="middle" fill="#111" >4.7</text>
<rect x="450.2" y="535.4" width="13.3" height="19.4" fill="#e68643" stroke="none" stroke-width="1" />
<line x1="450.2" y1="535.4" x2="463.5" y2="535.4" stroke="#a0a0a0" stroke-width="0.8" />
<text x="457.1" y="547.7" font-size="7.2" font-weight="bold" text-anchor="middle" fill="#111" >13.8</text>
<rect x="450.2" y="554.8" width="13.3" height="19.4" fill="#e88d4f" stroke="none" stroke-width="1" />
<line x1="450.2" y1="554.8" x2="463.5" y2="554.8" stroke="#a0a0a0" stroke-width="0.8" />
<text x="457.1" y="567.1" font-size="7.2" font-weight="bold" text-anchor="middle" fill="#111" >12.9</text>
<line x1="450.2" y1="477.2" x2="450.2" y2="574.2" stroke="#222" stroke-width="1.0" />
<rect x="425.5" y="477.2" width="38" height="97" fill="none" stroke="#222" stroke-width="1.1" />
<text x="444.1" y="586.4" font-size="8.7" font-weight="bold" text-anchor="middle" fill="#000" >Medium</text>
<rect x="466.3" y="477.2" width="24.3" height="97" fill="url(#cg466)" stroke="none" stroke-width="1" />
<rect x="469.9" y="567.7" width="17.2" height="6.5" fill="#efefe9" stroke="none" stroke-width="1" />
<ellipse cx="478.5" cy="567.7" rx="8.6" ry="1.6" fill="#dcdcd4"/>
<rect x="469.9" y="478" width="17.2" height="5" fill="#e6eae3" stroke="none" stroke-width="1" />
<path d="M470.6,482.8 h15.8 v6.0 q0,2.7 -2.7,2.7 h-10.4 q-2.7,0 -2.7,-2.7 z" fill="#8ea9a5"/>
<path d="M474.4,486.6 q4.1,-1.6 8.2,0 v2.1 h-8.2 z" fill="#12a080"/>
<rect x="474.2" y="488.7" width="8.6" height="80.7" fill="url(#tg4784)" stroke="none" stroke-width="1" />
<rect x="474.2" y="488.7" width="8.6" height="80.7" fill="url(#th4784)" stroke="none" stroke-width="1" />
<rect x="474.2" y="488.7" width="8.6" height="80.7" fill="#fff" filter="url(#sp25)" opacity="0.4"/>
<rect x="490.6" y="477.2" width="13.7" height="19.4" fill="#f9dac3" stroke="none" stroke-width="1" />
<text x="497.7" y="489.5" font-size="7.2" font-weight="bold" text-anchor="middle" fill="#111" >3.5</text>
<rect x="490.6" y="496.6" width="13.7" height="19.4" fill="#f7d4bb" stroke="none" stroke-width="1" />
<line x1="490.6" y1="496.6" x2="504.3" y2="496.6" stroke="#a0a0a0" stroke-width="0.8" />
<text x="497.7" y="508.9" font-size="7.2" font-weight="bold" text-anchor="middle" fill="#111" >4.2</text>
<rect x="490.6" y="516" width="13.7" height="19.4" fill="#e78a4a" stroke="none" stroke-width="1" />
<line x1="490.6" y1="516" x2="504.3" y2="516" stroke="#a0a0a0" stroke-width="0.8" />
<text x="497.7" y="528.3" font-size="7.2" font-weight="bold" text-anchor="middle" fill="#111" >13.3</text>
<rect x="490.6" y="535.4" width="13.7" height="19.4" fill="#e27428" stroke="none" stroke-width="1" />
<line x1="490.6" y1="535.4" x2="504.3" y2="535.4" stroke="#a0a0a0" stroke-width="0.8" />
<text x="497.7" y="547.7" font-size="7.2" font-weight="bold" text-anchor="middle" fill="#111" >17.6</text>
<rect x="490.6" y="554.8" width="13.7" height="19.4" fill="#e27428" stroke="none" stroke-width="1" />
<line x1="490.6" y1="554.8" x2="504.3" y2="554.8" stroke="#a0a0a0" stroke-width="0.8" />
<text x="497.7" y="567.1" font-size="7.2" font-weight="bold" text-anchor="middle" fill="#111" >18.4</text>
<line x1="490.6" y1="477.2" x2="490.6" y2="574.2" stroke="#222" stroke-width="1.0" />
<rect x="466.3" y="477.2" width="38" height="97" fill="none" stroke="#222" stroke-width="1.1" />
<text x="484.9" y="586.4" font-size="8.7" font-weight="bold" text-anchor="middle" fill="#000" >High</text>
<polyline points="183.4,572 184.3,572 185.1,572 186,572 186.9,572 187.7,572 188.6,571.9 189.5,571.7 190.3,571 191.2,568.9 192.1,563.3 192.9,550 193.8,527.5 194.7,504.9 195.5,491.3 196.4,485.5 197.3,483.4 198.1,482.6 199,482.3 199.9,482.2 200.7,482.2 201.6,482.2 202.5,482.1 203.3,482.1 204.2,482.1 205.1,482.1 205.9,482.1 206.8,482.1 207.7,482.1 208.5,482.1 209.4,482.1 210.3,482.1 211.1,482.1 212,482.1 212.9,482.1 213.7,482.1 214.6,482.1 215.5,482.1 216.3,482.1 217.2,482.1 218.1,482.1 218.9,482.1 219.8,482.1 220.7,482.1 221.5,482.1 222.4,482.1 223.3,482.1 224.1,482.1 225,482.1 225.9,482.1 226.8,482.1 227.6,482.1 228.5,482.1 229.4,482.1 230.2,482.1 231.1,482.1 232,482.1 232.8,482.1 233.7,482.1 234.6,482.1 235.4,482.1 236.3,482.1 237.2,482.1 238,482.1 238.9,482.1 239.8,482.1 240.6,482.1 241.5,482.1 242.4,482.1 243.2,482.1 244.1,482.1 245,482.1 245.8,482.1 246.7,482.1 247.6,482.1 248.4,482.1 249.3,482.1 250.2,482.1 251,482.1 251.9,482.1 252.8,482.1 253.6,482.1 254.5,482.1 255.4,482.1 256.2,482.1 257.1,482.1 258,482.1 258.8,482.1 259.7,482.1 260.6,482.1 261.4,482.1 262.3,482.1 263.2,482.1 264,482.1 264.9,482.1 265.8,482.1 266.6,482.1 267.5,482.1 268.4,482.1 269.2,482.1 270.1,482.1 271,482.2 271.8,482.2 272.7,482.3 273.6,482.5 274.4,482.9 275.3,483.7 276.2,485.2 277,487.9 277.9,492.8 278.8,500.9 279.6,512.6 280.5,527.1 281.4,541.5 282.2,553.2 283.1,561.3 284,566.2 284.8,568.9 285.7,570.4 286.6,571.2 287.4,571.6 288.3,571.8 289.2,571.9 290,571.9 290.9,572 291.8,572 292.6,572 293.5,572 294.4,572 295.2,572 296.1,572" fill="none" stroke="#444" stroke-width="0.9" stroke-linejoin="round"/>
<polyline points="183.4,572 184.3,572 185.1,572 186,572 186.9,572 187.7,572 188.6,571.9 189.5,571.7 190.3,571.2 191.2,569.5 192.1,564.9 192.9,553.3 193.8,532.2 194.7,508.5 195.5,493 196.4,486.1 197.3,483.5 198.1,482.6 199,482.3 199.9,482.2 200.7,482.2 201.6,482.1 202.5,482.1 203.3,482.1 204.2,482.1 205.1,482.1 205.9,482.1 206.8,482.1 207.7,482.1 208.5,482.1 209.4,482.1 210.3,482.1 211.1,482.1 212,482.1 212.9,482.1 213.7,482.1 214.6,482.1 215.5,482.1 216.3,482.1 217.2,482.1 218.1,482.1 218.9,482.1 219.8,482.1 220.7,482.1 221.5,482.1 222.4,482.1 223.3,482.1 224.1,482.1 225,482.1 225.9,482.1 226.8,482.1 227.6,482.1 228.5,482.1 229.4,482.1 230.2,482.1 231.1,482.1 232,482.1 232.8,482.1 233.7,482.1 234.6,482.1 235.4,482.1 236.3,482.1 237.2,482.1 238,482.1 238.9,482.1 239.8,482.1 240.6,482.1 241.5,482.1 242.4,482.1 243.2,482.1 244.1,482.1 245,482.1 245.8,482.1 246.7,482.1 247.6,482.1 248.4,482.1 249.3,482.1 250.2,482.1 251,482.1 251.9,482.1 252.8,482.1 253.6,482.1 254.5,482.1 255.4,482.1 256.2,482.1 257.1,482.1 258,482.1 258.8,482.1 259.7,482.1 260.6,482.1 261.4,482.1 262.3,482.1 263.2,482.1 264,482.1 264.9,482.1 265.8,482.1 266.6,482.1 267.5,482.1 268.4,482.1 269.2,482.1 270.1,482.1 271,482.2 271.8,482.2 272.7,482.3 273.6,482.5 274.4,482.9 275.3,483.7 276.2,485.2 277,487.9 277.9,492.8 278.8,500.9 279.6,512.6 280.5,527.1 281.4,541.5 282.2,553.2 283.1,561.3 284,566.2 284.8,568.9 285.7,570.4 286.6,571.2 287.4,571.6 288.3,571.8 289.2,571.9 290,571.9 290.9,572 291.8,572 292.6,572 293.5,572 294.4,572 295.2,572 296.1,572" fill="none" stroke="#aaa" stroke-width="0.9" stroke-linejoin="round"/>
<polyline points="183.4,572 184.3,572 185.1,572 186,572 186.9,572 187.7,571.9 188.6,571.8 189.5,571.6 190.3,571.1 191.2,569.9 192.1,567.5 192.9,562.9 193.8,555.8 194.7,547.2 195.5,539.7 196.4,534.6 197.3,531.7 198.1,530 199,529 199.9,528.3 200.7,527.7 201.6,527.2 202.5,526.7 203.3,526.2 204.2,525.7 205.1,525.3 205.9,524.8 206.8,524.3 207.7,523.8 208.5,523.4 209.4,522.9 210.3,522.4 211.1,522 212,521.5 212.9,521 213.7,520.5 214.6,520.1 215.5,519.6 216.3,519.1 217.2,518.7 218.1,518.2 218.9,517.7 219.8,517.2 220.7,516.8 221.5,516.3 222.4,515.8 223.3,515.4 224.1,514.9 225,514.4 225.9,513.9 226.8,513.5 227.6,513 228.5,512.5 229.4,512.1 230.2,511.6 231.1,511.1 232,510.6 232.8,510.2 233.7,509.7 234.6,509.2 235.4,508.8 236.3,508.3 237.2,507.8 238,507.3 238.9,506.9 239.8,506.4 240.6,505.9 241.5,505.5 242.4,505 243.2,504.5 244.1,504 245,503.6 245.8,503.1 246.7,502.6 247.6,502.2 248.4,501.7 249.3,501.2 250.2,500.7 251,500.3 251.9,499.8 252.8,499.3 253.6,498.9 254.5,498.4 255.4,497.9 256.2,497.5 257.1,497 258,496.5 258.8,496 259.7,495.6 260.6,495.1 261.4,494.6 262.3,494.2 263.2,493.7 264,493.2 264.9,492.7 265.8,492.3 266.6,491.8 267.5,491.3 268.4,490.9 269.2,490.4 270.1,489.9 271,489.5 271.8,489.1 272.7,488.7 273.6,488.4 274.4,488.3 275.3,488.6 276.2,489.6 277,491.7 277.9,496 278.8,503.3 279.6,514.3 280.5,528.1 281.4,542.1 282.2,553.5 283.1,561.4 284,566.2 284.8,568.9 285.7,570.4 286.6,571.2 287.4,571.6 288.3,571.8 289.2,571.9 290,571.9 290.9,572 291.8,572 292.6,572 293.5,572 294.4,572 295.2,572 296.1,572" fill="none" stroke="#f4b8b8" stroke-width="0.9" stroke-linejoin="round"/>
<polyline points="183.4,572 184.3,572 185.1,572 186,572 186.9,572 187.7,571.9 188.6,571.8 189.5,571.6 190.3,571.1 191.2,570 192.1,567.8 192.9,563.5 193.8,556.8 194.7,548.9 195.5,542 196.4,537.5 197.3,534.9 198.1,533.5 199,532.7 199.9,532.2 200.7,531.8 201.6,531.5 202.5,531.2 203.3,530.9 204.2,530.6 205.1,530.3 205.9,530 206.8,529.7 207.7,529.5 208.5,529.2 209.4,528.9 210.3,528.6 211.1,528.3 212,528 212.9,527.7 213.7,527.5 214.6,527.2 215.5,526.9 216.3,526.6 217.2,526.3 218.1,526 218.9,525.8 219.8,525.5 220.7,525.2 221.5,524.9 222.4,524.6 223.3,524.3 224.1,524 225,523.8 225.9,523.5 226.8,523.2 227.6,522.9 228.5,522.6 229.4,522.3 230.2,522.1 231.1,521.8 232,521.5 232.8,521.2 233.7,520.9 234.6,520.6 235.4,520.3 236.3,520.1 237.2,519.8 238,519.5 238.9,519.2 239.8,518.9 240.6,518.6 241.5,518.3 242.4,518.1 243.2,517.8 244.1,517.5 245,517.2 245.8,516.9 246.7,516.6 247.6,516.4 248.4,516.1 249.3,515.8 250.2,515.5 251,515.2 251.9,514.9 252.8,514.6 253.6,514.4 254.5,514.1 255.4,513.8 256.2,513.5 257.1,513.2 258,512.9 258.8,512.7 259.7,512.4 260.6,512.1 261.4,511.8 262.3,511.5 263.2,511.2 264,510.9 264.9,510.7 265.8,510.4 266.6,510.1 267.5,509.8 268.4,509.5 269.2,509.3 270.1,509 271,508.7 271.8,508.5 272.7,508.3 273.6,508.1 274.4,508.1 275.3,508.4 276.2,509.2 277,510.9 277.9,514.2 278.8,519.9 279.6,528.3 280.5,538.8 281.4,549.4 282.2,558 283.1,564 284,567.6 284.8,569.7 285.7,570.8 286.6,571.4 287.4,571.7 288.3,571.8 289.2,571.9 290,572 290.9,572 291.8,572 292.6,572 293.5,572 294.4,572 295.2,572 296.1,572" fill="none" stroke="#ee8080" stroke-width="0.9" stroke-linejoin="round"/>
<polyline points="183.4,572 184.3,572 185.1,572 186,572 186.9,572 187.7,571.9 188.6,571.9 189.5,571.7 190.3,571.2 191.2,570.3 192.1,568.4 192.9,564.7 193.8,559 194.7,552.2 195.5,546.4 196.4,542.6 197.3,540.4 198.1,539.3 199,538.7 199.9,538.4 200.7,538.1 201.6,537.9 202.5,537.7 203.3,537.6 204.2,537.4 205.1,537.2 205.9,537.1 206.8,536.9 207.7,536.7 208.5,536.6 209.4,536.4 210.3,536.2 211.1,536.1 212,535.9 212.9,535.7 213.7,535.6 214.6,535.4 215.5,535.2 216.3,535.1 217.2,534.9 218.1,534.7 218.9,534.6 219.8,534.4 220.7,534.2 221.5,534.1 222.4,533.9 223.3,533.7 224.1,533.6 225,533.4 225.9,533.2 226.8,533.1 227.6,532.9 228.5,532.7 229.4,532.6 230.2,532.4 231.1,532.2 232,532.1 232.8,531.9 233.7,531.7 234.6,531.6 235.4,531.4 236.3,531.2 237.2,531.1 238,530.9 238.9,530.7 239.8,530.6 240.6,530.4 241.5,530.2 242.4,530.1 243.2,529.9 244.1,529.7 245,529.5 245.8,529.4 246.7,529.2 247.6,529 248.4,528.9 249.3,528.7 250.2,528.5 251,528.4 251.9,528.2 252.8,528 253.6,527.9 254.5,527.7 255.4,527.5 256.2,527.4 257.1,527.2 258,527 258.8,526.9 259.7,526.7 260.6,526.5 261.4,526.4 262.3,526.2 263.2,526 264,525.9 264.9,525.7 265.8,525.5 266.6,525.4 267.5,525.2 268.4,525 269.2,524.9 270.1,524.7 271,524.6 271.8,524.4 272.7,524.3 273.6,524.3 274.4,524.3 275.3,524.6 276.2,525.2 277,526.5 277.9,529 278.8,533.3 279.6,539.5 280.5,547.4 281.4,555.2 282.2,561.6 283.1,566.1 284,568.8 284.8,570.3 285.7,571.1 286.6,571.5 287.4,571.8 288.3,571.9 289.2,571.9 290,572 290.9,572 291.8,572 292.6,572 293.5,572 294.4,572 295.2,572 296.1,572" fill="none" stroke="#e04848" stroke-width="0.9" stroke-linejoin="round"/>
<rect x="194.5" y="488.4" width="3.8" height="3.8" fill="#ffffff" stroke="#333" stroke-width="0.72" />
<rect x="203.2" y="481.1" width="3.8" height="3.8" fill="#ffffff" stroke="#333" stroke-width="0.72" />
<rect x="211.8" y="480.2" width="3.8" height="3.8" fill="#ffffff" stroke="#333" stroke-width="0.72" />
<rect x="220.5" y="480.2" width="3.8" height="3.8" fill="#ffffff" stroke="#333" stroke-width="0.72" />
<rect x="229.2" y="480.2" width="3.8" height="3.8" fill="#ffffff" stroke="#333" stroke-width="0.72" />
<rect x="237.9" y="480.2" width="3.8" height="3.8" fill="#ffffff" stroke="#333" stroke-width="0.72" />
<rect x="246.5" y="480.2" width="3.8" height="3.8" fill="#ffffff" stroke="#333" stroke-width="0.72" />
<rect x="255.2" y="480.2" width="3.8" height="3.8" fill="#ffffff" stroke="#333" stroke-width="0.72" />
<rect x="263.9" y="481.1" width="3.8" height="3.8" fill="#ffffff" stroke="#333" stroke-width="0.72" />
<rect x="272.5" y="480.2" width="3.8" height="3.8" fill="#ffffff" stroke="#333" stroke-width="0.72" />
<rect x="194.5" y="497.5" width="3.8" height="3.8" fill="#9a9a9a" stroke="#333" stroke-width="0.72" />
<rect x="203.2" y="482" width="3.8" height="3.8" fill="#9a9a9a" stroke="#333" stroke-width="0.72" />
<rect x="211.8" y="481.1" width="3.8" height="3.8" fill="#9a9a9a" stroke="#333" stroke-width="0.72" />
<rect x="220.5" y="481.1" width="3.8" height="3.8" fill="#9a9a9a" stroke="#333" stroke-width="0.72" />
<rect x="229.2" y="481.1" width="3.8" height="3.8" fill="#9a9a9a" stroke="#333" stroke-width="0.72" />
<rect x="237.9" y="481.1" width="3.8" height="3.8" fill="#9a9a9a" stroke="#333" stroke-width="0.72" />
<rect x="246.5" y="481.1" width="3.8" height="3.8" fill="#9a9a9a" stroke="#333" stroke-width="0.72" />
<rect x="255.2" y="481.1" width="3.8" height="3.8" fill="#9a9a9a" stroke="#333" stroke-width="0.72" />
<rect x="263.9" y="482" width="3.8" height="3.8" fill="#9a9a9a" stroke="#333" stroke-width="0.72" />
<rect x="272.5" y="482" width="3.8" height="3.8" fill="#9a9a9a" stroke="#333" stroke-width="0.72" />
<line x1="196.4" y1="533.1" x2="196.4" y2="540" stroke="#222" stroke-width="0.8" />
<line x1="195.4" y1="533.1" x2="197.4" y2="533.1" stroke="#222" stroke-width="0.7" />
<line x1="195.4" y1="540" x2="197.4" y2="540" stroke="#222" stroke-width="0.7" />
<polygon points="196.4,534.1 198.9,536.6 196.4,539 194,536.6" fill="#fbe0e0" stroke="#333" stroke-width="0.72" />
<line x1="205.1" y1="512.3" x2="205.1" y2="519.2" stroke="#222" stroke-width="0.8" />
<line x1="204.1" y1="512.3" x2="206.1" y2="512.3" stroke="#222" stroke-width="0.7" />
<line x1="204.1" y1="519.2" x2="206.1" y2="519.2" stroke="#222" stroke-width="0.7" />
<polygon points="205.1,513.3 207.5,515.7 205.1,518.2 202.6,515.7" fill="#fbe0e0" stroke="#333" stroke-width="0.72" />
<line x1="213.7" y1="505.9" x2="213.7" y2="512.8" stroke="#222" stroke-width="0.8" />
<line x1="212.7" y1="505.9" x2="214.7" y2="505.9" stroke="#222" stroke-width="0.7" />
<line x1="212.7" y1="512.8" x2="214.7" y2="512.8" stroke="#222" stroke-width="0.7" />
<polygon points="213.7,506.9 216.2,509.3 213.7,511.8 211.3,509.3" fill="#fbe0e0" stroke="#333" stroke-width="0.72" />
<line x1="222.4" y1="502.3" x2="222.4" y2="509.2" stroke="#222" stroke-width="0.8" />
<line x1="221.4" y1="502.3" x2="223.4" y2="502.3" stroke="#222" stroke-width="0.7" />
<line x1="221.4" y1="509.2" x2="223.4" y2="509.2" stroke="#222" stroke-width="0.7" />
<polygon points="222.4,503.3 224.9,505.7 222.4,508.2 220,505.7" fill="#fbe0e0" stroke="#333" stroke-width="0.72" />
<line x1="231.1" y1="498.6" x2="231.1" y2="505.5" stroke="#222" stroke-width="0.8" />
<line x1="230.1" y1="498.6" x2="232.1" y2="498.6" stroke="#222" stroke-width="0.7" />
<line x1="230.1" y1="505.5" x2="232.1" y2="505.5" stroke="#222" stroke-width="0.7" />
<polygon points="231.1,499.6 233.5,502.1 231.1,504.5 228.6,502.1" fill="#fbe0e0" stroke="#333" stroke-width="0.72" />
<line x1="239.8" y1="495" x2="239.8" y2="501.9" stroke="#222" stroke-width="0.8" />
<line x1="238.8" y1="495" x2="240.8" y2="495" stroke="#222" stroke-width="0.7" />
<line x1="238.8" y1="501.9" x2="240.8" y2="501.9" stroke="#222" stroke-width="0.7" />
<polygon points="239.8,496 242.2,498.5 239.8,500.9 237.3,498.5" fill="#fbe0e0" stroke="#333" stroke-width="0.72" />
<line x1="248.4" y1="493.2" x2="248.4" y2="500.1" stroke="#222" stroke-width="0.8" />
<line x1="247.4" y1="493.2" x2="249.4" y2="493.2" stroke="#222" stroke-width="0.7" />
<line x1="247.4" y1="500.1" x2="249.4" y2="500.1" stroke="#222" stroke-width="0.7" />
<polygon points="248.4,494.2 250.9,496.6 248.4,499.1 246,496.6" fill="#fbe0e0" stroke="#333" stroke-width="0.72" />
<line x1="257.1" y1="490.5" x2="257.1" y2="497.4" stroke="#222" stroke-width="0.8" />
<line x1="256.1" y1="490.5" x2="258.1" y2="490.5" stroke="#222" stroke-width="0.7" />
<line x1="256.1" y1="497.4" x2="258.1" y2="497.4" stroke="#222" stroke-width="0.7" />
<polygon points="257.1,491.5 259.5,493.9 257.1,496.4 254.6,493.9" fill="#fbe0e0" stroke="#333" stroke-width="0.72" />
<line x1="265.8" y1="489.6" x2="265.8" y2="496.5" stroke="#222" stroke-width="0.8" />
<line x1="264.8" y1="489.6" x2="266.8" y2="489.6" stroke="#222" stroke-width="0.7" />
<line x1="264.8" y1="496.5" x2="266.8" y2="496.5" stroke="#222" stroke-width="0.7" />
<polygon points="265.8,490.6 268.2,493 265.8,495.5 263.3,493" fill="#fbe0e0" stroke="#333" stroke-width="0.72" />
<line x1="274.4" y1="487.7" x2="274.4" y2="494.6" stroke="#222" stroke-width="0.8" />
<line x1="273.4" y1="487.7" x2="275.4" y2="487.7" stroke="#222" stroke-width="0.7" />
<line x1="273.4" y1="494.6" x2="275.4" y2="494.6" stroke="#222" stroke-width="0.7" />
<polygon points="274.4,488.7 276.9,491.2 274.4,493.6 272,491.2" fill="#fbe0e0" stroke="#333" stroke-width="0.72" />
<line x1="196.4" y1="542.9" x2="196.4" y2="548.4" stroke="#222" stroke-width="0.8" />
<line x1="195.4" y1="542.9" x2="197.4" y2="542.9" stroke="#222" stroke-width="0.7" />
<line x1="195.4" y1="548.4" x2="197.4" y2="548.4" stroke="#222" stroke-width="0.7" />
<polygon points="196.4,543.2 198.9,545.7 196.4,548.1 194,545.7" fill="#f4a8a8" stroke="#333" stroke-width="0.72" />
<line x1="205.1" y1="524.8" x2="205.1" y2="530.2" stroke="#222" stroke-width="0.8" />
<line x1="204.1" y1="524.8" x2="206.1" y2="524.8" stroke="#222" stroke-width="0.7" />
<line x1="204.1" y1="530.2" x2="206.1" y2="530.2" stroke="#222" stroke-width="0.7" />
<polygon points="205.1,525.1 207.5,527.5 205.1,530 202.6,527.5" fill="#f4a8a8" stroke="#333" stroke-width="0.72" />
<line x1="213.7" y1="520.2" x2="213.7" y2="525.7" stroke="#222" stroke-width="0.8" />
<line x1="212.7" y1="520.2" x2="214.7" y2="520.2" stroke="#222" stroke-width="0.7" />
<line x1="212.7" y1="525.7" x2="214.7" y2="525.7" stroke="#222" stroke-width="0.7" />
<polygon points="213.7,520.5 216.2,523 213.7,525.4 211.3,523" fill="#f4a8a8" stroke="#333" stroke-width="0.72" />
<line x1="222.4" y1="517.5" x2="222.4" y2="523" stroke="#222" stroke-width="0.8" />
<line x1="221.4" y1="517.5" x2="223.4" y2="517.5" stroke="#222" stroke-width="0.7" />
<line x1="221.4" y1="523" x2="223.4" y2="523" stroke="#222" stroke-width="0.7" />
<polygon points="222.4,517.8 224.9,520.2 222.4,522.7 220,520.2" fill="#f4a8a8" stroke="#333" stroke-width="0.72" />
<line x1="231.1" y1="515.7" x2="231.1" y2="521.2" stroke="#222" stroke-width="0.8" />
<line x1="230.1" y1="515.7" x2="232.1" y2="515.7" stroke="#222" stroke-width="0.7" />
<line x1="230.1" y1="521.2" x2="232.1" y2="521.2" stroke="#222" stroke-width="0.7" />
<polygon points="231.1,516 233.5,518.4 231.1,520.9 228.6,518.4" fill="#f4a8a8" stroke="#333" stroke-width="0.72" />
<line x1="239.8" y1="513.9" x2="239.8" y2="519.3" stroke="#222" stroke-width="0.8" />
<line x1="238.8" y1="513.9" x2="240.8" y2="513.9" stroke="#222" stroke-width="0.7" />
<line x1="238.8" y1="519.3" x2="240.8" y2="519.3" stroke="#222" stroke-width="0.7" />
<polygon points="239.8,514.2 242.2,516.6 239.8,519.1 237.3,516.6" fill="#f4a8a8" stroke="#333" stroke-width="0.72" />
<line x1="248.4" y1="513" x2="248.4" y2="518.4" stroke="#222" stroke-width="0.8" />
<line x1="247.4" y1="513" x2="249.4" y2="513" stroke="#222" stroke-width="0.7" />
<line x1="247.4" y1="518.4" x2="249.4" y2="518.4" stroke="#222" stroke-width="0.7" />
<polygon points="248.4,513.3 250.9,515.7 248.4,518.2 246,515.7" fill="#f4a8a8" stroke="#333" stroke-width="0.72" />
<line x1="257.1" y1="511.2" x2="257.1" y2="516.6" stroke="#222" stroke-width="0.8" />
<line x1="256.1" y1="511.2" x2="258.1" y2="511.2" stroke="#222" stroke-width="0.7" />
<line x1="256.1" y1="516.6" x2="258.1" y2="516.6" stroke="#222" stroke-width="0.7" />
<polygon points="257.1,511.4 259.5,513.9 257.1,516.3 254.6,513.9" fill="#f4a8a8" stroke="#333" stroke-width="0.72" />
<line x1="265.8" y1="510.3" x2="265.8" y2="515.7" stroke="#222" stroke-width="0.8" />
<line x1="264.8" y1="510.3" x2="266.8" y2="510.3" stroke="#222" stroke-width="0.7" />
<line x1="264.8" y1="515.7" x2="266.8" y2="515.7" stroke="#222" stroke-width="0.7" />
<polygon points="265.8,510.5 268.2,513 265.8,515.4 263.3,513" fill="#f4a8a8" stroke="#333" stroke-width="0.72" />
<line x1="274.4" y1="509.3" x2="274.4" y2="514.8" stroke="#222" stroke-width="0.8" />
<line x1="273.4" y1="509.3" x2="275.4" y2="509.3" stroke="#222" stroke-width="0.7" />
<line x1="273.4" y1="514.8" x2="275.4" y2="514.8" stroke="#222" stroke-width="0.7" />
<polygon points="274.4,509.6 276.9,512.1 274.4,514.5 272,512.1" fill="#f4a8a8" stroke="#333" stroke-width="0.72" />
<line x1="196.4" y1="543.1" x2="196.4" y2="550" stroke="#222" stroke-width="0.8" />
<line x1="195.4" y1="543.1" x2="197.4" y2="543.1" stroke="#222" stroke-width="0.7" />
<line x1="195.4" y1="550" x2="197.4" y2="550" stroke="#222" stroke-width="0.7" />
<polygon points="196.4,544.1 198.9,546.6 196.4,549 194,546.6" fill="#e05858" stroke="#333" stroke-width="0.72" />
<line x1="205.1" y1="534" x2="205.1" y2="540.9" stroke="#222" stroke-width="0.8" />
<line x1="204.1" y1="534" x2="206.1" y2="534" stroke="#222" stroke-width="0.7" />
<line x1="204.1" y1="540.9" x2="206.1" y2="540.9" stroke="#222" stroke-width="0.7" />
<polygon points="205.1,535 207.5,537.5 205.1,539.9 202.6,537.5" fill="#e05858" stroke="#333" stroke-width="0.72" />
<line x1="213.7" y1="531.3" x2="213.7" y2="538.2" stroke="#222" stroke-width="0.8" />
<line x1="212.7" y1="531.3" x2="214.7" y2="531.3" stroke="#222" stroke-width="0.7" />
<line x1="212.7" y1="538.2" x2="214.7" y2="538.2" stroke="#222" stroke-width="0.7" />
<polygon points="213.7,532.3 216.2,534.8 213.7,537.2 211.3,534.8" fill="#e05858" stroke="#333" stroke-width="0.72" />
<line x1="222.4" y1="529.5" x2="222.4" y2="536.4" stroke="#222" stroke-width="0.8" />
<line x1="221.4" y1="529.5" x2="223.4" y2="529.5" stroke="#222" stroke-width="0.7" />
<line x1="221.4" y1="536.4" x2="223.4" y2="536.4" stroke="#222" stroke-width="0.7" />
<polygon points="222.4,530.5 224.9,533 222.4,535.4 220,533" fill="#e05858" stroke="#333" stroke-width="0.72" />
<line x1="231.1" y1="527.7" x2="231.1" y2="534.6" stroke="#222" stroke-width="0.8" />
<line x1="230.1" y1="527.7" x2="232.1" y2="527.7" stroke="#222" stroke-width="0.7" />
<line x1="230.1" y1="534.6" x2="232.1" y2="534.6" stroke="#222" stroke-width="0.7" />
<polygon points="231.1,528.7 233.5,531.1 231.1,533.6 228.6,531.1" fill="#e05858" stroke="#333" stroke-width="0.72" />
<line x1="239.8" y1="526.8" x2="239.8" y2="533.7" stroke="#222" stroke-width="0.8" />
<line x1="238.8" y1="526.8" x2="240.8" y2="526.8" stroke="#222" stroke-width="0.7" />
<line x1="238.8" y1="533.7" x2="240.8" y2="533.7" stroke="#222" stroke-width="0.7" />
<polygon points="239.8,527.8 242.2,530.2 239.8,532.7 237.3,530.2" fill="#e05858" stroke="#333" stroke-width="0.72" />
<line x1="248.4" y1="525.9" x2="248.4" y2="532.8" stroke="#222" stroke-width="0.8" />
<line x1="247.4" y1="525.9" x2="249.4" y2="525.9" stroke="#222" stroke-width="0.7" />
<line x1="247.4" y1="532.8" x2="249.4" y2="532.8" stroke="#222" stroke-width="0.7" />
<polygon points="248.4,526.9 250.9,529.3 248.4,531.8 246,529.3" fill="#e05858" stroke="#333" stroke-width="0.72" />
<line x1="257.1" y1="524.1" x2="257.1" y2="531" stroke="#222" stroke-width="0.8" />
<line x1="256.1" y1="524.1" x2="258.1" y2="524.1" stroke="#222" stroke-width="0.7" />
<line x1="256.1" y1="531" x2="258.1" y2="531" stroke="#222" stroke-width="0.7" />
<polygon points="257.1,525.1 259.5,527.5 257.1,530 254.6,527.5" fill="#e05858" stroke="#333" stroke-width="0.72" />
<line x1="265.8" y1="524.1" x2="265.8" y2="531" stroke="#222" stroke-width="0.8" />
<line x1="264.8" y1="524.1" x2="266.8" y2="524.1" stroke="#222" stroke-width="0.7" />
<line x1="264.8" y1="531" x2="266.8" y2="531" stroke="#222" stroke-width="0.7" />
<polygon points="265.8,525.1 268.2,527.5 265.8,530 263.3,527.5" fill="#e05858" stroke="#333" stroke-width="0.72" />
<line x1="274.4" y1="524.1" x2="274.4" y2="531" stroke="#222" stroke-width="0.8" />
<line x1="273.4" y1="524.1" x2="275.4" y2="524.1" stroke="#222" stroke-width="0.7" />
<line x1="273.4" y1="531" x2="275.4" y2="531" stroke="#222" stroke-width="0.7" />
<polygon points="274.4,525.1 276.9,527.5 274.4,530 272,527.5" fill="#e05858" stroke="#333" stroke-width="0.72" />
<line x1="187.7" y1="561.1" x2="187.7" y2="566.6" stroke="#222" stroke-width="0.8" />
<line x1="186.7" y1="561.1" x2="188.7" y2="561.1" stroke="#222" stroke-width="0.7" />
<line x1="186.7" y1="566.6" x2="188.7" y2="566.6" stroke="#222" stroke-width="0.7" />
<rect x="185.8" y="561.9" width="3.8" height="3.8" fill="#ffffff" stroke="#333" stroke-width="0.72" />
<rect x="185.8" y="566.5" width="3.8" height="3.8" fill="#ffffff" stroke="#333" stroke-width="0.72" />
<rect x="281.2" y="555.6" width="3.8" height="3.8" fill="#ffffff" stroke="#333" stroke-width="0.72" />
<rect x="281.2" y="559.2" width="3.8" height="3.8" fill="#ffffff" stroke="#333" stroke-width="0.72" />
<rect x="289.9" y="566.5" width="3.8" height="3.8" fill="#ffffff" stroke="#333" stroke-width="0.72" />
<polygon points="187.7,566.8 190.2,569.3 187.7,571.7 185.3,569.3" fill="#f4a8a8" stroke="#333" stroke-width="0.72" />
<polygon points="283.1,562.3 285.6,564.7 283.1,567.2 280.7,564.7" fill="#f4a8a8" stroke="#333" stroke-width="0.72" />
<polygon points="291.8,567.7 294.2,570.2 291.8,572.6 289.3,570.2" fill="#f4a8a8" stroke="#333" stroke-width="0.72" />
<rect x="183.5" y="477" width="113" height="96.9" fill="none" stroke="#111" stroke-width="1.1" />
<line x1="183.4" y1="573.9" x2="183.4" y2="571.3" stroke="#111" stroke-width="0.9" />
<line x1="196.4" y1="573.9" x2="196.4" y2="572.1" stroke="#111" stroke-width="0.9" />
<line x1="209.4" y1="573.9" x2="209.4" y2="571.3" stroke="#111" stroke-width="0.9" />
<line x1="222.4" y1="573.9" x2="222.4" y2="572.1" stroke="#111" stroke-width="0.9" />
<line x1="235.4" y1="573.9" x2="235.4" y2="571.3" stroke="#111" stroke-width="0.9" />
<line x1="248.4" y1="573.9" x2="248.4" y2="572.1" stroke="#111" stroke-width="0.9" />
<line x1="261.4" y1="573.9" x2="261.4" y2="571.3" stroke="#111" stroke-width="0.9" />
<line x1="274.4" y1="573.9" x2="274.4" y2="572.1" stroke="#111" stroke-width="0.9" />
<line x1="287.4" y1="573.9" x2="287.4" y2="571.3" stroke="#111" stroke-width="0.9" />
<line x1="183.5" y1="572" x2="186.1" y2="572" stroke="#111" stroke-width="0.9" />
<line x1="183.5" y1="562.9" x2="185.3" y2="562.9" stroke="#111" stroke-width="0.9" />
<line x1="183.5" y1="553.8" x2="186.1" y2="553.8" stroke="#111" stroke-width="0.9" />
<line x1="183.5" y1="544.8" x2="185.3" y2="544.8" stroke="#111" stroke-width="0.9" />
<line x1="183.5" y1="535.7" x2="186.1" y2="535.7" stroke="#111" stroke-width="0.9" />
<line x1="183.5" y1="526.6" x2="185.3" y2="526.6" stroke="#111" stroke-width="0.9" />
<line x1="183.5" y1="517.5" x2="186.1" y2="517.5" stroke="#111" stroke-width="0.9" />
<line x1="183.5" y1="508.4" x2="185.3" y2="508.4" stroke="#111" stroke-width="0.9" />
<line x1="183.5" y1="499.4" x2="186.1" y2="499.4" stroke="#111" stroke-width="0.9" />
<line x1="183.5" y1="490.3" x2="185.3" y2="490.3" stroke="#111" stroke-width="0.9" />
<line x1="183.5" y1="481.2" x2="186.1" y2="481.2" stroke="#111" stroke-width="0.9" />
<text x="183.4" y="583.4" font-size="8.2" font-weight="bold" text-anchor="middle" fill="#000" >0</text>
<text x="209.4" y="583.4" font-size="8.2" font-weight="bold" text-anchor="middle" fill="#000" >3</text>
<text x="235.4" y="583.4" font-size="8.2" font-weight="bold" text-anchor="middle" fill="#000" >6</text>
<text x="261.4" y="583.4" font-size="8.2" font-weight="bold" text-anchor="middle" fill="#000" >9</text>
<text x="287.4" y="583.4" font-size="8.2" font-weight="bold" text-anchor="middle" fill="#000" >12</text>
<text x="180.5" y="575.4" font-size="8.2" font-weight="bold" text-anchor="end" fill="#000" >0.0</text>
<text x="180.5" y="557.2" font-size="8.2" font-weight="bold" text-anchor="end" fill="#000" >0.2</text>
<text x="180.5" y="539.1" font-size="8.2" font-weight="bold" text-anchor="end" fill="#000" >0.4</text>
<text x="180.5" y="520.9" font-size="8.2" font-weight="bold" text-anchor="end" fill="#000" >0.6</text>
<text x="180.5" y="502.8" font-size="8.2" font-weight="bold" text-anchor="end" fill="#000" >0.8</text>
<text x="180.5" y="484.6" font-size="8.2" font-weight="bold" text-anchor="end" fill="#000" >1.0</text>
<text x="239.5" y="591.9" font-size="8.4" font-weight="bold" text-anchor="middle" fill="#000" >Pore Volume</text>
<text x="166.3" y="525" font-size="8.4" font-weight="bold" text-anchor="middle" fill="#000" transform="rotate(-90 166.3 525)" ><tspan font-style="italic">C/C</tspan><tspan font-size="4.5" dy="0.8">0</tspan></text>
<rect x="299.5" y="477" width="11" height="45" fill="url(#g1f)" stroke="#111" stroke-width="1" />
<rect x="299.5" y="529" width="11" height="45" fill="url(#g2f)" stroke="#111" stroke-width="1" />
<text x="308" y="499.4" font-size="8.2" font-weight="bold" text-anchor="middle" fill="#000" transform="rotate(-90 308 499.4)" >PVA-fCB</text>
<text x="308" y="551.3" font-size="8.2" font-weight="bold" text-anchor="middle" fill="#000" transform="rotate(-90 308 551.3)" >NR</text>
<text x="320.6" y="476.9" font-size="7.8" font-weight="bold" text-anchor="end" fill="#000" transform="rotate(-90 320.6 476.9)" >2.0</text>
<text x="320.6" y="522.9" font-size="7.8" font-weight="bold" text-anchor="start" fill="#000" transform="rotate(-90 320.6 522.9)" >11.2</text>
<text x="320.6" y="528.6" font-size="7.8" font-weight="bold" text-anchor="end" fill="#000" transform="rotate(-90 320.6 528.6)" >2.0</text>
<text x="320.6" y="574.8" font-size="7.8" font-weight="bold" text-anchor="start" fill="#000" transform="rotate(-90 320.6 574.8)" >11.2</text>
<text x="330.2" y="524.9" font-size="8.25" font-weight="bold" text-anchor="middle" fill="#000" transform="rotate(-90 330.2 524.9)" >FPOC <tspan font-style="italic">S</tspan><tspan font-size="5" dy="1">n</tspan><tspan dy="-1"> (%)</tspan></text>
<polyline points="537.4,572 538.3,572 539.1,572 540,572 540.9,572 541.7,571.9 542.6,571.8 543.5,571.4 544.3,570.4 545.2,567.9 546.1,561.6 546.9,548.6 547.8,528.4 548.7,508.2 549.5,495 550.4,488.7 551.3,486.1 552.1,485 553,484.7 553.9,484.5 554.7,484.4 555.6,484.4 556.5,484.4 557.3,484.4 558.2,484.4 559.1,484.4 559.9,484.4 560.8,484.4 561.7,484.4 562.5,484.4 563.4,484.4 564.3,484.4 565.1,484.4 566,484.4 566.9,484.4 567.7,484.4 568.6,484.4 569.5,484.4 570.3,484.4 571.2,484.4 572.1,484.4 572.9,484.4 573.8,484.4 574.7,484.4 575.5,484.4 576.4,484.4 577.3,484.4 578.1,484.4 579,484.4 579.9,484.4 580.8,484.4 581.6,484.4 582.5,484.4 583.4,484.4 584.2,484.4 585.1,484.4 586,484.4 586.8,484.4 587.7,484.4 588.6,484.4 589.4,484.4 590.3,484.4 591.2,484.4 592,484.4 592.9,484.4 593.8,484.4 594.6,484.4 595.5,484.4 596.4,484.4 597.2,484.4 598.1,484.4 599,484.4 599.8,484.4 600.7,484.4 601.6,484.4 602.4,484.4 603.3,484.4 604.2,484.4 605,484.4 605.9,484.4 606.8,484.4 607.6,484.4 608.5,484.4 609.4,484.4 610.2,484.4 611.1,484.4 612,484.4 612.8,484.4 613.7,484.4 614.6,484.4 615.4,484.4 616.3,484.4 617.2,484.4 618,484.4 618.9,484.4 619.8,484.4 620.6,484.4 621.5,484.4 622.4,484.4 623.2,484.4 624.1,484.4 625,484.4 625.8,484.5 626.7,484.6 627.6,484.8 628.4,485.2 629.3,486 630.2,487.4 631,490.1 631.9,494.8 632.8,502.7 633.6,514.1 634.5,528.2 635.4,542.3 636.2,553.7 637.1,561.6 638,566.3 638.8,569 639.7,570.4 640.6,571.2 641.4,571.6 642.3,571.8 643.2,571.9 644,571.9 644.9,572 645.8,572 646.6,572 647.5,572 648.4,572 649.2,572 650.1,572" fill="none" stroke="#d0d0d0" stroke-width="0.9" stroke-linejoin="round"/>
<polyline points="537.4,572 538.3,572 539.1,572 540,572 540.9,572 541.7,571.9 542.6,571.8 543.5,571.5 544.3,570.7 545.2,568.6 546.1,563.3 546.9,551.7 547.8,532.6 548.7,511.5 549.5,496.6 550.4,489.1 551.3,486 552.1,484.7 553,484.3 553.9,484.1 554.7,484 555.6,484 556.5,483.9 557.3,483.9 558.2,483.9 559.1,483.9 559.9,483.9 560.8,483.9 561.7,483.9 562.5,483.9 563.4,483.9 564.3,483.9 565.1,483.9 566,483.9 566.9,483.9 567.7,483.9 568.6,483.9 569.5,483.9 570.3,483.9 571.2,483.9 572.1,483.9 572.9,483.9 573.8,483.9 574.7,483.9 575.5,483.9 576.4,483.9 577.3,483.9 578.1,483.9 579,483.9 579.9,483.9 580.8,483.9 581.6,483.9 582.5,483.9 583.4,483.9 584.2,483.9 585.1,483.9 586,483.9 586.8,483.9 587.7,483.9 588.6,483.9 589.4,483.9 590.3,483.9 591.2,483.9 592,483.9 592.9,483.9 593.8,483.9 594.6,483.9 595.5,483.9 596.4,483.9 597.2,483.9 598.1,483.9 599,483.9 599.8,483.9 600.7,483.9 601.6,483.9 602.4,483.9 603.3,483.9 604.2,483.9 605,483.9 605.9,483.9 606.8,483.9 607.6,483.9 608.5,483.9 609.4,483.9 610.2,483.9 611.1,483.9 612,483.9 612.8,483.9 613.7,483.9 614.6,483.9 615.4,483.9 616.3,483.9 617.2,483.9 618,483.9 618.9,483.9 619.8,483.9 620.6,483.9 621.5,483.9 622.4,483.9 623.2,483.9 624.1,484 625,484 625.8,484 626.7,484.1 627.6,484.3 628.4,484.7 629.3,485.5 630.2,487 631,489.6 631.9,494.4 632.8,502.3 633.6,513.8 634.5,528 635.4,542.1 636.2,553.6 637.1,561.5 638,566.3 638.8,569 639.7,570.4 640.6,571.2 641.4,571.6 642.3,571.8 643.2,571.9 644,571.9 644.9,572 645.8,572 646.6,572 647.5,572 648.4,572 649.2,572 650.1,572" fill="none" stroke="#b8b8b8" stroke-width="0.9" stroke-linejoin="round"/>
<polyline points="537.4,572 538.3,572 539.1,572 540,572 540.9,572 541.7,571.9 542.6,571.8 543.5,571.6 544.3,571.2 545.2,570.1 546.1,568 546.9,563.9 547.8,557.6 548.7,550 549.5,543.2 550.4,538.7 551.3,536 552.1,534.5 553,533.5 553.9,532.9 554.7,532.3 555.6,531.8 556.5,531.3 557.3,530.8 558.2,530.4 559.1,529.9 559.9,529.5 560.8,529 561.7,528.5 562.5,528.1 563.4,527.6 564.3,527.1 565.1,526.7 566,526.2 566.9,525.8 567.7,525.3 568.6,524.8 569.5,524.4 570.3,523.9 571.2,523.5 572.1,523 572.9,522.5 573.8,522.1 574.7,521.6 575.5,521.1 576.4,520.7 577.3,520.2 578.1,519.8 579,519.3 579.9,518.8 580.8,518.4 581.6,517.9 582.5,517.5 583.4,517 584.2,516.5 585.1,516.1 586,515.6 586.8,515.1 587.7,514.7 588.6,514.2 589.4,513.8 590.3,513.3 591.2,512.8 592,512.4 592.9,511.9 593.8,511.5 594.6,511 595.5,510.5 596.4,510.1 597.2,509.6 598.1,509.2 599,508.7 599.8,508.2 600.7,507.8 601.6,507.3 602.4,506.8 603.3,506.4 604.2,505.9 605,505.5 605.9,505 606.8,504.5 607.6,504.1 608.5,503.6 609.4,503.2 610.2,502.7 611.1,502.2 612,501.8 612.8,501.3 613.7,500.8 614.6,500.4 615.4,499.9 616.3,499.5 617.2,499 618,498.5 618.9,498.1 619.8,497.6 620.6,497.2 621.5,496.7 622.4,496.2 623.2,495.8 624.1,495.3 625,494.9 625.8,494.5 626.7,494.1 627.6,493.8 628.4,493.7 629.3,494 630.2,494.8 631,496.8 631.9,500.8 632.8,507.7 633.6,518 634.5,530.9 635.4,543.9 636.2,554.7 637.1,562 638,566.5 638.8,569.1 639.7,570.5 640.6,571.2 641.4,571.6 642.3,571.8 643.2,571.9 644,571.9 644.9,572 645.8,572 646.6,572 647.5,572 648.4,572 649.2,572 650.1,572" fill="none" stroke="#fbd0a8" stroke-width="0.9" stroke-linejoin="round"/>
<polyline points="537.4,572 538.3,572 539.1,572 540,572 540.9,572 541.7,571.9 542.6,571.9 543.5,571.7 544.3,571.3 545.2,570.4 546.1,568.5 546.9,564.9 547.8,559.4 548.7,552.8 549.5,547 550.4,543.1 551.3,541 552.1,539.8 553,539.1 553.9,538.6 554.7,538.3 555.6,538 556.5,537.7 557.3,537.4 558.2,537.2 559.1,536.9 559.9,536.6 560.8,536.4 561.7,536.1 562.5,535.8 563.4,535.6 564.3,535.3 565.1,535.1 566,534.8 566.9,534.5 567.7,534.3 568.6,534 569.5,533.7 570.3,533.5 571.2,533.2 572.1,532.9 572.9,532.7 573.8,532.4 574.7,532.1 575.5,531.9 576.4,531.6 577.3,531.3 578.1,531.1 579,530.8 579.9,530.5 580.8,530.3 581.6,530 582.5,529.8 583.4,529.5 584.2,529.2 585.1,529 586,528.7 586.8,528.4 587.7,528.2 588.6,527.9 589.4,527.6 590.3,527.4 591.2,527.1 592,526.8 592.9,526.6 593.8,526.3 594.6,526 595.5,525.8 596.4,525.5 597.2,525.2 598.1,525 599,524.7 599.8,524.5 600.7,524.2 601.6,523.9 602.4,523.7 603.3,523.4 604.2,523.1 605,522.9 605.9,522.6 606.8,522.3 607.6,522.1 608.5,521.8 609.4,521.5 610.2,521.3 611.1,521 612,520.7 612.8,520.5 613.7,520.2 614.6,519.9 615.4,519.7 616.3,519.4 617.2,519.1 618,518.9 618.9,518.6 619.8,518.4 620.6,518.1 621.5,517.8 622.4,517.6 623.2,517.3 624.1,517 625,516.8 625.8,516.6 626.7,516.4 627.6,516.2 628.4,516.2 629.3,516.5 630.2,517.1 631,518.6 631.9,521.5 632.8,526.4 633.6,533.8 634.5,542.9 635.4,552.2 636.2,559.8 637.1,565 638,568.2 638.8,570 639.7,570.9 640.6,571.4 641.4,571.7 642.3,571.9 643.2,571.9 644,572 644.9,572 645.8,572 646.6,572 647.5,572 648.4,572 649.2,572 650.1,572" fill="none" stroke="#f6a860" stroke-width="0.9" stroke-linejoin="round"/>
<polyline points="537.4,572 538.3,572 539.1,572 540,572 540.9,572 541.7,571.9 542.6,571.9 543.5,571.7 544.3,571.4 545.2,570.6 546.1,569 546.9,565.9 547.8,561.2 548.7,555.5 549.5,550.6 550.4,547.3 551.3,545.5 552.1,544.5 553,544 553.9,543.6 554.7,543.3 555.6,543.1 556.5,542.9 557.3,542.7 558.2,542.5 559.1,542.3 559.9,542.1 560.8,541.9 561.7,541.7 562.5,541.5 563.4,541.3 564.3,541.1 565.1,540.9 566,540.7 566.9,540.5 567.7,540.3 568.6,540.1 569.5,540 570.3,539.8 571.2,539.6 572.1,539.4 572.9,539.2 573.8,539 574.7,538.8 575.5,538.6 576.4,538.4 577.3,538.2 578.1,538 579,537.8 579.9,537.6 580.8,537.4 581.6,537.2 582.5,537 583.4,536.8 584.2,536.6 585.1,536.4 586,536.2 586.8,536 587.7,535.8 588.6,535.6 589.4,535.4 590.3,535.2 591.2,535 592,534.8 592.9,534.6 593.8,534.5 594.6,534.3 595.5,534.1 596.4,533.9 597.2,533.7 598.1,533.5 599,533.3 599.8,533.1 600.7,532.9 601.6,532.7 602.4,532.5 603.3,532.3 604.2,532.1 605,531.9 605.9,531.7 606.8,531.5 607.6,531.3 608.5,531.1 609.4,530.9 610.2,530.7 611.1,530.5 612,530.3 612.8,530.1 613.7,529.9 614.6,529.7 615.4,529.5 616.3,529.3 617.2,529.2 618,529 618.9,528.8 619.8,528.6 620.6,528.4 621.5,528.2 622.4,528 623.2,527.8 624.1,527.6 625,527.4 625.8,527.2 626.7,527.1 627.6,527 628.4,527 629.3,527.2 630.2,527.8 631,529 631.9,531.3 632.8,535.3 633.6,541.2 634.5,548.6 635.4,556.1 636.2,562.2 637.1,566.4 638,568.9 638.8,570.4 639.7,571.1 640.6,571.6 641.4,571.8 642.3,571.9 643.2,571.9 644,572 644.9,572 645.8,572 646.6,572 647.5,572 648.4,572 649.2,572 650.1,572" fill="none" stroke="#f08a30" stroke-width="0.9" stroke-linejoin="round"/>
<rect x="548.5" y="497.5" width="3.8" height="3.8" fill="#ffffff" stroke="#333" stroke-width="0.72" />
<rect x="557.2" y="482.9" width="3.8" height="3.8" fill="#ffffff" stroke="#333" stroke-width="0.72" />
<rect x="565.8" y="482" width="3.8" height="3.8" fill="#ffffff" stroke="#333" stroke-width="0.72" />
<rect x="574.5" y="481.1" width="3.8" height="3.8" fill="#ffffff" stroke="#333" stroke-width="0.72" />
<rect x="583.2" y="481.1" width="3.8" height="3.8" fill="#ffffff" stroke="#333" stroke-width="0.72" />
<rect x="591.9" y="481.1" width="3.8" height="3.8" fill="#ffffff" stroke="#333" stroke-width="0.72" />
<rect x="600.5" y="481.1" width="3.8" height="3.8" fill="#ffffff" stroke="#333" stroke-width="0.72" />
<rect x="609.2" y="481.1" width="3.8" height="3.8" fill="#ffffff" stroke="#333" stroke-width="0.72" />
<rect x="617.9" y="481.1" width="3.8" height="3.8" fill="#ffffff" stroke="#333" stroke-width="0.72" />
<rect x="626.5" y="482" width="3.8" height="3.8" fill="#ffffff" stroke="#333" stroke-width="0.72" />
<line x1="550.4" y1="505.7" x2="550.4" y2="511.2" stroke="#222" stroke-width="0.8" />
<line x1="549.4" y1="505.7" x2="551.4" y2="505.7" stroke="#222" stroke-width="0.7" />
<line x1="549.4" y1="511.2" x2="551.4" y2="511.2" stroke="#222" stroke-width="0.7" />
<rect x="548.5" y="506.5" width="3.8" height="3.8" fill="#9a9a9a" stroke="#333" stroke-width="0.72" />
<line x1="559.1" y1="483.9" x2="559.1" y2="489.4" stroke="#222" stroke-width="0.8" />
<line x1="558.1" y1="483.9" x2="560.1" y2="483.9" stroke="#222" stroke-width="0.7" />
<line x1="558.1" y1="489.4" x2="560.1" y2="489.4" stroke="#222" stroke-width="0.7" />
<rect x="557.2" y="484.7" width="3.8" height="3.8" fill="#9a9a9a" stroke="#333" stroke-width="0.72" />
<line x1="567.7" y1="482.1" x2="567.7" y2="487.6" stroke="#222" stroke-width="0.8" />
<line x1="566.7" y1="482.1" x2="568.7" y2="482.1" stroke="#222" stroke-width="0.7" />
<line x1="566.7" y1="487.6" x2="568.7" y2="487.6" stroke="#222" stroke-width="0.7" />
<rect x="565.8" y="482.9" width="3.8" height="3.8" fill="#9a9a9a" stroke="#333" stroke-width="0.72" />
<line x1="576.4" y1="481.2" x2="576.4" y2="486.6" stroke="#222" stroke-width="0.8" />
<line x1="575.4" y1="481.2" x2="577.4" y2="481.2" stroke="#222" stroke-width="0.7" />
<line x1="575.4" y1="486.6" x2="577.4" y2="486.6" stroke="#222" stroke-width="0.7" />
<rect x="574.5" y="482" width="3.8" height="3.8" fill="#9a9a9a" stroke="#333" stroke-width="0.72" />
<line x1="585.1" y1="481.2" x2="585.1" y2="486.6" stroke="#222" stroke-width="0.8" />
<line x1="584.1" y1="481.2" x2="586.1" y2="481.2" stroke="#222" stroke-width="0.7" />
<line x1="584.1" y1="486.6" x2="586.1" y2="486.6" stroke="#222" stroke-width="0.7" />
<rect x="583.2" y="482" width="3.8" height="3.8" fill="#9a9a9a" stroke="#333" stroke-width="0.72" />
<line x1="593.8" y1="481.2" x2="593.8" y2="486.6" stroke="#222" stroke-width="0.8" />
<line x1="592.8" y1="481.2" x2="594.8" y2="481.2" stroke="#222" stroke-width="0.7" />
<line x1="592.8" y1="486.6" x2="594.8" y2="486.6" stroke="#222" stroke-width="0.7" />
<rect x="591.9" y="482" width="3.8" height="3.8" fill="#9a9a9a" stroke="#333" stroke-width="0.72" />
<line x1="602.4" y1="481.2" x2="602.4" y2="486.6" stroke="#222" stroke-width="0.8" />
<line x1="601.4" y1="481.2" x2="603.4" y2="481.2" stroke="#222" stroke-width="0.7" />
<line x1="601.4" y1="486.6" x2="603.4" y2="486.6" stroke="#222" stroke-width="0.7" />
<rect x="600.5" y="482" width="3.8" height="3.8" fill="#9a9a9a" stroke="#333" stroke-width="0.72" />
<line x1="611.1" y1="481.2" x2="611.1" y2="486.6" stroke="#222" stroke-width="0.8" />
<line x1="610.1" y1="481.2" x2="612.1" y2="481.2" stroke="#222" stroke-width="0.7" />
<line x1="610.1" y1="486.6" x2="612.1" y2="486.6" stroke="#222" stroke-width="0.7" />
<rect x="609.2" y="482" width="3.8" height="3.8" fill="#9a9a9a" stroke="#333" stroke-width="0.72" />
<line x1="619.8" y1="481.2" x2="619.8" y2="486.6" stroke="#222" stroke-width="0.8" />
<line x1="618.8" y1="481.2" x2="620.8" y2="481.2" stroke="#222" stroke-width="0.7" />
<line x1="618.8" y1="486.6" x2="620.8" y2="486.6" stroke="#222" stroke-width="0.7" />
<rect x="617.9" y="482" width="3.8" height="3.8" fill="#9a9a9a" stroke="#333" stroke-width="0.72" />
<line x1="628.4" y1="483" x2="628.4" y2="488.5" stroke="#222" stroke-width="0.8" />
<line x1="627.4" y1="483" x2="629.4" y2="483" stroke="#222" stroke-width="0.7" />
<line x1="627.4" y1="488.5" x2="629.4" y2="488.5" stroke="#222" stroke-width="0.7" />
<rect x="626.5" y="483.8" width="3.8" height="3.8" fill="#9a9a9a" stroke="#333" stroke-width="0.72" />
<line x1="550.4" y1="537.5" x2="550.4" y2="544.8" stroke="#222" stroke-width="0.8" />
<line x1="549.4" y1="537.5" x2="551.4" y2="537.5" stroke="#222" stroke-width="0.7" />
<line x1="549.4" y1="544.8" x2="551.4" y2="544.8" stroke="#222" stroke-width="0.7" />
<polygon points="550.4,538.7 552.9,541.1 550.4,543.6 548,541.1" fill="#fff2e6" stroke="#333" stroke-width="0.72" />
<line x1="559.1" y1="522.1" x2="559.1" y2="529.3" stroke="#222" stroke-width="0.8" />
<line x1="558.1" y1="522.1" x2="560.1" y2="522.1" stroke="#222" stroke-width="0.7" />
<line x1="558.1" y1="529.3" x2="560.1" y2="529.3" stroke="#222" stroke-width="0.7" />
<polygon points="559.1,523.2 561.5,525.7 559.1,528.1 556.6,525.7" fill="#fff2e6" stroke="#333" stroke-width="0.72" />
<line x1="567.7" y1="516.6" x2="567.7" y2="523.9" stroke="#222" stroke-width="0.8" />
<line x1="566.7" y1="516.6" x2="568.7" y2="516.6" stroke="#222" stroke-width="0.7" />
<line x1="566.7" y1="523.9" x2="568.7" y2="523.9" stroke="#222" stroke-width="0.7" />
<polygon points="567.7,517.8 570.2,520.2 567.7,522.7 565.3,520.2" fill="#fff2e6" stroke="#333" stroke-width="0.72" />
<line x1="576.4" y1="513" x2="576.4" y2="520.2" stroke="#222" stroke-width="0.8" />
<line x1="575.4" y1="513" x2="577.4" y2="513" stroke="#222" stroke-width="0.7" />
<line x1="575.4" y1="520.2" x2="577.4" y2="520.2" stroke="#222" stroke-width="0.7" />
<polygon points="576.4,514.2 578.9,516.6 576.4,519.1 574,516.6" fill="#fff2e6" stroke="#333" stroke-width="0.72" />
<line x1="585.1" y1="509.3" x2="585.1" y2="516.6" stroke="#222" stroke-width="0.8" />
<line x1="584.1" y1="509.3" x2="586.1" y2="509.3" stroke="#222" stroke-width="0.7" />
<line x1="584.1" y1="516.6" x2="586.1" y2="516.6" stroke="#222" stroke-width="0.7" />
<polygon points="585.1,510.5 587.5,513 585.1,515.4 582.6,513" fill="#fff2e6" stroke="#333" stroke-width="0.72" />
<line x1="593.8" y1="504.8" x2="593.8" y2="512.1" stroke="#222" stroke-width="0.8" />
<line x1="592.8" y1="504.8" x2="594.8" y2="504.8" stroke="#222" stroke-width="0.7" />
<line x1="592.8" y1="512.1" x2="594.8" y2="512.1" stroke="#222" stroke-width="0.7" />
<polygon points="593.8,506 596.2,508.4 593.8,510.9 591.3,508.4" fill="#fff2e6" stroke="#333" stroke-width="0.72" />
<line x1="602.4" y1="500.3" x2="602.4" y2="507.5" stroke="#222" stroke-width="0.8" />
<line x1="601.4" y1="500.3" x2="603.4" y2="500.3" stroke="#222" stroke-width="0.7" />
<line x1="601.4" y1="507.5" x2="603.4" y2="507.5" stroke="#222" stroke-width="0.7" />
<polygon points="602.4,501.4 604.9,503.9 602.4,506.3 600,503.9" fill="#fff2e6" stroke="#333" stroke-width="0.72" />
<line x1="611.1" y1="498.5" x2="611.1" y2="505.7" stroke="#222" stroke-width="0.8" />
<line x1="610.1" y1="498.5" x2="612.1" y2="498.5" stroke="#222" stroke-width="0.7" />
<line x1="610.1" y1="505.7" x2="612.1" y2="505.7" stroke="#222" stroke-width="0.7" />
<polygon points="611.1,499.6 613.5,502.1 611.1,504.5 608.6,502.1" fill="#fff2e6" stroke="#333" stroke-width="0.72" />
<line x1="619.8" y1="494.8" x2="619.8" y2="502.1" stroke="#222" stroke-width="0.8" />
<line x1="618.8" y1="494.8" x2="620.8" y2="494.8" stroke="#222" stroke-width="0.7" />
<line x1="618.8" y1="502.1" x2="620.8" y2="502.1" stroke="#222" stroke-width="0.7" />
<polygon points="619.8,496 622.2,498.5 619.8,500.9 617.3,498.5" fill="#fff2e6" stroke="#333" stroke-width="0.72" />
<line x1="628.4" y1="489.4" x2="628.4" y2="496.6" stroke="#222" stroke-width="0.8" />
<line x1="627.4" y1="489.4" x2="629.4" y2="489.4" stroke="#222" stroke-width="0.7" />
<line x1="627.4" y1="496.6" x2="629.4" y2="496.6" stroke="#222" stroke-width="0.7" />
<polygon points="628.4,490.6 630.9,493 628.4,495.5 626,493" fill="#fff2e6" stroke="#333" stroke-width="0.72" />
<line x1="550.4" y1="543.1" x2="550.4" y2="550" stroke="#222" stroke-width="0.8" />
<line x1="549.4" y1="543.1" x2="551.4" y2="543.1" stroke="#222" stroke-width="0.7" />
<line x1="549.4" y1="550" x2="551.4" y2="550" stroke="#222" stroke-width="0.7" />
<polygon points="550.4,544.1 552.9,546.6 550.4,549 548,546.6" fill="#fbd2a8" stroke="#333" stroke-width="0.72" />
<line x1="559.1" y1="532.2" x2="559.1" y2="539.1" stroke="#222" stroke-width="0.8" />
<line x1="558.1" y1="532.2" x2="560.1" y2="532.2" stroke="#222" stroke-width="0.7" />
<line x1="558.1" y1="539.1" x2="560.1" y2="539.1" stroke="#222" stroke-width="0.7" />
<polygon points="559.1,533.2 561.5,535.7 559.1,538.1 556.6,535.7" fill="#fbd2a8" stroke="#333" stroke-width="0.72" />
<line x1="567.7" y1="529.5" x2="567.7" y2="536.4" stroke="#222" stroke-width="0.8" />
<line x1="566.7" y1="529.5" x2="568.7" y2="529.5" stroke="#222" stroke-width="0.7" />
<line x1="566.7" y1="536.4" x2="568.7" y2="536.4" stroke="#222" stroke-width="0.7" />
<polygon points="567.7,530.5 570.2,533 567.7,535.4 565.3,533" fill="#fbd2a8" stroke="#333" stroke-width="0.72" />
<line x1="576.4" y1="526.8" x2="576.4" y2="533.7" stroke="#222" stroke-width="0.8" />
<line x1="575.4" y1="526.8" x2="577.4" y2="526.8" stroke="#222" stroke-width="0.7" />
<line x1="575.4" y1="533.7" x2="577.4" y2="533.7" stroke="#222" stroke-width="0.7" />
<polygon points="576.4,527.8 578.9,530.2 576.4,532.7 574,530.2" fill="#fbd2a8" stroke="#333" stroke-width="0.72" />
<line x1="585.1" y1="524.1" x2="585.1" y2="531" stroke="#222" stroke-width="0.8" />
<line x1="584.1" y1="524.1" x2="586.1" y2="524.1" stroke="#222" stroke-width="0.7" />
<line x1="584.1" y1="531" x2="586.1" y2="531" stroke="#222" stroke-width="0.7" />
<polygon points="585.1,525.1 587.5,527.5 585.1,530 582.6,527.5" fill="#fbd2a8" stroke="#333" stroke-width="0.72" />
<line x1="593.8" y1="522.2" x2="593.8" y2="529.1" stroke="#222" stroke-width="0.8" />
<line x1="592.8" y1="522.2" x2="594.8" y2="522.2" stroke="#222" stroke-width="0.7" />
<line x1="592.8" y1="529.1" x2="594.8" y2="529.1" stroke="#222" stroke-width="0.7" />
<polygon points="593.8,523.2 596.2,525.7 593.8,528.1 591.3,525.7" fill="#fbd2a8" stroke="#333" stroke-width="0.72" />
<line x1="602.4" y1="518.6" x2="602.4" y2="525.5" stroke="#222" stroke-width="0.8" />
<line x1="601.4" y1="518.6" x2="603.4" y2="518.6" stroke="#222" stroke-width="0.7" />
<line x1="601.4" y1="525.5" x2="603.4" y2="525.5" stroke="#222" stroke-width="0.7" />
<polygon points="602.4,519.6 604.9,522.1 602.4,524.5 600,522.1" fill="#fbd2a8" stroke="#333" stroke-width="0.72" />
<line x1="611.1" y1="518.6" x2="611.1" y2="525.5" stroke="#222" stroke-width="0.8" />
<line x1="610.1" y1="518.6" x2="612.1" y2="518.6" stroke="#222" stroke-width="0.7" />
<line x1="610.1" y1="525.5" x2="612.1" y2="525.5" stroke="#222" stroke-width="0.7" />
<polygon points="611.1,519.6 613.5,522.1 611.1,524.5 608.6,522.1" fill="#fbd2a8" stroke="#333" stroke-width="0.72" />
<line x1="619.8" y1="515.9" x2="619.8" y2="522.8" stroke="#222" stroke-width="0.8" />
<line x1="618.8" y1="515.9" x2="620.8" y2="515.9" stroke="#222" stroke-width="0.7" />
<line x1="618.8" y1="522.8" x2="620.8" y2="522.8" stroke="#222" stroke-width="0.7" />
<polygon points="619.8,516.9 622.2,519.3 619.8,521.8 617.3,519.3" fill="#fbd2a8" stroke="#333" stroke-width="0.72" />
<line x1="628.4" y1="515.9" x2="628.4" y2="522.8" stroke="#222" stroke-width="0.8" />
<line x1="627.4" y1="515.9" x2="629.4" y2="515.9" stroke="#222" stroke-width="0.7" />
<line x1="627.4" y1="522.8" x2="629.4" y2="522.8" stroke="#222" stroke-width="0.7" />
<polygon points="628.4,516.9 630.9,519.3 628.4,521.8 626,519.3" fill="#fbd2a8" stroke="#333" stroke-width="0.72" />
<line x1="550.4" y1="551.1" x2="550.4" y2="556.6" stroke="#222" stroke-width="0.8" />
<line x1="549.4" y1="551.1" x2="551.4" y2="551.1" stroke="#222" stroke-width="0.7" />
<line x1="549.4" y1="556.6" x2="551.4" y2="556.6" stroke="#222" stroke-width="0.7" />
<polygon points="550.4,551.4 552.9,553.8 550.4,556.3 548,553.8" fill="#f29038" stroke="#333" stroke-width="0.72" />
<line x1="559.1" y1="540.2" x2="559.1" y2="545.7" stroke="#222" stroke-width="0.8" />
<line x1="558.1" y1="540.2" x2="560.1" y2="540.2" stroke="#222" stroke-width="0.7" />
<line x1="558.1" y1="545.7" x2="560.1" y2="545.7" stroke="#222" stroke-width="0.7" />
<polygon points="559.1,540.5 561.5,542.9 559.1,545.4 556.6,542.9" fill="#f29038" stroke="#333" stroke-width="0.72" />
<line x1="567.7" y1="535.7" x2="567.7" y2="541.1" stroke="#222" stroke-width="0.8" />
<line x1="566.7" y1="535.7" x2="568.7" y2="535.7" stroke="#222" stroke-width="0.7" />
<line x1="566.7" y1="541.1" x2="568.7" y2="541.1" stroke="#222" stroke-width="0.7" />
<polygon points="567.7,536 570.2,538.4 567.7,540.9 565.3,538.4" fill="#f29038" stroke="#333" stroke-width="0.72" />
<line x1="576.4" y1="534.8" x2="576.4" y2="540.2" stroke="#222" stroke-width="0.8" />
<line x1="575.4" y1="534.8" x2="577.4" y2="534.8" stroke="#222" stroke-width="0.7" />
<line x1="575.4" y1="540.2" x2="577.4" y2="540.2" stroke="#222" stroke-width="0.7" />
<polygon points="576.4,535 578.9,537.5 576.4,539.9 574,537.5" fill="#f29038" stroke="#333" stroke-width="0.72" />
<line x1="585.1" y1="533" x2="585.1" y2="538.4" stroke="#222" stroke-width="0.8" />
<line x1="584.1" y1="533" x2="586.1" y2="533" stroke="#222" stroke-width="0.7" />
<line x1="584.1" y1="538.4" x2="586.1" y2="538.4" stroke="#222" stroke-width="0.7" />
<polygon points="585.1,533.2 587.5,535.7 585.1,538.1 582.6,535.7" fill="#f29038" stroke="#333" stroke-width="0.72" />
<line x1="593.8" y1="530.2" x2="593.8" y2="535.7" stroke="#222" stroke-width="0.8" />
<line x1="592.8" y1="530.2" x2="594.8" y2="530.2" stroke="#222" stroke-width="0.7" />
<line x1="592.8" y1="535.7" x2="594.8" y2="535.7" stroke="#222" stroke-width="0.7" />
<polygon points="593.8,530.5 596.2,533 593.8,535.4 591.3,533" fill="#f29038" stroke="#333" stroke-width="0.72" />
<line x1="602.4" y1="528.4" x2="602.4" y2="533.9" stroke="#222" stroke-width="0.8" />
<line x1="601.4" y1="528.4" x2="603.4" y2="528.4" stroke="#222" stroke-width="0.7" />
<line x1="601.4" y1="533.9" x2="603.4" y2="533.9" stroke="#222" stroke-width="0.7" />
<polygon points="602.4,528.7 604.9,531.1 602.4,533.6 600,531.1" fill="#f29038" stroke="#333" stroke-width="0.72" />
<line x1="611.1" y1="529.3" x2="611.1" y2="534.8" stroke="#222" stroke-width="0.8" />
<line x1="610.1" y1="529.3" x2="612.1" y2="529.3" stroke="#222" stroke-width="0.7" />
<line x1="610.1" y1="534.8" x2="612.1" y2="534.8" stroke="#222" stroke-width="0.7" />
<polygon points="611.1,529.6 613.5,532 611.1,534.5 608.6,532" fill="#f29038" stroke="#333" stroke-width="0.72" />
<line x1="619.8" y1="529.3" x2="619.8" y2="534.8" stroke="#222" stroke-width="0.8" />
<line x1="618.8" y1="529.3" x2="620.8" y2="529.3" stroke="#222" stroke-width="0.7" />
<line x1="618.8" y1="534.8" x2="620.8" y2="534.8" stroke="#222" stroke-width="0.7" />
<polygon points="619.8,529.6 622.2,532 619.8,534.5 617.3,532" fill="#f29038" stroke="#333" stroke-width="0.72" />
<line x1="628.4" y1="527.5" x2="628.4" y2="533" stroke="#222" stroke-width="0.8" />
<line x1="627.4" y1="527.5" x2="629.4" y2="527.5" stroke="#222" stroke-width="0.7" />
<line x1="627.4" y1="533" x2="629.4" y2="533" stroke="#222" stroke-width="0.7" />
<polygon points="628.4,527.8 630.9,530.2 628.4,532.7 626,530.2" fill="#f29038" stroke="#333" stroke-width="0.72" />
<rect x="539.8" y="566.5" width="3.8" height="3.8" fill="#ffffff" stroke="#333" stroke-width="0.72" />
<rect x="539.8" y="568.3" width="3.8" height="3.8" fill="#ffffff" stroke="#333" stroke-width="0.72" />
<rect x="635.2" y="556.5" width="3.8" height="3.8" fill="#ffffff" stroke="#333" stroke-width="0.72" />
<rect x="635.2" y="561" width="3.8" height="3.8" fill="#ffffff" stroke="#333" stroke-width="0.72" />
<rect x="643.9" y="565.6" width="3.8" height="3.8" fill="#ffffff" stroke="#333" stroke-width="0.72" />
<polygon points="637.1,564.1 639.6,566.6 637.1,569 634.7,566.6" fill="#f29038" stroke="#333" stroke-width="0.72" />
<polygon points="645.8,567.7 648.2,570.2 645.8,572.6 643.3,570.2" fill="#f29038" stroke="#333" stroke-width="0.72" />
<rect x="537.5" y="477" width="113" height="96.9" fill="none" stroke="#111" stroke-width="1.1" />
<line x1="537.4" y1="573.9" x2="537.4" y2="571.3" stroke="#111" stroke-width="0.9" />
<line x1="550.4" y1="573.9" x2="550.4" y2="572.1" stroke="#111" stroke-width="0.9" />
<line x1="563.4" y1="573.9" x2="563.4" y2="571.3" stroke="#111" stroke-width="0.9" />
<line x1="576.4" y1="573.9" x2="576.4" y2="572.1" stroke="#111" stroke-width="0.9" />
<line x1="589.4" y1="573.9" x2="589.4" y2="571.3" stroke="#111" stroke-width="0.9" />
<line x1="602.4" y1="573.9" x2="602.4" y2="572.1" stroke="#111" stroke-width="0.9" />
<line x1="615.4" y1="573.9" x2="615.4" y2="571.3" stroke="#111" stroke-width="0.9" />
<line x1="628.4" y1="573.9" x2="628.4" y2="572.1" stroke="#111" stroke-width="0.9" />
<line x1="641.4" y1="573.9" x2="641.4" y2="571.3" stroke="#111" stroke-width="0.9" />
<line x1="537.5" y1="572" x2="540.1" y2="572" stroke="#111" stroke-width="0.9" />
<line x1="537.5" y1="562.9" x2="539.3" y2="562.9" stroke="#111" stroke-width="0.9" />
<line x1="537.5" y1="553.8" x2="540.1" y2="553.8" stroke="#111" stroke-width="0.9" />
<line x1="537.5" y1="544.8" x2="539.3" y2="544.8" stroke="#111" stroke-width="0.9" />
<line x1="537.5" y1="535.7" x2="540.1" y2="535.7" stroke="#111" stroke-width="0.9" />
<line x1="537.5" y1="526.6" x2="539.3" y2="526.6" stroke="#111" stroke-width="0.9" />
<line x1="537.5" y1="517.5" x2="540.1" y2="517.5" stroke="#111" stroke-width="0.9" />
<line x1="537.5" y1="508.4" x2="539.3" y2="508.4" stroke="#111" stroke-width="0.9" />
<line x1="537.5" y1="499.4" x2="540.1" y2="499.4" stroke="#111" stroke-width="0.9" />
<line x1="537.5" y1="490.3" x2="539.3" y2="490.3" stroke="#111" stroke-width="0.9" />
<line x1="537.5" y1="481.2" x2="540.1" y2="481.2" stroke="#111" stroke-width="0.9" />
<text x="537.4" y="583.4" font-size="8.2" font-weight="bold" text-anchor="middle" fill="#000" >0</text>
<text x="563.4" y="583.4" font-size="8.2" font-weight="bold" text-anchor="middle" fill="#000" >3</text>
<text x="589.4" y="583.4" font-size="8.2" font-weight="bold" text-anchor="middle" fill="#000" >6</text>
<text x="615.4" y="583.4" font-size="8.2" font-weight="bold" text-anchor="middle" fill="#000" >9</text>
<text x="641.4" y="583.4" font-size="8.2" font-weight="bold" text-anchor="middle" fill="#000" >12</text>
<text x="534.5" y="575.4" font-size="8.2" font-weight="bold" text-anchor="end" fill="#000" >0.0</text>
<text x="534.5" y="557.2" font-size="8.2" font-weight="bold" text-anchor="end" fill="#000" >0.2</text>
<text x="534.5" y="539.1" font-size="8.2" font-weight="bold" text-anchor="end" fill="#000" >0.4</text>
<text x="534.5" y="520.9" font-size="8.2" font-weight="bold" text-anchor="end" fill="#000" >0.6</text>
<text x="534.5" y="502.8" font-size="8.2" font-weight="bold" text-anchor="end" fill="#000" >0.8</text>
<text x="534.5" y="484.6" font-size="8.2" font-weight="bold" text-anchor="end" fill="#000" >1.0</text>
<text x="593.5" y="591.9" font-size="8.4" font-weight="bold" text-anchor="middle" fill="#000" >Pore Volume</text>
<text x="520.3" y="525" font-size="8.4" font-weight="bold" text-anchor="middle" fill="#000" transform="rotate(-90 520.3 525)" ><tspan font-style="italic">C/C</tspan><tspan font-size="4.5" dy="0.8">0</tspan></text>
<rect x="653.5" y="477" width="11" height="45" fill="url(#g1g)" stroke="#111" stroke-width="1" />
<rect x="653.5" y="529" width="11" height="45" fill="url(#g2g)" stroke="#111" stroke-width="1" />
<text x="662" y="499.4" font-size="8.2" font-weight="bold" text-anchor="middle" fill="#000" transform="rotate(-90 662 499.4)" >PVA-fCB</text>
<text x="662" y="551.3" font-size="8.2" font-weight="bold" text-anchor="middle" fill="#000" transform="rotate(-90 662 551.3)" >NR</text>
<text x="674.6" y="476.9" font-size="7.8" font-weight="bold" text-anchor="end" fill="#000" transform="rotate(-90 674.6 476.9)" >2.3</text>
<text x="674.6" y="522.9" font-size="7.8" font-weight="bold" text-anchor="start" fill="#000" transform="rotate(-90 674.6 522.9)" >11.4</text>
<text x="674.6" y="528.6" font-size="7.8" font-weight="bold" text-anchor="end" fill="#000" transform="rotate(-90 674.6 528.6)" >2.3</text>
<text x="674.6" y="574.8" font-size="7.8" font-weight="bold" text-anchor="start" fill="#000" transform="rotate(-90 674.6 574.8)" >11.4</text>
<text x="684.2" y="524.9" font-size="8.25" font-weight="bold" text-anchor="middle" fill="#000" transform="rotate(-90 684.2 524.9)" >FPOC <tspan font-style="italic">S</tspan><tspan font-size="5" dy="1">n</tspan><tspan dy="-1"> (%)</tspan></text></svg>
</body></html>
